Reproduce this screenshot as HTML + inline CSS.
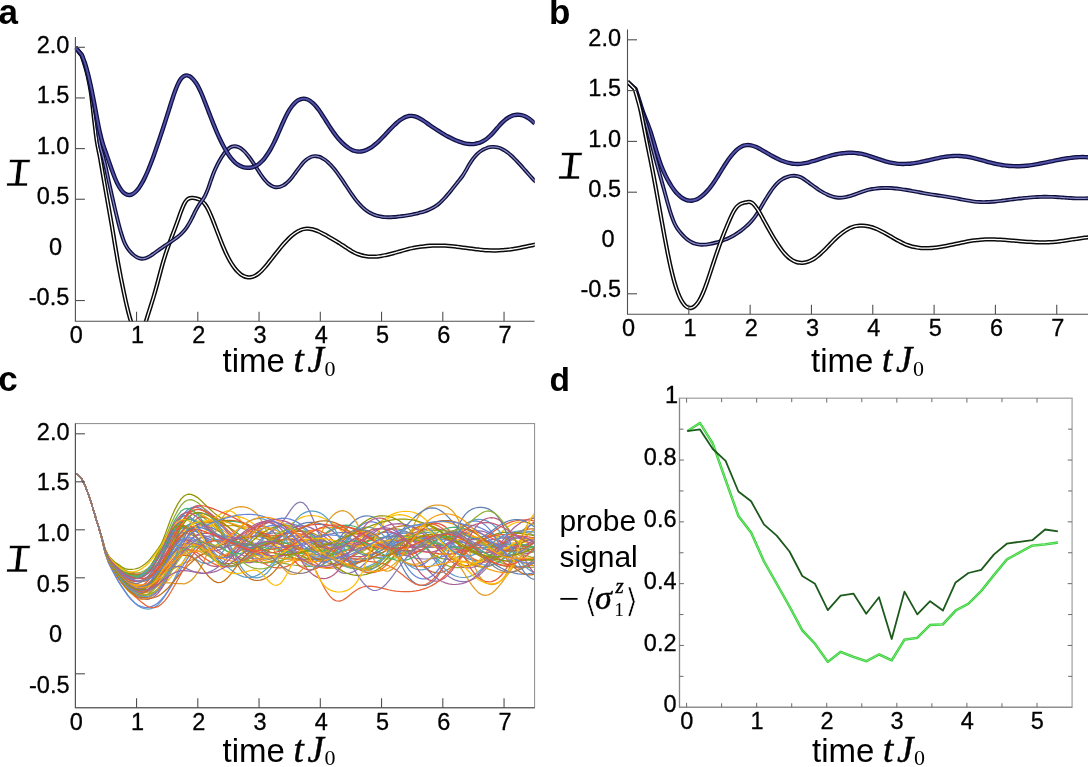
<!DOCTYPE html>
<html><head><meta charset="utf-8"><title>figure</title>
<style>html,body{margin:0;padding:0;background:#fff;overflow:hidden}svg{display:block}</style>
</head><body>
<svg width="1088" height="767" viewBox="0 0 1088 767">
<rect width="1088" height="767" fill="#fff"/>
<style>
text{font-family:"Liberation Sans",sans-serif;fill:#000}
.tk{font-size:23.5px;stroke:#000;stroke-width:0.3px}
.pl{font-size:35px;font-weight:bold}
.xl{font-size:33px}
.mi{font-family:"Liberation Serif","DejaVu Serif",serif;font-style:italic;stroke:#000;stroke-width:0.45px}
.mr{font-family:"Liberation Serif","DejaVu Serif",serif}
.ax{stroke:#4f4f4f;stroke-width:1.1;fill:none}
.c{fill:none;stroke-linejoin:round}
</style>
<clipPath id="ca"><rect x="74.9" y="30" width="459.9" height="291.50"/></clipPath>
<clipPath id="cb"><rect x="627" y="30" width="461" height="284.55"/></clipPath>
<g clip-path="url(#ca)"><path class="c" d="M75.50 47.50L81.90 56.00C82.40 57.55 83.90 61.89 84.90 65.32C85.90 68.75 86.90 72.11 87.90 76.58C88.90 81.05 89.90 85.35 90.90 92.15C91.90 98.94 92.90 109.14 93.90 117.37C94.90 125.60 95.90 134.93 96.90 141.51C97.90 148.09 98.90 151.36 99.90 156.85C100.90 162.34 101.90 168.65 102.90 174.46C103.90 180.27 104.90 186.05 105.90 191.73C106.90 197.41 107.90 202.85 108.90 208.55C109.90 214.25 110.90 219.99 111.90 225.92C112.90 231.85 113.90 238.13 114.90 244.11C115.90 250.08 116.90 256.15 117.90 261.78C118.90 267.41 119.90 272.75 120.90 277.89C121.90 283.03 122.90 287.92 123.90 292.63C124.90 297.35 125.90 301.97 126.90 306.18C127.90 310.39 128.90 314.44 129.90 317.91C130.90 321.38 131.90 324.55 132.90 327.02C133.90 329.49 134.90 331.49 135.90 332.73C136.90 333.97 137.90 334.62 138.90 334.46C139.90 334.31 140.90 333.46 141.90 331.80C142.90 330.15 143.90 327.33 144.90 324.52C145.90 321.72 146.90 318.14 147.90 314.97C148.90 311.81 149.90 308.72 150.90 305.52C151.90 302.32 152.90 299.16 153.90 295.76C154.90 292.36 155.90 288.77 156.90 285.12C157.90 281.47 158.90 277.57 159.90 273.87C160.90 270.17 161.90 266.38 162.90 262.91C163.90 259.45 164.90 256.18 165.90 253.09C166.90 250.01 167.90 247.20 168.90 244.41C169.90 241.62 170.90 239.03 171.90 236.37C172.90 233.71 173.90 231.16 174.90 228.46C175.90 225.76 176.90 222.98 177.90 220.19C178.90 217.40 179.90 214.34 180.90 211.72C181.90 209.09 182.90 206.43 183.90 204.46C184.90 202.49 185.90 200.97 186.90 199.90C187.90 198.84 188.90 198.43 189.90 198.09C190.90 197.76 191.90 197.86 192.90 197.90C193.90 197.94 194.90 198.10 195.90 198.33C196.90 198.56 197.90 198.83 198.90 199.29C199.90 199.75 200.90 200.27 201.90 201.07C202.90 201.87 203.90 202.79 204.90 204.10C205.90 205.40 206.90 207.03 207.90 208.91C208.90 210.80 209.90 213.08 210.90 215.41C211.90 217.74 212.90 220.33 213.90 222.89C214.90 225.44 215.90 228.12 216.90 230.74C217.90 233.35 218.90 236.02 219.90 238.58C220.90 241.14 221.90 243.70 222.90 246.10C223.90 248.50 224.90 250.83 225.90 252.97C226.90 255.12 227.90 257.12 228.90 258.98C229.90 260.84 230.90 262.55 231.90 264.12C232.90 265.68 233.90 267.11 234.90 268.39C235.90 269.68 236.90 270.82 237.90 271.82C238.90 272.82 239.90 273.69 240.90 274.41C241.90 275.14 242.90 275.72 243.90 276.18C244.90 276.63 245.90 276.95 246.90 277.13C247.90 277.32 248.90 277.37 249.90 277.29C250.90 277.22 251.90 277.01 252.90 276.68C253.90 276.35 254.90 275.89 255.90 275.31C256.90 274.73 257.90 274.02 258.90 273.21C259.90 272.40 260.90 271.46 261.90 270.46C262.90 269.46 263.90 268.35 264.90 267.20C265.90 266.06 266.90 264.83 267.90 263.59C268.90 262.35 269.90 261.06 270.90 259.78C271.90 258.49 272.90 257.18 273.90 255.90C274.90 254.61 275.90 253.33 276.90 252.07C277.90 250.81 278.90 249.56 279.90 248.35C280.90 247.13 281.90 245.93 282.90 244.78C283.90 243.63 284.90 242.51 285.90 241.44C286.90 240.37 287.90 239.33 288.90 238.36C289.90 237.39 290.90 236.47 291.90 235.62C292.90 234.77 293.90 233.97 294.90 233.26C295.90 232.54 296.90 231.89 297.90 231.33C298.90 230.78 299.90 230.29 300.90 229.91C301.90 229.52 302.90 229.23 303.90 229.02C304.90 228.82 305.90 228.72 306.90 228.69C307.90 228.66 308.90 228.73 309.90 228.85C310.90 228.97 311.90 229.17 312.90 229.43C313.90 229.68 314.90 230.00 315.90 230.36C316.90 230.72 317.90 231.14 318.90 231.59C319.90 232.04 320.90 232.54 321.90 233.05C322.90 233.57 323.90 234.12 324.90 234.68C325.90 235.24 326.90 235.83 327.90 236.41C328.90 236.99 329.90 237.59 330.90 238.18C331.90 238.76 332.90 239.34 333.90 239.93C334.90 240.51 335.90 241.09 336.90 241.68C337.90 242.28 338.90 242.87 339.90 243.50C340.90 244.12 341.90 244.76 342.90 245.41C343.90 246.07 344.90 246.76 345.90 247.43C346.90 248.10 347.90 248.78 348.90 249.42C349.90 250.07 350.90 250.70 351.90 251.27C352.90 251.84 353.90 252.37 354.90 252.85C355.90 253.32 356.90 253.75 357.90 254.13C358.90 254.51 359.90 254.85 360.90 255.14C361.90 255.43 362.90 255.67 363.90 255.88C364.90 256.08 365.90 256.25 366.90 256.37C367.90 256.50 368.90 256.58 369.90 256.63C370.90 256.69 371.90 256.70 372.90 256.69C373.90 256.68 374.90 256.63 375.90 256.56C376.90 256.49 377.90 256.38 378.90 256.26C379.90 256.14 380.90 255.99 381.90 255.82C382.90 255.66 383.90 255.47 384.90 255.26C385.90 255.06 386.90 254.83 387.90 254.60C388.90 254.37 389.90 254.11 390.90 253.86C391.90 253.60 392.90 253.33 393.90 253.06C394.90 252.79 395.90 252.50 396.90 252.22C397.90 251.94 398.90 251.65 399.90 251.37C400.90 251.09 401.90 250.80 402.90 250.53C403.90 250.25 404.90 249.98 405.90 249.71C406.90 249.45 407.90 249.19 408.90 248.94C409.90 248.70 410.90 248.47 411.90 248.25C412.90 248.03 413.90 247.82 414.90 247.63C415.90 247.44 416.90 247.27 417.90 247.10C418.90 246.94 419.90 246.79 420.90 246.66C421.90 246.52 422.90 246.40 423.90 246.29C424.90 246.18 425.90 246.08 426.90 245.99C427.90 245.91 428.90 245.83 429.90 245.77C430.90 245.71 431.90 245.66 432.90 245.63C433.90 245.59 434.90 245.56 435.90 245.55C436.90 245.54 437.90 245.53 438.90 245.54C439.90 245.55 440.90 245.57 441.90 245.60C442.90 245.63 443.90 245.67 444.90 245.72C445.90 245.77 446.90 245.83 447.90 245.90C448.90 245.97 449.90 246.05 450.90 246.14C451.90 246.23 452.90 246.33 453.90 246.43C454.90 246.53 455.90 246.65 456.90 246.76C457.90 246.88 458.90 247.00 459.90 247.13C460.90 247.25 461.90 247.38 462.90 247.52C463.90 247.65 464.90 247.78 465.90 247.91C466.90 248.05 467.90 248.18 468.90 248.32C469.90 248.45 470.90 248.58 471.90 248.71C472.90 248.84 473.90 248.97 474.90 249.09C475.90 249.22 476.90 249.34 477.90 249.45C478.90 249.56 479.90 249.67 480.90 249.77C481.90 249.86 482.90 249.96 483.90 250.04C484.90 250.12 485.90 250.20 486.90 250.26C487.90 250.32 488.90 250.37 489.90 250.41C490.90 250.45 491.90 250.48 492.90 250.49C493.90 250.51 494.90 250.51 495.90 250.49C496.90 250.48 497.90 250.44 498.90 250.40C499.90 250.35 500.90 250.30 501.90 250.22C502.90 250.15 503.90 250.07 504.90 249.97C505.90 249.88 506.90 249.77 507.90 249.65C508.90 249.53 509.90 249.40 510.90 249.26C511.90 249.12 512.90 248.98 513.90 248.82C514.90 248.66 515.90 248.50 516.90 248.32C517.90 248.15 518.90 247.97 519.90 247.78C520.90 247.60 521.90 247.40 522.90 247.21C523.90 247.01 524.90 246.80 525.90 246.60C526.90 246.39 527.90 246.18 528.90 245.96C529.90 245.75 530.90 245.53 531.90 245.31C532.90 245.09 534.38 244.76 534.90 244.64C535.42 244.53 535.02 244.61 535.05 244.61" stroke="#0a0a0a" stroke-width="4.30"/><path class="c" d="M75.50 47.50L81.90 56.00C82.40 57.55 83.90 61.89 84.90 65.32C85.90 68.75 86.90 72.11 87.90 76.58C88.90 81.05 89.90 85.35 90.90 92.15C91.90 98.94 92.90 109.14 93.90 117.37C94.90 125.60 95.90 134.93 96.90 141.51C97.90 148.09 98.90 151.36 99.90 156.85C100.90 162.34 101.90 168.65 102.90 174.46C103.90 180.27 104.90 186.05 105.90 191.73C106.90 197.41 107.90 202.85 108.90 208.55C109.90 214.25 110.90 219.99 111.90 225.92C112.90 231.85 113.90 238.13 114.90 244.11C115.90 250.08 116.90 256.15 117.90 261.78C118.90 267.41 119.90 272.75 120.90 277.89C121.90 283.03 122.90 287.92 123.90 292.63C124.90 297.35 125.90 301.97 126.90 306.18C127.90 310.39 128.90 314.44 129.90 317.91C130.90 321.38 131.90 324.55 132.90 327.02C133.90 329.49 134.90 331.49 135.90 332.73C136.90 333.97 137.90 334.62 138.90 334.46C139.90 334.31 140.90 333.46 141.90 331.80C142.90 330.15 143.90 327.33 144.90 324.52C145.90 321.72 146.90 318.14 147.90 314.97C148.90 311.81 149.90 308.72 150.90 305.52C151.90 302.32 152.90 299.16 153.90 295.76C154.90 292.36 155.90 288.77 156.90 285.12C157.90 281.47 158.90 277.57 159.90 273.87C160.90 270.17 161.90 266.38 162.90 262.91C163.90 259.45 164.90 256.18 165.90 253.09C166.90 250.01 167.90 247.20 168.90 244.41C169.90 241.62 170.90 239.03 171.90 236.37C172.90 233.71 173.90 231.16 174.90 228.46C175.90 225.76 176.90 222.98 177.90 220.19C178.90 217.40 179.90 214.34 180.90 211.72C181.90 209.09 182.90 206.43 183.90 204.46C184.90 202.49 185.90 200.97 186.90 199.90C187.90 198.84 188.90 198.43 189.90 198.09C190.90 197.76 191.90 197.86 192.90 197.90C193.90 197.94 194.90 198.10 195.90 198.33C196.90 198.56 197.90 198.83 198.90 199.29C199.90 199.75 200.90 200.27 201.90 201.07C202.90 201.87 203.90 202.79 204.90 204.10C205.90 205.40 206.90 207.03 207.90 208.91C208.90 210.80 209.90 213.08 210.90 215.41C211.90 217.74 212.90 220.33 213.90 222.89C214.90 225.44 215.90 228.12 216.90 230.74C217.90 233.35 218.90 236.02 219.90 238.58C220.90 241.14 221.90 243.70 222.90 246.10C223.90 248.50 224.90 250.83 225.90 252.97C226.90 255.12 227.90 257.12 228.90 258.98C229.90 260.84 230.90 262.55 231.90 264.12C232.90 265.68 233.90 267.11 234.90 268.39C235.90 269.68 236.90 270.82 237.90 271.82C238.90 272.82 239.90 273.69 240.90 274.41C241.90 275.14 242.90 275.72 243.90 276.18C244.90 276.63 245.90 276.95 246.90 277.13C247.90 277.32 248.90 277.37 249.90 277.29C250.90 277.22 251.90 277.01 252.90 276.68C253.90 276.35 254.90 275.89 255.90 275.31C256.90 274.73 257.90 274.02 258.90 273.21C259.90 272.40 260.90 271.46 261.90 270.46C262.90 269.46 263.90 268.35 264.90 267.20C265.90 266.06 266.90 264.83 267.90 263.59C268.90 262.35 269.90 261.06 270.90 259.78C271.90 258.49 272.90 257.18 273.90 255.90C274.90 254.61 275.90 253.33 276.90 252.07C277.90 250.81 278.90 249.56 279.90 248.35C280.90 247.13 281.90 245.93 282.90 244.78C283.90 243.63 284.90 242.51 285.90 241.44C286.90 240.37 287.90 239.33 288.90 238.36C289.90 237.39 290.90 236.47 291.90 235.62C292.90 234.77 293.90 233.97 294.90 233.26C295.90 232.54 296.90 231.89 297.90 231.33C298.90 230.78 299.90 230.29 300.90 229.91C301.90 229.52 302.90 229.23 303.90 229.02C304.90 228.82 305.90 228.72 306.90 228.69C307.90 228.66 308.90 228.73 309.90 228.85C310.90 228.97 311.90 229.17 312.90 229.43C313.90 229.68 314.90 230.00 315.90 230.36C316.90 230.72 317.90 231.14 318.90 231.59C319.90 232.04 320.90 232.54 321.90 233.05C322.90 233.57 323.90 234.12 324.90 234.68C325.90 235.24 326.90 235.83 327.90 236.41C328.90 236.99 329.90 237.59 330.90 238.18C331.90 238.76 332.90 239.34 333.90 239.93C334.90 240.51 335.90 241.09 336.90 241.68C337.90 242.28 338.90 242.87 339.90 243.50C340.90 244.12 341.90 244.76 342.90 245.41C343.90 246.07 344.90 246.76 345.90 247.43C346.90 248.10 347.90 248.78 348.90 249.42C349.90 250.07 350.90 250.70 351.90 251.27C352.90 251.84 353.90 252.37 354.90 252.85C355.90 253.32 356.90 253.75 357.90 254.13C358.90 254.51 359.90 254.85 360.90 255.14C361.90 255.43 362.90 255.67 363.90 255.88C364.90 256.08 365.90 256.25 366.90 256.37C367.90 256.50 368.90 256.58 369.90 256.63C370.90 256.69 371.90 256.70 372.90 256.69C373.90 256.68 374.90 256.63 375.90 256.56C376.90 256.49 377.90 256.38 378.90 256.26C379.90 256.14 380.90 255.99 381.90 255.82C382.90 255.66 383.90 255.47 384.90 255.26C385.90 255.06 386.90 254.83 387.90 254.60C388.90 254.37 389.90 254.11 390.90 253.86C391.90 253.60 392.90 253.33 393.90 253.06C394.90 252.79 395.90 252.50 396.90 252.22C397.90 251.94 398.90 251.65 399.90 251.37C400.90 251.09 401.90 250.80 402.90 250.53C403.90 250.25 404.90 249.98 405.90 249.71C406.90 249.45 407.90 249.19 408.90 248.94C409.90 248.70 410.90 248.47 411.90 248.25C412.90 248.03 413.90 247.82 414.90 247.63C415.90 247.44 416.90 247.27 417.90 247.10C418.90 246.94 419.90 246.79 420.90 246.66C421.90 246.52 422.90 246.40 423.90 246.29C424.90 246.18 425.90 246.08 426.90 245.99C427.90 245.91 428.90 245.83 429.90 245.77C430.90 245.71 431.90 245.66 432.90 245.63C433.90 245.59 434.90 245.56 435.90 245.55C436.90 245.54 437.90 245.53 438.90 245.54C439.90 245.55 440.90 245.57 441.90 245.60C442.90 245.63 443.90 245.67 444.90 245.72C445.90 245.77 446.90 245.83 447.90 245.90C448.90 245.97 449.90 246.05 450.90 246.14C451.90 246.23 452.90 246.33 453.90 246.43C454.90 246.53 455.90 246.65 456.90 246.76C457.90 246.88 458.90 247.00 459.90 247.13C460.90 247.25 461.90 247.38 462.90 247.52C463.90 247.65 464.90 247.78 465.90 247.91C466.90 248.05 467.90 248.18 468.90 248.32C469.90 248.45 470.90 248.58 471.90 248.71C472.90 248.84 473.90 248.97 474.90 249.09C475.90 249.22 476.90 249.34 477.90 249.45C478.90 249.56 479.90 249.67 480.90 249.77C481.90 249.86 482.90 249.96 483.90 250.04C484.90 250.12 485.90 250.20 486.90 250.26C487.90 250.32 488.90 250.37 489.90 250.41C490.90 250.45 491.90 250.48 492.90 250.49C493.90 250.51 494.90 250.51 495.90 250.49C496.90 250.48 497.90 250.44 498.90 250.40C499.90 250.35 500.90 250.30 501.90 250.22C502.90 250.15 503.90 250.07 504.90 249.97C505.90 249.88 506.90 249.77 507.90 249.65C508.90 249.53 509.90 249.40 510.90 249.26C511.90 249.12 512.90 248.98 513.90 248.82C514.90 248.66 515.90 248.50 516.90 248.32C517.90 248.15 518.90 247.97 519.90 247.78C520.90 247.60 521.90 247.40 522.90 247.21C523.90 247.01 524.90 246.80 525.90 246.60C526.90 246.39 527.90 246.18 528.90 245.96C529.90 245.75 530.90 245.53 531.90 245.31C532.90 245.09 534.38 244.76 534.90 244.64C535.42 244.53 535.02 244.61 535.05 244.61" stroke="#ffffff" stroke-width="1.30"/></g>
<g clip-path="url(#ca)"><path class="c" d="M75.50 47.50L81.90 55.50C82.40 56.97 83.90 61.01 84.90 64.33C85.90 67.65 86.90 71.22 87.90 75.44C88.90 79.66 89.90 84.78 90.90 89.65C91.90 94.51 92.90 98.94 93.90 104.62C94.90 110.30 95.90 116.98 96.90 123.71C97.90 130.43 98.90 139.62 99.90 144.97C100.90 150.32 101.90 151.98 102.90 155.82C103.90 159.65 104.90 163.64 105.90 167.98C106.90 172.32 107.90 177.28 108.90 181.87C109.90 186.46 110.90 191.07 111.90 195.52C112.90 199.98 113.90 204.37 114.90 208.61C115.90 212.84 116.90 217.01 117.90 220.94C118.90 224.86 119.90 228.79 120.90 232.17C121.90 235.56 122.90 238.71 123.90 241.23C124.90 243.75 125.90 245.61 126.90 247.28C127.90 248.96 128.90 250.11 129.90 251.28C130.90 252.46 131.90 253.45 132.90 254.35C133.90 255.25 134.90 256.03 135.90 256.67C136.90 257.30 137.90 257.81 138.90 258.16C139.90 258.51 140.90 258.72 141.90 258.76C142.90 258.81 143.90 258.67 144.90 258.42C145.90 258.18 146.90 257.76 147.90 257.28C148.90 256.80 149.90 256.19 150.90 255.56C151.90 254.93 152.90 254.20 153.90 253.48C154.90 252.76 155.90 251.99 156.90 251.26C157.90 250.53 158.90 249.80 159.90 249.10C160.90 248.39 161.90 247.71 162.90 247.03C163.90 246.35 164.90 245.69 165.90 245.02C166.90 244.36 167.90 243.70 168.90 243.03C169.90 242.37 170.90 241.70 171.90 241.02C172.90 240.34 173.90 239.67 174.90 238.95C175.90 238.23 176.90 237.52 177.90 236.71C178.90 235.91 179.90 235.08 180.90 234.12C181.90 233.16 182.90 232.14 183.90 230.96C184.90 229.78 185.90 228.50 186.90 227.03C187.90 225.56 188.90 223.94 189.90 222.14C190.90 220.34 191.90 218.24 192.90 216.25C193.90 214.25 194.90 212.05 195.90 210.17C196.90 208.29 197.90 206.53 198.90 204.97C199.90 203.41 200.90 202.30 201.90 200.82C202.90 199.34 203.90 198.05 204.90 196.11C205.90 194.16 206.90 191.75 207.90 189.14C208.90 186.53 209.90 183.25 210.90 180.44C211.90 177.63 212.90 174.75 213.90 172.29C214.90 169.82 215.90 167.69 216.90 165.65C217.90 163.61 218.90 161.78 219.90 160.04C220.90 158.31 221.90 156.68 222.90 155.22C223.90 153.76 224.90 152.43 225.90 151.30C226.90 150.16 227.90 149.17 228.90 148.40C229.90 147.64 230.90 147.05 231.90 146.69C232.90 146.32 233.90 146.17 234.90 146.20C235.90 146.22 236.90 146.45 237.90 146.83C238.90 147.21 239.90 147.77 240.90 148.45C241.90 149.14 242.90 149.99 243.90 150.94C244.90 151.89 245.90 152.99 246.90 154.16C247.90 155.34 248.90 156.63 249.90 157.99C250.90 159.34 251.90 160.80 252.90 162.29C253.90 163.78 254.90 165.36 255.90 166.92C256.90 168.48 257.90 170.10 258.90 171.64C259.90 173.18 260.90 174.73 261.90 176.14C262.90 177.56 263.90 178.93 264.90 180.12C265.90 181.31 266.90 182.39 267.90 183.29C268.90 184.18 269.90 184.92 270.90 185.51C271.90 186.10 272.90 186.53 273.90 186.82C274.90 187.11 275.90 187.25 276.90 187.26C277.90 187.26 278.90 187.12 279.90 186.85C280.90 186.58 281.90 186.17 282.90 185.64C283.90 185.10 284.90 184.43 285.90 183.64C286.90 182.85 287.90 181.92 288.90 180.89C289.90 179.86 290.90 178.67 291.90 177.44C292.90 176.21 293.90 174.84 294.90 173.50C295.90 172.15 296.90 170.73 297.90 169.38C298.90 168.03 299.90 166.66 300.90 165.42C301.90 164.17 302.90 162.96 303.90 161.93C304.90 160.89 305.90 159.98 306.90 159.22C307.90 158.47 308.90 157.86 309.90 157.39C310.90 156.92 311.90 156.60 312.90 156.40C313.90 156.20 314.90 156.14 315.90 156.19C316.90 156.24 317.90 156.42 318.90 156.71C319.90 157.00 320.90 157.41 321.90 157.92C322.90 158.43 323.90 159.06 324.90 159.77C325.90 160.48 326.90 161.30 327.90 162.20C328.90 163.10 329.90 164.11 330.90 165.17C331.90 166.24 332.90 167.40 333.90 168.61C334.90 169.82 335.90 171.11 336.90 172.44C337.90 173.77 338.90 175.16 339.90 176.58C340.90 178.00 341.90 179.48 342.90 180.96C343.90 182.44 344.90 183.96 345.90 185.47C346.90 186.98 347.90 188.51 348.90 190.00C349.90 191.49 350.90 192.98 351.90 194.41C352.90 195.84 353.90 197.25 354.90 198.57C355.90 199.90 356.90 201.18 357.90 202.36C358.90 203.54 359.90 204.64 360.90 205.65C361.90 206.67 362.90 207.60 363.90 208.45C364.90 209.31 365.90 210.08 366.90 210.78C367.90 211.49 368.90 212.12 369.90 212.69C370.90 213.26 371.90 213.76 372.90 214.21C373.90 214.65 374.90 215.04 375.90 215.37C376.90 215.71 377.90 215.99 378.90 216.22C379.90 216.46 380.90 216.64 381.90 216.79C382.90 216.94 383.90 217.04 384.90 217.12C385.90 217.19 386.90 217.23 387.90 217.24C388.90 217.25 389.90 217.23 390.90 217.20C391.90 217.16 392.90 217.09 393.90 217.02C394.90 216.94 395.90 216.85 396.90 216.75C397.90 216.64 398.90 216.53 399.90 216.41C400.90 216.30 401.90 216.17 402.90 216.04C403.90 215.91 404.90 215.77 405.90 215.61C406.90 215.46 407.90 215.30 408.90 215.13C409.90 214.96 410.90 214.78 411.90 214.59C412.90 214.39 413.90 214.19 414.90 213.97C415.90 213.75 416.90 213.52 417.90 213.27C418.90 213.02 419.90 212.77 420.90 212.49C421.90 212.21 422.90 211.92 423.90 211.60C424.90 211.28 425.90 210.95 426.90 210.56C427.90 210.18 428.90 209.77 429.90 209.31C430.90 208.85 431.90 208.35 432.90 207.78C433.90 207.22 434.90 206.61 435.90 205.92C436.90 205.23 437.90 204.49 438.90 203.66C439.90 202.83 440.90 201.92 441.90 200.94C442.90 199.97 443.90 198.90 444.90 197.80C445.90 196.70 446.90 195.54 447.90 194.35C448.90 193.16 449.90 191.92 450.90 190.68C451.90 189.44 452.90 188.16 453.90 186.90C454.90 185.64 455.90 184.37 456.90 183.12C457.90 181.87 458.90 180.69 459.90 179.38C460.90 178.08 461.90 176.80 462.90 175.30C463.90 173.80 464.90 172.09 465.90 170.39C466.90 168.69 467.90 166.78 468.90 165.10C469.90 163.42 470.90 161.77 471.90 160.33C472.90 158.89 473.90 157.61 474.90 156.45C475.90 155.29 476.90 154.28 477.90 153.37C478.90 152.46 479.90 151.69 480.90 151.00C481.90 150.31 482.90 149.74 483.90 149.24C484.90 148.73 485.90 148.32 486.90 147.98C487.90 147.64 488.90 147.38 489.90 147.19C490.90 147.01 491.90 146.91 492.90 146.89C493.90 146.87 494.90 146.93 495.90 147.07C496.90 147.21 497.90 147.44 498.90 147.75C499.90 148.06 500.90 148.46 501.90 148.94C502.90 149.42 503.90 150.00 504.90 150.63C505.90 151.27 506.90 151.99 507.90 152.77C508.90 153.54 509.90 154.39 510.90 155.27C511.90 156.16 512.90 157.11 513.90 158.09C514.90 159.07 515.90 160.10 516.90 161.15C517.90 162.20 518.90 163.29 519.90 164.39C520.90 165.49 521.90 166.62 522.90 167.74C523.90 168.87 524.90 170.01 525.90 171.14C526.90 172.27 527.90 173.40 528.90 174.51C529.90 175.62 530.90 176.73 531.90 177.80C532.90 178.87 534.39 180.41 534.90 180.94C535.41 181.47 534.94 180.98 534.95 180.99" stroke="#0f0f3e" stroke-width="3.90"/><path class="c" d="M75.50 47.50L81.90 55.50C82.40 56.97 83.90 61.01 84.90 64.33C85.90 67.65 86.90 71.22 87.90 75.44C88.90 79.66 89.90 84.78 90.90 89.65C91.90 94.51 92.90 98.94 93.90 104.62C94.90 110.30 95.90 116.98 96.90 123.71C97.90 130.43 98.90 139.62 99.90 144.97C100.90 150.32 101.90 151.98 102.90 155.82C103.90 159.65 104.90 163.64 105.90 167.98C106.90 172.32 107.90 177.28 108.90 181.87C109.90 186.46 110.90 191.07 111.90 195.52C112.90 199.98 113.90 204.37 114.90 208.61C115.90 212.84 116.90 217.01 117.90 220.94C118.90 224.86 119.90 228.79 120.90 232.17C121.90 235.56 122.90 238.71 123.90 241.23C124.90 243.75 125.90 245.61 126.90 247.28C127.90 248.96 128.90 250.11 129.90 251.28C130.90 252.46 131.90 253.45 132.90 254.35C133.90 255.25 134.90 256.03 135.90 256.67C136.90 257.30 137.90 257.81 138.90 258.16C139.90 258.51 140.90 258.72 141.90 258.76C142.90 258.81 143.90 258.67 144.90 258.42C145.90 258.18 146.90 257.76 147.90 257.28C148.90 256.80 149.90 256.19 150.90 255.56C151.90 254.93 152.90 254.20 153.90 253.48C154.90 252.76 155.90 251.99 156.90 251.26C157.90 250.53 158.90 249.80 159.90 249.10C160.90 248.39 161.90 247.71 162.90 247.03C163.90 246.35 164.90 245.69 165.90 245.02C166.90 244.36 167.90 243.70 168.90 243.03C169.90 242.37 170.90 241.70 171.90 241.02C172.90 240.34 173.90 239.67 174.90 238.95C175.90 238.23 176.90 237.52 177.90 236.71C178.90 235.91 179.90 235.08 180.90 234.12C181.90 233.16 182.90 232.14 183.90 230.96C184.90 229.78 185.90 228.50 186.90 227.03C187.90 225.56 188.90 223.94 189.90 222.14C190.90 220.34 191.90 218.24 192.90 216.25C193.90 214.25 194.90 212.05 195.90 210.17C196.90 208.29 197.90 206.53 198.90 204.97C199.90 203.41 200.90 202.30 201.90 200.82C202.90 199.34 203.90 198.05 204.90 196.11C205.90 194.16 206.90 191.75 207.90 189.14C208.90 186.53 209.90 183.25 210.90 180.44C211.90 177.63 212.90 174.75 213.90 172.29C214.90 169.82 215.90 167.69 216.90 165.65C217.90 163.61 218.90 161.78 219.90 160.04C220.90 158.31 221.90 156.68 222.90 155.22C223.90 153.76 224.90 152.43 225.90 151.30C226.90 150.16 227.90 149.17 228.90 148.40C229.90 147.64 230.90 147.05 231.90 146.69C232.90 146.32 233.90 146.17 234.90 146.20C235.90 146.22 236.90 146.45 237.90 146.83C238.90 147.21 239.90 147.77 240.90 148.45C241.90 149.14 242.90 149.99 243.90 150.94C244.90 151.89 245.90 152.99 246.90 154.16C247.90 155.34 248.90 156.63 249.90 157.99C250.90 159.34 251.90 160.80 252.90 162.29C253.90 163.78 254.90 165.36 255.90 166.92C256.90 168.48 257.90 170.10 258.90 171.64C259.90 173.18 260.90 174.73 261.90 176.14C262.90 177.56 263.90 178.93 264.90 180.12C265.90 181.31 266.90 182.39 267.90 183.29C268.90 184.18 269.90 184.92 270.90 185.51C271.90 186.10 272.90 186.53 273.90 186.82C274.90 187.11 275.90 187.25 276.90 187.26C277.90 187.26 278.90 187.12 279.90 186.85C280.90 186.58 281.90 186.17 282.90 185.64C283.90 185.10 284.90 184.43 285.90 183.64C286.90 182.85 287.90 181.92 288.90 180.89C289.90 179.86 290.90 178.67 291.90 177.44C292.90 176.21 293.90 174.84 294.90 173.50C295.90 172.15 296.90 170.73 297.90 169.38C298.90 168.03 299.90 166.66 300.90 165.42C301.90 164.17 302.90 162.96 303.90 161.93C304.90 160.89 305.90 159.98 306.90 159.22C307.90 158.47 308.90 157.86 309.90 157.39C310.90 156.92 311.90 156.60 312.90 156.40C313.90 156.20 314.90 156.14 315.90 156.19C316.90 156.24 317.90 156.42 318.90 156.71C319.90 157.00 320.90 157.41 321.90 157.92C322.90 158.43 323.90 159.06 324.90 159.77C325.90 160.48 326.90 161.30 327.90 162.20C328.90 163.10 329.90 164.11 330.90 165.17C331.90 166.24 332.90 167.40 333.90 168.61C334.90 169.82 335.90 171.11 336.90 172.44C337.90 173.77 338.90 175.16 339.90 176.58C340.90 178.00 341.90 179.48 342.90 180.96C343.90 182.44 344.90 183.96 345.90 185.47C346.90 186.98 347.90 188.51 348.90 190.00C349.90 191.49 350.90 192.98 351.90 194.41C352.90 195.84 353.90 197.25 354.90 198.57C355.90 199.90 356.90 201.18 357.90 202.36C358.90 203.54 359.90 204.64 360.90 205.65C361.90 206.67 362.90 207.60 363.90 208.45C364.90 209.31 365.90 210.08 366.90 210.78C367.90 211.49 368.90 212.12 369.90 212.69C370.90 213.26 371.90 213.76 372.90 214.21C373.90 214.65 374.90 215.04 375.90 215.37C376.90 215.71 377.90 215.99 378.90 216.22C379.90 216.46 380.90 216.64 381.90 216.79C382.90 216.94 383.90 217.04 384.90 217.12C385.90 217.19 386.90 217.23 387.90 217.24C388.90 217.25 389.90 217.23 390.90 217.20C391.90 217.16 392.90 217.09 393.90 217.02C394.90 216.94 395.90 216.85 396.90 216.75C397.90 216.64 398.90 216.53 399.90 216.41C400.90 216.30 401.90 216.17 402.90 216.04C403.90 215.91 404.90 215.77 405.90 215.61C406.90 215.46 407.90 215.30 408.90 215.13C409.90 214.96 410.90 214.78 411.90 214.59C412.90 214.39 413.90 214.19 414.90 213.97C415.90 213.75 416.90 213.52 417.90 213.27C418.90 213.02 419.90 212.77 420.90 212.49C421.90 212.21 422.90 211.92 423.90 211.60C424.90 211.28 425.90 210.95 426.90 210.56C427.90 210.18 428.90 209.77 429.90 209.31C430.90 208.85 431.90 208.35 432.90 207.78C433.90 207.22 434.90 206.61 435.90 205.92C436.90 205.23 437.90 204.49 438.90 203.66C439.90 202.83 440.90 201.92 441.90 200.94C442.90 199.97 443.90 198.90 444.90 197.80C445.90 196.70 446.90 195.54 447.90 194.35C448.90 193.16 449.90 191.92 450.90 190.68C451.90 189.44 452.90 188.16 453.90 186.90C454.90 185.64 455.90 184.37 456.90 183.12C457.90 181.87 458.90 180.69 459.90 179.38C460.90 178.08 461.90 176.80 462.90 175.30C463.90 173.80 464.90 172.09 465.90 170.39C466.90 168.69 467.90 166.78 468.90 165.10C469.90 163.42 470.90 161.77 471.90 160.33C472.90 158.89 473.90 157.61 474.90 156.45C475.90 155.29 476.90 154.28 477.90 153.37C478.90 152.46 479.90 151.69 480.90 151.00C481.90 150.31 482.90 149.74 483.90 149.24C484.90 148.73 485.90 148.32 486.90 147.98C487.90 147.64 488.90 147.38 489.90 147.19C490.90 147.01 491.90 146.91 492.90 146.89C493.90 146.87 494.90 146.93 495.90 147.07C496.90 147.21 497.90 147.44 498.90 147.75C499.90 148.06 500.90 148.46 501.90 148.94C502.90 149.42 503.90 150.00 504.90 150.63C505.90 151.27 506.90 151.99 507.90 152.77C508.90 153.54 509.90 154.39 510.90 155.27C511.90 156.16 512.90 157.11 513.90 158.09C514.90 159.07 515.90 160.10 516.90 161.15C517.90 162.20 518.90 163.29 519.90 164.39C520.90 165.49 521.90 166.62 522.90 167.74C523.90 168.87 524.90 170.01 525.90 171.14C526.90 172.27 527.90 173.40 528.90 174.51C529.90 175.62 530.90 176.73 531.90 177.80C532.90 178.87 534.39 180.41 534.90 180.94C535.41 181.47 534.94 180.98 534.95 180.99" stroke="#8c8cc8" stroke-width="1.20"/></g>
<g clip-path="url(#ca)"><path class="c" d="M75.50 47.50L81.90 55.00C82.40 56.34 83.90 59.95 84.90 63.05C85.90 66.16 86.90 69.73 87.90 73.64C88.90 77.55 89.90 81.89 90.90 86.52C91.90 91.16 92.90 96.30 93.90 101.48C94.90 106.65 95.90 112.38 96.90 117.57C97.90 122.75 98.90 128.16 99.90 132.59C100.90 137.01 101.90 140.76 102.90 144.12C103.90 147.48 104.90 149.87 105.90 152.74C106.90 155.62 107.90 158.49 108.90 161.38C109.90 164.27 110.90 167.31 111.90 170.08C112.90 172.85 113.90 175.57 114.90 177.99C115.90 180.42 116.90 182.68 117.90 184.60C118.90 186.53 119.90 188.18 120.90 189.56C121.90 190.94 122.90 192.03 123.90 192.88C124.90 193.73 125.90 194.31 126.90 194.66C127.90 195.00 128.90 195.09 129.90 194.96C130.90 194.83 131.90 194.46 132.90 193.89C133.90 193.31 134.90 192.51 135.90 191.52C136.90 190.52 137.90 189.32 138.90 187.93C139.90 186.55 140.90 184.96 141.90 183.22C142.90 181.47 143.90 179.54 144.90 177.46C145.90 175.38 146.90 173.12 147.90 170.75C148.90 168.38 149.90 165.85 150.90 163.25C151.90 160.65 152.90 157.92 153.90 155.14C154.90 152.36 155.90 149.48 156.90 146.59C157.90 143.69 158.90 140.74 159.90 137.75C160.90 134.77 161.90 131.75 162.90 128.70C163.90 125.64 164.90 122.55 165.90 119.43C166.90 116.30 167.90 113.12 168.90 109.95C169.90 106.79 170.90 103.50 171.90 100.44C172.90 97.37 173.90 94.28 174.90 91.56C175.90 88.84 176.90 86.23 177.90 84.12C178.90 82.01 179.90 80.23 180.90 78.89C181.90 77.55 182.90 76.67 183.90 76.08C184.90 75.50 185.90 75.33 186.90 75.40C187.90 75.46 188.90 75.88 189.90 76.49C190.90 77.09 191.90 77.97 192.90 79.01C193.90 80.06 194.90 81.28 195.90 82.77C196.90 84.25 197.90 85.96 198.90 87.91C199.90 89.87 200.90 92.15 201.90 94.50C202.90 96.85 203.90 99.45 204.90 102.00C205.90 104.55 206.90 107.21 207.90 109.80C208.90 112.39 209.90 114.99 210.90 117.54C211.90 120.09 212.90 122.62 213.90 125.08C214.90 127.53 215.90 129.96 216.90 132.27C217.90 134.59 218.90 136.84 219.90 138.97C220.90 141.10 221.90 143.13 222.90 145.05C223.90 146.96 224.90 148.77 225.90 150.45C226.90 152.14 227.90 153.71 228.90 155.15C229.90 156.59 230.90 157.92 231.90 159.10C232.90 160.29 233.90 161.34 234.90 162.27C235.90 163.20 236.90 163.98 237.90 164.66C238.90 165.34 239.90 165.89 240.90 166.34C241.90 166.79 242.90 167.12 243.90 167.36C244.90 167.61 245.90 167.74 246.90 167.80C247.90 167.85 248.90 167.82 249.90 167.70C250.90 167.58 251.90 167.38 252.90 167.07C253.90 166.76 254.90 166.36 255.90 165.84C256.90 165.31 257.90 164.69 258.90 163.93C259.90 163.17 260.90 162.30 261.90 161.28C262.90 160.26 263.90 159.11 264.90 157.82C265.90 156.54 266.90 155.11 267.90 153.57C268.90 152.03 269.90 150.36 270.90 148.57C271.90 146.79 272.90 144.88 273.90 142.87C274.90 140.85 275.90 138.70 276.90 136.50C277.90 134.29 278.90 131.94 279.90 129.65C280.90 127.36 281.90 124.99 282.90 122.77C283.90 120.54 284.90 118.32 285.90 116.31C286.90 114.31 287.90 112.41 288.90 110.73C289.90 109.05 290.90 107.56 291.90 106.23C292.90 104.91 293.90 103.77 294.90 102.80C295.90 101.83 296.90 101.03 297.90 100.41C298.90 99.78 299.90 99.33 300.90 99.04C301.90 98.75 302.90 98.63 303.90 98.66C304.90 98.70 305.90 98.90 306.90 99.25C307.90 99.60 308.90 100.10 309.90 100.74C310.90 101.38 311.90 102.17 312.90 103.08C313.90 103.99 314.90 105.05 315.90 106.21C316.90 107.38 317.90 108.69 318.90 110.06C319.90 111.43 320.90 112.92 321.90 114.43C322.90 115.94 323.90 117.54 324.90 119.11C325.90 120.69 326.90 122.31 327.90 123.88C328.90 125.45 329.90 127.03 330.90 128.53C331.90 130.02 332.90 131.47 333.90 132.85C334.90 134.23 335.90 135.55 336.90 136.80C337.90 138.04 338.90 139.23 339.90 140.33C340.90 141.44 341.90 142.48 342.90 143.44C343.90 144.40 344.90 145.29 345.90 146.09C346.90 146.89 347.90 147.61 348.90 148.25C349.90 148.88 350.90 149.44 351.90 149.89C352.90 150.35 353.90 150.73 354.90 151.00C355.90 151.28 356.90 151.46 357.90 151.54C358.90 151.62 359.90 151.60 360.90 151.50C361.90 151.39 362.90 151.18 363.90 150.89C364.90 150.61 365.90 150.23 366.90 149.78C367.90 149.33 368.90 148.79 369.90 148.19C370.90 147.59 371.90 146.91 372.90 146.18C373.90 145.44 374.90 144.63 375.90 143.78C376.90 142.92 377.90 142.00 378.90 141.05C379.90 140.09 380.90 139.08 381.90 138.06C382.90 137.03 383.90 135.97 384.90 134.91C385.90 133.85 386.90 132.76 387.90 131.70C388.90 130.64 389.90 129.57 390.90 128.54C391.90 127.52 392.90 126.50 393.90 125.53C394.90 124.57 395.90 123.63 396.90 122.77C397.90 121.91 398.90 121.09 399.90 120.35C400.90 119.62 401.90 118.94 402.90 118.37C403.90 117.79 404.90 117.29 405.90 116.90C406.90 116.51 407.90 116.21 408.90 116.04C409.90 115.87 410.90 115.81 411.90 115.88C412.90 115.94 413.90 116.14 414.90 116.42C415.90 116.69 416.90 117.09 417.90 117.54C418.90 117.99 419.90 118.53 420.90 119.11C421.90 119.69 422.90 120.34 423.90 121.00C424.90 121.66 425.90 122.38 426.90 123.08C427.90 123.78 428.90 124.50 429.90 125.20C430.90 125.90 431.90 126.60 432.90 127.27C433.90 127.95 434.90 128.62 435.90 129.28C436.90 129.93 437.90 130.57 438.90 131.20C439.90 131.83 440.90 132.45 441.90 133.05C442.90 133.65 443.90 134.23 444.90 134.80C445.90 135.37 446.90 135.93 447.90 136.47C448.90 137.01 449.90 137.53 450.90 138.03C451.90 138.54 452.90 139.03 453.90 139.49C454.90 139.95 455.90 140.39 456.90 140.80C457.90 141.21 458.90 141.60 459.90 141.95C460.90 142.29 461.90 142.61 462.90 142.88C463.90 143.15 464.90 143.39 465.90 143.58C466.90 143.76 467.90 143.91 468.90 143.99C469.90 144.08 470.90 144.12 471.90 144.10C472.90 144.08 473.90 144.01 474.90 143.86C475.90 143.72 476.90 143.52 477.90 143.24C478.90 142.97 479.90 142.62 480.90 142.20C481.90 141.77 482.90 141.27 483.90 140.67C484.90 140.08 485.90 139.40 486.90 138.63C487.90 137.85 488.90 136.97 489.90 136.02C490.90 135.07 491.90 133.99 492.90 132.91C493.90 131.83 494.90 130.67 495.90 129.54C496.90 128.41 497.90 127.23 498.90 126.13C499.90 125.02 500.90 123.91 501.90 122.92C502.90 121.92 503.90 120.97 504.90 120.14C505.90 119.31 506.90 118.57 507.90 117.93C508.90 117.29 509.90 116.74 510.90 116.30C511.90 115.85 512.90 115.50 513.90 115.24C514.90 114.98 515.90 114.82 516.90 114.75C517.90 114.69 518.90 114.71 519.90 114.84C520.90 114.96 521.90 115.18 522.90 115.49C523.90 115.80 524.90 116.21 525.90 116.71C526.90 117.21 527.90 117.80 528.90 118.49C529.90 119.17 530.92 119.98 531.90 120.83C532.88 121.67 534.27 123.11 534.75 123.57" stroke="#0f0f42" stroke-width="4.40"/><path class="c" d="M75.50 47.50L81.90 55.00C82.40 56.34 83.90 59.95 84.90 63.05C85.90 66.16 86.90 69.73 87.90 73.64C88.90 77.55 89.90 81.89 90.90 86.52C91.90 91.16 92.90 96.30 93.90 101.48C94.90 106.65 95.90 112.38 96.90 117.57C97.90 122.75 98.90 128.16 99.90 132.59C100.90 137.01 101.90 140.76 102.90 144.12C103.90 147.48 104.90 149.87 105.90 152.74C106.90 155.62 107.90 158.49 108.90 161.38C109.90 164.27 110.90 167.31 111.90 170.08C112.90 172.85 113.90 175.57 114.90 177.99C115.90 180.42 116.90 182.68 117.90 184.60C118.90 186.53 119.90 188.18 120.90 189.56C121.90 190.94 122.90 192.03 123.90 192.88C124.90 193.73 125.90 194.31 126.90 194.66C127.90 195.00 128.90 195.09 129.90 194.96C130.90 194.83 131.90 194.46 132.90 193.89C133.90 193.31 134.90 192.51 135.90 191.52C136.90 190.52 137.90 189.32 138.90 187.93C139.90 186.55 140.90 184.96 141.90 183.22C142.90 181.47 143.90 179.54 144.90 177.46C145.90 175.38 146.90 173.12 147.90 170.75C148.90 168.38 149.90 165.85 150.90 163.25C151.90 160.65 152.90 157.92 153.90 155.14C154.90 152.36 155.90 149.48 156.90 146.59C157.90 143.69 158.90 140.74 159.90 137.75C160.90 134.77 161.90 131.75 162.90 128.70C163.90 125.64 164.90 122.55 165.90 119.43C166.90 116.30 167.90 113.12 168.90 109.95C169.90 106.79 170.90 103.50 171.90 100.44C172.90 97.37 173.90 94.28 174.90 91.56C175.90 88.84 176.90 86.23 177.90 84.12C178.90 82.01 179.90 80.23 180.90 78.89C181.90 77.55 182.90 76.67 183.90 76.08C184.90 75.50 185.90 75.33 186.90 75.40C187.90 75.46 188.90 75.88 189.90 76.49C190.90 77.09 191.90 77.97 192.90 79.01C193.90 80.06 194.90 81.28 195.90 82.77C196.90 84.25 197.90 85.96 198.90 87.91C199.90 89.87 200.90 92.15 201.90 94.50C202.90 96.85 203.90 99.45 204.90 102.00C205.90 104.55 206.90 107.21 207.90 109.80C208.90 112.39 209.90 114.99 210.90 117.54C211.90 120.09 212.90 122.62 213.90 125.08C214.90 127.53 215.90 129.96 216.90 132.27C217.90 134.59 218.90 136.84 219.90 138.97C220.90 141.10 221.90 143.13 222.90 145.05C223.90 146.96 224.90 148.77 225.90 150.45C226.90 152.14 227.90 153.71 228.90 155.15C229.90 156.59 230.90 157.92 231.90 159.10C232.90 160.29 233.90 161.34 234.90 162.27C235.90 163.20 236.90 163.98 237.90 164.66C238.90 165.34 239.90 165.89 240.90 166.34C241.90 166.79 242.90 167.12 243.90 167.36C244.90 167.61 245.90 167.74 246.90 167.80C247.90 167.85 248.90 167.82 249.90 167.70C250.90 167.58 251.90 167.38 252.90 167.07C253.90 166.76 254.90 166.36 255.90 165.84C256.90 165.31 257.90 164.69 258.90 163.93C259.90 163.17 260.90 162.30 261.90 161.28C262.90 160.26 263.90 159.11 264.90 157.82C265.90 156.54 266.90 155.11 267.90 153.57C268.90 152.03 269.90 150.36 270.90 148.57C271.90 146.79 272.90 144.88 273.90 142.87C274.90 140.85 275.90 138.70 276.90 136.50C277.90 134.29 278.90 131.94 279.90 129.65C280.90 127.36 281.90 124.99 282.90 122.77C283.90 120.54 284.90 118.32 285.90 116.31C286.90 114.31 287.90 112.41 288.90 110.73C289.90 109.05 290.90 107.56 291.90 106.23C292.90 104.91 293.90 103.77 294.90 102.80C295.90 101.83 296.90 101.03 297.90 100.41C298.90 99.78 299.90 99.33 300.90 99.04C301.90 98.75 302.90 98.63 303.90 98.66C304.90 98.70 305.90 98.90 306.90 99.25C307.90 99.60 308.90 100.10 309.90 100.74C310.90 101.38 311.90 102.17 312.90 103.08C313.90 103.99 314.90 105.05 315.90 106.21C316.90 107.38 317.90 108.69 318.90 110.06C319.90 111.43 320.90 112.92 321.90 114.43C322.90 115.94 323.90 117.54 324.90 119.11C325.90 120.69 326.90 122.31 327.90 123.88C328.90 125.45 329.90 127.03 330.90 128.53C331.90 130.02 332.90 131.47 333.90 132.85C334.90 134.23 335.90 135.55 336.90 136.80C337.90 138.04 338.90 139.23 339.90 140.33C340.90 141.44 341.90 142.48 342.90 143.44C343.90 144.40 344.90 145.29 345.90 146.09C346.90 146.89 347.90 147.61 348.90 148.25C349.90 148.88 350.90 149.44 351.90 149.89C352.90 150.35 353.90 150.73 354.90 151.00C355.90 151.28 356.90 151.46 357.90 151.54C358.90 151.62 359.90 151.60 360.90 151.50C361.90 151.39 362.90 151.18 363.90 150.89C364.90 150.61 365.90 150.23 366.90 149.78C367.90 149.33 368.90 148.79 369.90 148.19C370.90 147.59 371.90 146.91 372.90 146.18C373.90 145.44 374.90 144.63 375.90 143.78C376.90 142.92 377.90 142.00 378.90 141.05C379.90 140.09 380.90 139.08 381.90 138.06C382.90 137.03 383.90 135.97 384.90 134.91C385.90 133.85 386.90 132.76 387.90 131.70C388.90 130.64 389.90 129.57 390.90 128.54C391.90 127.52 392.90 126.50 393.90 125.53C394.90 124.57 395.90 123.63 396.90 122.77C397.90 121.91 398.90 121.09 399.90 120.35C400.90 119.62 401.90 118.94 402.90 118.37C403.90 117.79 404.90 117.29 405.90 116.90C406.90 116.51 407.90 116.21 408.90 116.04C409.90 115.87 410.90 115.81 411.90 115.88C412.90 115.94 413.90 116.14 414.90 116.42C415.90 116.69 416.90 117.09 417.90 117.54C418.90 117.99 419.90 118.53 420.90 119.11C421.90 119.69 422.90 120.34 423.90 121.00C424.90 121.66 425.90 122.38 426.90 123.08C427.90 123.78 428.90 124.50 429.90 125.20C430.90 125.90 431.90 126.60 432.90 127.27C433.90 127.95 434.90 128.62 435.90 129.28C436.90 129.93 437.90 130.57 438.90 131.20C439.90 131.83 440.90 132.45 441.90 133.05C442.90 133.65 443.90 134.23 444.90 134.80C445.90 135.37 446.90 135.93 447.90 136.47C448.90 137.01 449.90 137.53 450.90 138.03C451.90 138.54 452.90 139.03 453.90 139.49C454.90 139.95 455.90 140.39 456.90 140.80C457.90 141.21 458.90 141.60 459.90 141.95C460.90 142.29 461.90 142.61 462.90 142.88C463.90 143.15 464.90 143.39 465.90 143.58C466.90 143.76 467.90 143.91 468.90 143.99C469.90 144.08 470.90 144.12 471.90 144.10C472.90 144.08 473.90 144.01 474.90 143.86C475.90 143.72 476.90 143.52 477.90 143.24C478.90 142.97 479.90 142.62 480.90 142.20C481.90 141.77 482.90 141.27 483.90 140.67C484.90 140.08 485.90 139.40 486.90 138.63C487.90 137.85 488.90 136.97 489.90 136.02C490.90 135.07 491.90 133.99 492.90 132.91C493.90 131.83 494.90 130.67 495.90 129.54C496.90 128.41 497.90 127.23 498.90 126.13C499.90 125.02 500.90 123.91 501.90 122.92C502.90 121.92 503.90 120.97 504.90 120.14C505.90 119.31 506.90 118.57 507.90 117.93C508.90 117.29 509.90 116.74 510.90 116.30C511.90 115.85 512.90 115.50 513.90 115.24C514.90 114.98 515.90 114.82 516.90 114.75C517.90 114.69 518.90 114.71 519.90 114.84C520.90 114.96 521.90 115.18 522.90 115.49C523.90 115.80 524.90 116.21 525.90 116.71C526.90 117.21 527.90 117.80 528.90 118.49C529.90 119.17 530.92 119.98 531.90 120.83C532.88 121.67 534.27 123.11 534.75 123.57" stroke="#5252a8" stroke-width="1.90"/></g>
<line class="ax" x1="75.40" y1="37.00" x2="75.40" y2="321.20"/>
<line class="ax" x1="74.90" y1="321.20" x2="534.60" y2="321.20"/>
<line class="ax" x1="75.40" y1="47.30" x2="84.90" y2="47.30"/>
<line class="ax" x1="75.40" y1="97.95" x2="84.90" y2="97.95"/>
<line class="ax" x1="75.40" y1="148.60" x2="84.90" y2="148.60"/>
<line class="ax" x1="75.40" y1="199.25" x2="84.90" y2="199.25"/>
<line class="ax" x1="75.40" y1="300.55" x2="84.90" y2="300.55"/>
<line class="ax" x1="136.55" y1="321.20" x2="136.55" y2="311.70"/>
<line class="ax" x1="197.80" y1="321.20" x2="197.80" y2="311.70"/>
<line class="ax" x1="259.05" y1="321.20" x2="259.05" y2="311.70"/>
<line class="ax" x1="320.30" y1="321.20" x2="320.30" y2="311.70"/>
<line class="ax" x1="381.55" y1="321.20" x2="381.55" y2="311.70"/>
<line class="ax" x1="442.80" y1="321.20" x2="442.80" y2="311.70"/>
<line class="ax" x1="504.05" y1="321.20" x2="504.05" y2="311.70"/>
<text class="tk" x="69.30" y="52.60" text-anchor="end">2.0</text>
<text class="tk" x="69.30" y="103.10" text-anchor="end">1.5</text>
<text class="tk" x="69.30" y="153.60" text-anchor="end">1.0</text>
<text class="tk" x="69.30" y="204.10" text-anchor="end">0.5</text>
<text class="tk" x="62.00" y="254.60" text-anchor="end">0</text>
<text class="tk" x="69.30" y="305.10" text-anchor="end">-0.5</text>
<text class="tk" x="76.40" y="343.00" text-anchor="middle">0</text>
<text class="tk" x="137.65" y="343.00" text-anchor="middle">1</text>
<text class="tk" x="198.90" y="343.00" text-anchor="middle">2</text>
<text class="tk" x="260.15" y="343.00" text-anchor="middle">3</text>
<text class="tk" x="321.40" y="343.00" text-anchor="middle">4</text>
<text class="tk" x="382.65" y="343.00" text-anchor="middle">5</text>
<text class="tk" x="443.90" y="343.00" text-anchor="middle">6</text>
<text class="tk" x="505.15" y="343.00" text-anchor="middle">7</text>
<text class="xl" x="222.50" y="372.00">time</text>
<text class="mi" font-size="37" x="293.50" y="372.00">t</text>
<text class="mi" font-size="37" x="307.50" y="372.00">J</text>
<text class="mr" font-size="22" x="324.50" y="375.60">0</text>
<text class="pl" x="-1.50" y="24.00" text-anchor="start">a</text>
<text x="0" y="0" font-size="41" style="font-family:'Liberation Mono',monospace;font-style:italic;stroke:#fff;stroke-width:0.6px;paint-order:fill stroke" transform="translate(4.00 186.20) scale(1.27 0.985) skewX(6)">I</text>
<g clip-path="url(#cb)"><path class="c" d="M627.50 81.90L635.60 89.20C636.10 90.68 637.60 94.97 638.60 98.11C639.60 101.24 640.60 104.97 641.60 108.01C642.60 111.06 643.60 113.77 644.60 116.39C645.60 119.00 646.60 121.08 647.60 123.68C648.60 126.29 649.60 129.01 650.60 132.01C651.60 135.02 652.60 138.41 653.60 141.71C654.60 145.00 655.60 148.53 656.60 151.78C657.60 155.03 658.60 158.32 659.60 161.22C660.60 164.12 661.60 166.75 662.60 169.17C663.60 171.59 664.60 173.71 665.60 175.76C666.60 177.81 667.60 179.68 668.60 181.45C669.60 183.22 670.60 184.86 671.60 186.38C672.60 187.90 673.60 189.30 674.60 190.57C675.60 191.85 676.60 193.00 677.60 194.03C678.60 195.06 679.60 195.96 680.60 196.75C681.60 197.54 682.60 198.21 683.60 198.76C684.60 199.31 685.60 199.74 686.60 200.05C687.60 200.37 688.60 200.56 689.60 200.64C690.60 200.72 691.60 200.69 692.60 200.54C693.60 200.39 694.60 200.12 695.60 199.76C696.60 199.39 697.60 198.91 698.60 198.33C699.60 197.75 700.60 197.06 701.60 196.29C702.60 195.51 703.60 194.63 704.60 193.67C705.60 192.71 706.60 191.65 707.60 190.51C708.60 189.37 709.60 188.14 710.60 186.84C711.60 185.54 712.60 184.15 713.60 182.70C714.60 181.25 715.60 179.70 716.60 178.14C717.60 176.57 718.60 174.94 719.60 173.32C720.60 171.71 721.60 170.05 722.60 168.44C723.60 166.84 724.60 165.22 725.60 163.69C726.60 162.15 727.60 160.65 728.60 159.25C729.60 157.85 730.60 156.52 731.60 155.30C732.60 154.08 733.60 152.94 734.60 151.92C735.60 150.89 736.60 149.96 737.60 149.15C738.60 148.34 739.60 147.64 740.60 147.06C741.60 146.48 742.60 146.02 743.60 145.69C744.60 145.36 745.60 145.17 746.60 145.07C747.60 144.98 748.60 145.02 749.60 145.13C750.60 145.24 751.60 145.46 752.60 145.75C753.60 146.03 754.60 146.40 755.60 146.81C756.60 147.23 757.60 147.72 758.60 148.22C759.60 148.73 760.60 149.30 761.60 149.86C762.60 150.43 763.60 151.04 764.60 151.62C765.60 152.21 766.60 152.81 767.60 153.39C768.60 153.98 769.60 154.55 770.60 155.11C771.60 155.67 772.60 156.22 773.60 156.75C774.60 157.28 775.60 157.79 776.60 158.28C777.60 158.77 778.60 159.24 779.60 159.68C780.60 160.12 781.60 160.54 782.60 160.93C783.60 161.31 784.60 161.67 785.60 161.99C786.60 162.32 787.60 162.61 788.60 162.86C789.60 163.11 790.60 163.32 791.60 163.49C792.60 163.66 793.60 163.79 794.60 163.87C795.60 163.95 796.60 163.99 797.60 163.98C798.60 163.97 799.60 163.91 800.60 163.82C801.60 163.72 802.60 163.58 803.60 163.42C804.60 163.26 805.60 163.06 806.60 162.83C807.60 162.61 808.60 162.36 809.60 162.09C810.60 161.83 811.60 161.53 812.60 161.23C813.60 160.93 814.60 160.62 815.60 160.30C816.60 159.98 817.60 159.64 818.60 159.32C819.60 158.99 820.60 158.66 821.60 158.34C822.60 158.02 823.60 157.70 824.60 157.39C825.60 157.08 826.60 156.78 827.60 156.50C828.60 156.21 829.60 155.93 830.60 155.67C831.60 155.41 832.60 155.15 833.60 154.92C834.60 154.69 835.60 154.46 836.60 154.26C837.60 154.06 838.60 153.87 839.60 153.70C840.60 153.54 841.60 153.39 842.60 153.26C843.60 153.14 844.60 153.03 845.60 152.95C846.60 152.87 847.60 152.80 848.60 152.77C849.60 152.74 850.60 152.73 851.60 152.75C852.60 152.77 853.60 152.81 854.60 152.89C855.60 152.96 856.60 153.07 857.60 153.20C858.60 153.34 859.60 153.51 860.60 153.70C861.60 153.90 862.60 154.13 863.60 154.38C864.60 154.62 865.60 154.90 866.60 155.18C867.60 155.47 868.60 155.78 869.60 156.09C870.60 156.41 871.60 156.74 872.60 157.08C873.60 157.41 874.60 157.75 875.60 158.10C876.60 158.44 877.60 158.78 878.60 159.12C879.60 159.46 880.60 159.80 881.60 160.12C882.60 160.44 883.60 160.76 884.60 161.06C885.60 161.36 886.60 161.65 887.60 161.91C888.60 162.17 889.60 162.42 890.60 162.63C891.60 162.84 892.60 163.03 893.60 163.20C894.60 163.36 895.60 163.49 896.60 163.59C897.60 163.70 898.60 163.78 899.60 163.84C900.60 163.89 901.60 163.92 902.60 163.93C903.60 163.94 904.60 163.93 905.60 163.89C906.60 163.86 907.60 163.80 908.60 163.73C909.60 163.65 910.60 163.56 911.60 163.45C912.60 163.34 913.60 163.21 914.60 163.06C915.60 162.92 916.60 162.76 917.60 162.59C918.60 162.41 919.60 162.22 920.60 162.03C921.60 161.83 922.60 161.62 923.60 161.41C924.60 161.19 925.60 160.97 926.60 160.74C927.60 160.52 928.60 160.29 929.60 160.06C930.60 159.83 931.60 159.59 932.60 159.36C933.60 159.13 934.60 158.90 935.60 158.68C936.60 158.46 937.60 158.24 938.60 158.04C939.60 157.83 940.60 157.63 941.60 157.44C942.60 157.26 943.60 157.08 944.60 156.92C945.60 156.76 946.60 156.62 947.60 156.49C948.60 156.36 949.60 156.25 950.60 156.17C951.60 156.08 952.60 156.02 953.60 155.97C954.60 155.93 955.60 155.91 956.60 155.91C957.60 155.92 958.60 155.94 959.60 155.99C960.60 156.04 961.60 156.11 962.60 156.20C963.60 156.29 964.60 156.40 965.60 156.54C966.60 156.67 967.60 156.82 968.60 157.00C969.60 157.17 970.60 157.37 971.60 157.59C972.60 157.80 973.60 158.04 974.60 158.28C975.60 158.52 976.60 158.79 977.60 159.05C978.60 159.32 979.60 159.60 980.60 159.88C981.60 160.15 982.60 160.44 983.60 160.72C984.60 161.01 985.60 161.29 986.60 161.57C987.60 161.85 988.60 162.13 989.60 162.39C990.60 162.66 991.60 162.91 992.60 163.16C993.60 163.40 994.60 163.63 995.60 163.84C996.60 164.06 997.60 164.26 998.60 164.45C999.60 164.64 1000.60 164.82 1001.60 164.98C1002.60 165.14 1003.60 165.28 1004.60 165.42C1005.60 165.55 1006.60 165.66 1007.60 165.76C1008.60 165.86 1009.60 165.95 1010.60 166.02C1011.60 166.09 1012.60 166.14 1013.60 166.17C1014.60 166.21 1015.60 166.23 1016.60 166.23C1017.60 166.23 1018.60 166.22 1019.60 166.19C1020.60 166.15 1021.60 166.10 1022.60 166.04C1023.60 165.97 1024.60 165.89 1025.60 165.79C1026.60 165.70 1027.60 165.59 1028.60 165.46C1029.60 165.34 1030.60 165.20 1031.60 165.06C1032.60 164.91 1033.60 164.76 1034.60 164.59C1035.60 164.43 1036.60 164.25 1037.60 164.07C1038.60 163.89 1039.60 163.70 1040.60 163.51C1041.60 163.31 1042.60 163.11 1043.60 162.91C1044.60 162.71 1045.60 162.50 1046.60 162.29C1047.60 162.09 1048.60 161.88 1049.60 161.67C1050.60 161.46 1051.60 161.25 1052.60 161.04C1053.60 160.83 1054.60 160.62 1055.60 160.42C1056.60 160.22 1057.60 160.02 1058.60 159.82C1059.60 159.63 1060.60 159.44 1061.60 159.26C1062.60 159.08 1063.60 158.90 1064.60 158.74C1065.60 158.57 1066.60 158.41 1067.60 158.27C1068.60 158.12 1069.60 157.98 1070.60 157.86C1071.60 157.73 1072.60 157.62 1073.60 157.52C1074.60 157.43 1075.60 157.34 1076.60 157.27C1077.60 157.21 1078.60 157.15 1079.60 157.12C1080.60 157.09 1081.60 157.07 1082.60 157.07C1083.60 157.07 1084.70 157.10 1085.60 157.14C1086.50 157.17 1087.60 157.26 1088.00 157.28" stroke="#0f0f42" stroke-width="4.40"/><path class="c" d="M627.50 81.90L635.60 89.20C636.10 90.68 637.60 94.97 638.60 98.11C639.60 101.24 640.60 104.97 641.60 108.01C642.60 111.06 643.60 113.77 644.60 116.39C645.60 119.00 646.60 121.08 647.60 123.68C648.60 126.29 649.60 129.01 650.60 132.01C651.60 135.02 652.60 138.41 653.60 141.71C654.60 145.00 655.60 148.53 656.60 151.78C657.60 155.03 658.60 158.32 659.60 161.22C660.60 164.12 661.60 166.75 662.60 169.17C663.60 171.59 664.60 173.71 665.60 175.76C666.60 177.81 667.60 179.68 668.60 181.45C669.60 183.22 670.60 184.86 671.60 186.38C672.60 187.90 673.60 189.30 674.60 190.57C675.60 191.85 676.60 193.00 677.60 194.03C678.60 195.06 679.60 195.96 680.60 196.75C681.60 197.54 682.60 198.21 683.60 198.76C684.60 199.31 685.60 199.74 686.60 200.05C687.60 200.37 688.60 200.56 689.60 200.64C690.60 200.72 691.60 200.69 692.60 200.54C693.60 200.39 694.60 200.12 695.60 199.76C696.60 199.39 697.60 198.91 698.60 198.33C699.60 197.75 700.60 197.06 701.60 196.29C702.60 195.51 703.60 194.63 704.60 193.67C705.60 192.71 706.60 191.65 707.60 190.51C708.60 189.37 709.60 188.14 710.60 186.84C711.60 185.54 712.60 184.15 713.60 182.70C714.60 181.25 715.60 179.70 716.60 178.14C717.60 176.57 718.60 174.94 719.60 173.32C720.60 171.71 721.60 170.05 722.60 168.44C723.60 166.84 724.60 165.22 725.60 163.69C726.60 162.15 727.60 160.65 728.60 159.25C729.60 157.85 730.60 156.52 731.60 155.30C732.60 154.08 733.60 152.94 734.60 151.92C735.60 150.89 736.60 149.96 737.60 149.15C738.60 148.34 739.60 147.64 740.60 147.06C741.60 146.48 742.60 146.02 743.60 145.69C744.60 145.36 745.60 145.17 746.60 145.07C747.60 144.98 748.60 145.02 749.60 145.13C750.60 145.24 751.60 145.46 752.60 145.75C753.60 146.03 754.60 146.40 755.60 146.81C756.60 147.23 757.60 147.72 758.60 148.22C759.60 148.73 760.60 149.30 761.60 149.86C762.60 150.43 763.60 151.04 764.60 151.62C765.60 152.21 766.60 152.81 767.60 153.39C768.60 153.98 769.60 154.55 770.60 155.11C771.60 155.67 772.60 156.22 773.60 156.75C774.60 157.28 775.60 157.79 776.60 158.28C777.60 158.77 778.60 159.24 779.60 159.68C780.60 160.12 781.60 160.54 782.60 160.93C783.60 161.31 784.60 161.67 785.60 161.99C786.60 162.32 787.60 162.61 788.60 162.86C789.60 163.11 790.60 163.32 791.60 163.49C792.60 163.66 793.60 163.79 794.60 163.87C795.60 163.95 796.60 163.99 797.60 163.98C798.60 163.97 799.60 163.91 800.60 163.82C801.60 163.72 802.60 163.58 803.60 163.42C804.60 163.26 805.60 163.06 806.60 162.83C807.60 162.61 808.60 162.36 809.60 162.09C810.60 161.83 811.60 161.53 812.60 161.23C813.60 160.93 814.60 160.62 815.60 160.30C816.60 159.98 817.60 159.64 818.60 159.32C819.60 158.99 820.60 158.66 821.60 158.34C822.60 158.02 823.60 157.70 824.60 157.39C825.60 157.08 826.60 156.78 827.60 156.50C828.60 156.21 829.60 155.93 830.60 155.67C831.60 155.41 832.60 155.15 833.60 154.92C834.60 154.69 835.60 154.46 836.60 154.26C837.60 154.06 838.60 153.87 839.60 153.70C840.60 153.54 841.60 153.39 842.60 153.26C843.60 153.14 844.60 153.03 845.60 152.95C846.60 152.87 847.60 152.80 848.60 152.77C849.60 152.74 850.60 152.73 851.60 152.75C852.60 152.77 853.60 152.81 854.60 152.89C855.60 152.96 856.60 153.07 857.60 153.20C858.60 153.34 859.60 153.51 860.60 153.70C861.60 153.90 862.60 154.13 863.60 154.38C864.60 154.62 865.60 154.90 866.60 155.18C867.60 155.47 868.60 155.78 869.60 156.09C870.60 156.41 871.60 156.74 872.60 157.08C873.60 157.41 874.60 157.75 875.60 158.10C876.60 158.44 877.60 158.78 878.60 159.12C879.60 159.46 880.60 159.80 881.60 160.12C882.60 160.44 883.60 160.76 884.60 161.06C885.60 161.36 886.60 161.65 887.60 161.91C888.60 162.17 889.60 162.42 890.60 162.63C891.60 162.84 892.60 163.03 893.60 163.20C894.60 163.36 895.60 163.49 896.60 163.59C897.60 163.70 898.60 163.78 899.60 163.84C900.60 163.89 901.60 163.92 902.60 163.93C903.60 163.94 904.60 163.93 905.60 163.89C906.60 163.86 907.60 163.80 908.60 163.73C909.60 163.65 910.60 163.56 911.60 163.45C912.60 163.34 913.60 163.21 914.60 163.06C915.60 162.92 916.60 162.76 917.60 162.59C918.60 162.41 919.60 162.22 920.60 162.03C921.60 161.83 922.60 161.62 923.60 161.41C924.60 161.19 925.60 160.97 926.60 160.74C927.60 160.52 928.60 160.29 929.60 160.06C930.60 159.83 931.60 159.59 932.60 159.36C933.60 159.13 934.60 158.90 935.60 158.68C936.60 158.46 937.60 158.24 938.60 158.04C939.60 157.83 940.60 157.63 941.60 157.44C942.60 157.26 943.60 157.08 944.60 156.92C945.60 156.76 946.60 156.62 947.60 156.49C948.60 156.36 949.60 156.25 950.60 156.17C951.60 156.08 952.60 156.02 953.60 155.97C954.60 155.93 955.60 155.91 956.60 155.91C957.60 155.92 958.60 155.94 959.60 155.99C960.60 156.04 961.60 156.11 962.60 156.20C963.60 156.29 964.60 156.40 965.60 156.54C966.60 156.67 967.60 156.82 968.60 157.00C969.60 157.17 970.60 157.37 971.60 157.59C972.60 157.80 973.60 158.04 974.60 158.28C975.60 158.52 976.60 158.79 977.60 159.05C978.60 159.32 979.60 159.60 980.60 159.88C981.60 160.15 982.60 160.44 983.60 160.72C984.60 161.01 985.60 161.29 986.60 161.57C987.60 161.85 988.60 162.13 989.60 162.39C990.60 162.66 991.60 162.91 992.60 163.16C993.60 163.40 994.60 163.63 995.60 163.84C996.60 164.06 997.60 164.26 998.60 164.45C999.60 164.64 1000.60 164.82 1001.60 164.98C1002.60 165.14 1003.60 165.28 1004.60 165.42C1005.60 165.55 1006.60 165.66 1007.60 165.76C1008.60 165.86 1009.60 165.95 1010.60 166.02C1011.60 166.09 1012.60 166.14 1013.60 166.17C1014.60 166.21 1015.60 166.23 1016.60 166.23C1017.60 166.23 1018.60 166.22 1019.60 166.19C1020.60 166.15 1021.60 166.10 1022.60 166.04C1023.60 165.97 1024.60 165.89 1025.60 165.79C1026.60 165.70 1027.60 165.59 1028.60 165.46C1029.60 165.34 1030.60 165.20 1031.60 165.06C1032.60 164.91 1033.60 164.76 1034.60 164.59C1035.60 164.43 1036.60 164.25 1037.60 164.07C1038.60 163.89 1039.60 163.70 1040.60 163.51C1041.60 163.31 1042.60 163.11 1043.60 162.91C1044.60 162.71 1045.60 162.50 1046.60 162.29C1047.60 162.09 1048.60 161.88 1049.60 161.67C1050.60 161.46 1051.60 161.25 1052.60 161.04C1053.60 160.83 1054.60 160.62 1055.60 160.42C1056.60 160.22 1057.60 160.02 1058.60 159.82C1059.60 159.63 1060.60 159.44 1061.60 159.26C1062.60 159.08 1063.60 158.90 1064.60 158.74C1065.60 158.57 1066.60 158.41 1067.60 158.27C1068.60 158.12 1069.60 157.98 1070.60 157.86C1071.60 157.73 1072.60 157.62 1073.60 157.52C1074.60 157.43 1075.60 157.34 1076.60 157.27C1077.60 157.21 1078.60 157.15 1079.60 157.12C1080.60 157.09 1081.60 157.07 1082.60 157.07C1083.60 157.07 1084.70 157.10 1085.60 157.14C1086.50 157.17 1087.60 157.26 1088.00 157.28" stroke="#5252a8" stroke-width="1.90"/></g>
<g clip-path="url(#cb)"><path class="c" d="M627.50 81.90L635.40 89.30C635.90 90.99 637.40 96.17 638.40 99.45C639.40 102.73 640.40 105.85 641.40 109.00C642.40 112.15 643.40 115.11 644.40 118.33C645.40 121.55 646.40 124.79 647.40 128.33C648.40 131.87 649.40 135.79 650.40 139.58C651.40 143.36 652.40 147.29 653.40 151.05C654.40 154.81 655.40 158.49 656.40 162.15C657.40 165.81 658.40 169.41 659.40 173.03C660.40 176.65 661.40 180.24 662.40 183.87C663.40 187.50 664.40 191.19 665.40 194.80C666.40 198.42 667.40 202.10 668.40 205.54C669.40 208.97 670.40 212.45 671.40 215.40C672.40 218.36 673.40 221.06 674.40 223.26C675.40 225.47 676.40 227.08 677.40 228.62C678.40 230.16 679.40 231.31 680.40 232.52C681.40 233.73 682.40 234.83 683.40 235.87C684.40 236.90 685.40 237.86 686.40 238.71C687.40 239.56 688.40 240.31 689.40 240.96C690.40 241.62 691.40 242.16 692.40 242.62C693.40 243.08 694.40 243.45 695.40 243.75C696.40 244.05 697.40 244.26 698.40 244.41C699.40 244.57 700.40 244.65 701.40 244.69C702.40 244.73 703.40 244.70 704.40 244.64C705.40 244.58 706.40 244.47 707.40 244.33C708.40 244.20 709.40 244.03 710.40 243.84C711.40 243.66 712.40 243.45 713.40 243.23C714.40 243.00 715.40 242.76 716.40 242.50C717.40 242.24 718.40 241.96 719.40 241.65C720.40 241.34 721.40 241.02 722.40 240.66C723.40 240.31 724.40 239.93 725.40 239.53C726.40 239.12 727.40 238.69 728.40 238.22C729.40 237.76 730.40 237.27 731.40 236.74C732.40 236.22 733.40 235.66 734.40 235.07C735.40 234.48 736.40 233.85 737.40 233.19C738.40 232.53 739.40 231.83 740.40 231.09C741.40 230.36 742.40 229.58 743.40 228.76C744.40 227.94 745.40 227.09 746.40 226.18C747.40 225.27 748.40 224.32 749.40 223.28C750.40 222.24 751.40 221.15 752.40 219.94C753.40 218.74 754.40 217.45 755.40 216.04C756.40 214.63 757.40 213.07 758.40 211.48C759.40 209.88 760.40 208.16 761.40 206.48C762.40 204.79 763.40 203.04 764.40 201.37C765.40 199.70 766.40 198.03 767.40 196.44C768.40 194.85 769.40 193.29 770.40 191.83C771.40 190.37 772.40 188.96 773.40 187.67C774.40 186.38 775.40 185.17 776.40 184.10C777.40 183.03 778.40 182.07 779.40 181.25C780.40 180.42 781.40 179.75 782.40 179.14C783.40 178.54 784.40 178.06 785.40 177.63C786.40 177.20 787.40 176.85 788.40 176.56C789.40 176.27 790.40 176.05 791.40 175.92C792.40 175.79 793.40 175.73 794.40 175.77C795.40 175.80 796.40 175.93 797.40 176.16C798.40 176.39 799.40 176.71 800.40 177.15C801.40 177.58 802.40 178.15 803.40 178.77C804.40 179.38 805.40 180.12 806.40 180.84C807.40 181.56 808.40 182.34 809.40 183.08C810.40 183.82 811.40 184.57 812.40 185.30C813.40 186.03 814.40 186.76 815.40 187.46C816.40 188.16 817.40 188.85 818.40 189.51C819.40 190.17 820.40 190.81 821.40 191.41C822.40 192.02 823.40 192.60 824.40 193.13C825.40 193.67 826.40 194.18 827.40 194.64C828.40 195.10 829.40 195.52 830.40 195.88C831.40 196.25 832.40 196.57 833.40 196.84C834.40 197.10 835.40 197.31 836.40 197.46C837.40 197.60 838.40 197.69 839.40 197.71C840.40 197.73 841.40 197.68 842.40 197.59C843.40 197.50 844.40 197.34 845.40 197.15C846.40 196.96 847.40 196.72 848.40 196.46C849.40 196.20 850.40 195.90 851.40 195.58C852.40 195.26 853.40 194.91 854.40 194.56C855.40 194.21 856.40 193.84 857.40 193.48C858.40 193.11 859.40 192.74 860.40 192.38C861.40 192.03 862.40 191.67 863.40 191.34C864.40 191.01 865.40 190.70 866.40 190.41C867.40 190.13 868.40 189.87 869.40 189.64C870.40 189.41 871.40 189.21 872.40 189.03C873.40 188.85 874.40 188.69 875.40 188.56C876.40 188.42 877.40 188.31 878.40 188.22C879.40 188.14 880.40 188.07 881.40 188.02C882.40 187.97 883.40 187.94 884.40 187.93C885.40 187.92 886.40 187.93 887.40 187.95C888.40 187.97 889.40 188.01 890.40 188.07C891.40 188.12 892.40 188.19 893.40 188.27C894.40 188.36 895.40 188.45 896.40 188.56C897.40 188.67 898.40 188.78 899.40 188.91C900.40 189.04 901.40 189.18 902.40 189.33C903.40 189.47 904.40 189.63 905.40 189.79C906.40 189.95 907.40 190.12 908.40 190.29C909.40 190.46 910.40 190.64 911.40 190.82C912.40 191.00 913.40 191.19 914.40 191.38C915.40 191.56 916.40 191.75 917.40 191.94C918.40 192.13 919.40 192.32 920.40 192.51C921.40 192.70 922.40 192.88 923.40 193.07C924.40 193.25 925.40 193.43 926.40 193.61C927.40 193.78 928.40 193.95 929.40 194.12C930.40 194.28 931.40 194.44 932.40 194.60C933.40 194.75 934.40 194.90 935.40 195.05C936.40 195.20 937.40 195.34 938.40 195.49C939.40 195.63 940.40 195.77 941.40 195.92C942.40 196.06 943.40 196.21 944.40 196.36C945.40 196.51 946.40 196.66 947.40 196.81C948.40 196.97 949.40 197.13 950.40 197.30C951.40 197.47 952.40 197.64 953.40 197.82C954.40 198.01 955.40 198.20 956.40 198.39C957.40 198.59 958.40 198.79 959.40 198.99C960.40 199.19 961.40 199.39 962.40 199.58C963.40 199.78 964.40 199.98 965.40 200.16C966.40 200.35 967.40 200.53 968.40 200.70C969.40 200.87 970.40 201.04 971.40 201.18C972.40 201.33 973.40 201.46 974.40 201.58C975.40 201.69 976.40 201.79 977.40 201.86C978.40 201.94 979.40 202.00 980.40 202.03C981.40 202.07 982.40 202.09 983.40 202.09C984.40 202.10 985.40 202.08 986.40 202.05C987.40 202.03 988.40 201.98 989.40 201.93C990.40 201.87 991.40 201.80 992.40 201.73C993.40 201.65 994.40 201.56 995.40 201.46C996.40 201.37 997.40 201.26 998.40 201.15C999.40 201.04 1000.40 200.92 1001.40 200.80C1002.40 200.68 1003.40 200.55 1004.40 200.42C1005.40 200.29 1006.40 200.16 1007.40 200.03C1008.40 199.89 1009.40 199.76 1010.40 199.63C1011.40 199.50 1012.40 199.37 1013.40 199.24C1014.40 199.12 1015.40 198.99 1016.40 198.87C1017.40 198.75 1018.40 198.63 1019.40 198.52C1020.40 198.40 1021.40 198.29 1022.40 198.19C1023.40 198.08 1024.40 197.98 1025.40 197.88C1026.40 197.78 1027.40 197.69 1028.40 197.61C1029.40 197.52 1030.40 197.44 1031.40 197.36C1032.40 197.29 1033.40 197.22 1034.40 197.16C1035.40 197.10 1036.40 197.04 1037.40 197.00C1038.40 196.95 1039.40 196.91 1040.40 196.88C1041.40 196.85 1042.40 196.82 1043.40 196.81C1044.40 196.79 1045.40 196.79 1046.40 196.79C1047.40 196.79 1048.40 196.80 1049.40 196.83C1050.40 196.85 1051.40 196.88 1052.40 196.92C1053.40 196.96 1054.40 197.01 1055.40 197.06C1056.40 197.12 1057.40 197.18 1058.40 197.24C1059.40 197.30 1060.40 197.37 1061.40 197.44C1062.40 197.51 1063.40 197.58 1064.40 197.65C1065.40 197.72 1066.40 197.79 1067.40 197.86C1068.40 197.92 1069.40 197.99 1070.40 198.05C1071.40 198.11 1072.40 198.16 1073.40 198.21C1074.40 198.26 1075.40 198.30 1076.40 198.34C1077.40 198.37 1078.40 198.39 1079.40 198.41C1080.40 198.42 1081.40 198.43 1082.40 198.41C1083.40 198.40 1084.47 198.38 1085.40 198.34C1086.33 198.31 1087.57 198.23 1088.00 198.21" stroke="#0f0f3e" stroke-width="3.90"/><path class="c" d="M627.50 81.90L635.40 89.30C635.90 90.99 637.40 96.17 638.40 99.45C639.40 102.73 640.40 105.85 641.40 109.00C642.40 112.15 643.40 115.11 644.40 118.33C645.40 121.55 646.40 124.79 647.40 128.33C648.40 131.87 649.40 135.79 650.40 139.58C651.40 143.36 652.40 147.29 653.40 151.05C654.40 154.81 655.40 158.49 656.40 162.15C657.40 165.81 658.40 169.41 659.40 173.03C660.40 176.65 661.40 180.24 662.40 183.87C663.40 187.50 664.40 191.19 665.40 194.80C666.40 198.42 667.40 202.10 668.40 205.54C669.40 208.97 670.40 212.45 671.40 215.40C672.40 218.36 673.40 221.06 674.40 223.26C675.40 225.47 676.40 227.08 677.40 228.62C678.40 230.16 679.40 231.31 680.40 232.52C681.40 233.73 682.40 234.83 683.40 235.87C684.40 236.90 685.40 237.86 686.40 238.71C687.40 239.56 688.40 240.31 689.40 240.96C690.40 241.62 691.40 242.16 692.40 242.62C693.40 243.08 694.40 243.45 695.40 243.75C696.40 244.05 697.40 244.26 698.40 244.41C699.40 244.57 700.40 244.65 701.40 244.69C702.40 244.73 703.40 244.70 704.40 244.64C705.40 244.58 706.40 244.47 707.40 244.33C708.40 244.20 709.40 244.03 710.40 243.84C711.40 243.66 712.40 243.45 713.40 243.23C714.40 243.00 715.40 242.76 716.40 242.50C717.40 242.24 718.40 241.96 719.40 241.65C720.40 241.34 721.40 241.02 722.40 240.66C723.40 240.31 724.40 239.93 725.40 239.53C726.40 239.12 727.40 238.69 728.40 238.22C729.40 237.76 730.40 237.27 731.40 236.74C732.40 236.22 733.40 235.66 734.40 235.07C735.40 234.48 736.40 233.85 737.40 233.19C738.40 232.53 739.40 231.83 740.40 231.09C741.40 230.36 742.40 229.58 743.40 228.76C744.40 227.94 745.40 227.09 746.40 226.18C747.40 225.27 748.40 224.32 749.40 223.28C750.40 222.24 751.40 221.15 752.40 219.94C753.40 218.74 754.40 217.45 755.40 216.04C756.40 214.63 757.40 213.07 758.40 211.48C759.40 209.88 760.40 208.16 761.40 206.48C762.40 204.79 763.40 203.04 764.40 201.37C765.40 199.70 766.40 198.03 767.40 196.44C768.40 194.85 769.40 193.29 770.40 191.83C771.40 190.37 772.40 188.96 773.40 187.67C774.40 186.38 775.40 185.17 776.40 184.10C777.40 183.03 778.40 182.07 779.40 181.25C780.40 180.42 781.40 179.75 782.40 179.14C783.40 178.54 784.40 178.06 785.40 177.63C786.40 177.20 787.40 176.85 788.40 176.56C789.40 176.27 790.40 176.05 791.40 175.92C792.40 175.79 793.40 175.73 794.40 175.77C795.40 175.80 796.40 175.93 797.40 176.16C798.40 176.39 799.40 176.71 800.40 177.15C801.40 177.58 802.40 178.15 803.40 178.77C804.40 179.38 805.40 180.12 806.40 180.84C807.40 181.56 808.40 182.34 809.40 183.08C810.40 183.82 811.40 184.57 812.40 185.30C813.40 186.03 814.40 186.76 815.40 187.46C816.40 188.16 817.40 188.85 818.40 189.51C819.40 190.17 820.40 190.81 821.40 191.41C822.40 192.02 823.40 192.60 824.40 193.13C825.40 193.67 826.40 194.18 827.40 194.64C828.40 195.10 829.40 195.52 830.40 195.88C831.40 196.25 832.40 196.57 833.40 196.84C834.40 197.10 835.40 197.31 836.40 197.46C837.40 197.60 838.40 197.69 839.40 197.71C840.40 197.73 841.40 197.68 842.40 197.59C843.40 197.50 844.40 197.34 845.40 197.15C846.40 196.96 847.40 196.72 848.40 196.46C849.40 196.20 850.40 195.90 851.40 195.58C852.40 195.26 853.40 194.91 854.40 194.56C855.40 194.21 856.40 193.84 857.40 193.48C858.40 193.11 859.40 192.74 860.40 192.38C861.40 192.03 862.40 191.67 863.40 191.34C864.40 191.01 865.40 190.70 866.40 190.41C867.40 190.13 868.40 189.87 869.40 189.64C870.40 189.41 871.40 189.21 872.40 189.03C873.40 188.85 874.40 188.69 875.40 188.56C876.40 188.42 877.40 188.31 878.40 188.22C879.40 188.14 880.40 188.07 881.40 188.02C882.40 187.97 883.40 187.94 884.40 187.93C885.40 187.92 886.40 187.93 887.40 187.95C888.40 187.97 889.40 188.01 890.40 188.07C891.40 188.12 892.40 188.19 893.40 188.27C894.40 188.36 895.40 188.45 896.40 188.56C897.40 188.67 898.40 188.78 899.40 188.91C900.40 189.04 901.40 189.18 902.40 189.33C903.40 189.47 904.40 189.63 905.40 189.79C906.40 189.95 907.40 190.12 908.40 190.29C909.40 190.46 910.40 190.64 911.40 190.82C912.40 191.00 913.40 191.19 914.40 191.38C915.40 191.56 916.40 191.75 917.40 191.94C918.40 192.13 919.40 192.32 920.40 192.51C921.40 192.70 922.40 192.88 923.40 193.07C924.40 193.25 925.40 193.43 926.40 193.61C927.40 193.78 928.40 193.95 929.40 194.12C930.40 194.28 931.40 194.44 932.40 194.60C933.40 194.75 934.40 194.90 935.40 195.05C936.40 195.20 937.40 195.34 938.40 195.49C939.40 195.63 940.40 195.77 941.40 195.92C942.40 196.06 943.40 196.21 944.40 196.36C945.40 196.51 946.40 196.66 947.40 196.81C948.40 196.97 949.40 197.13 950.40 197.30C951.40 197.47 952.40 197.64 953.40 197.82C954.40 198.01 955.40 198.20 956.40 198.39C957.40 198.59 958.40 198.79 959.40 198.99C960.40 199.19 961.40 199.39 962.40 199.58C963.40 199.78 964.40 199.98 965.40 200.16C966.40 200.35 967.40 200.53 968.40 200.70C969.40 200.87 970.40 201.04 971.40 201.18C972.40 201.33 973.40 201.46 974.40 201.58C975.40 201.69 976.40 201.79 977.40 201.86C978.40 201.94 979.40 202.00 980.40 202.03C981.40 202.07 982.40 202.09 983.40 202.09C984.40 202.10 985.40 202.08 986.40 202.05C987.40 202.03 988.40 201.98 989.40 201.93C990.40 201.87 991.40 201.80 992.40 201.73C993.40 201.65 994.40 201.56 995.40 201.46C996.40 201.37 997.40 201.26 998.40 201.15C999.40 201.04 1000.40 200.92 1001.40 200.80C1002.40 200.68 1003.40 200.55 1004.40 200.42C1005.40 200.29 1006.40 200.16 1007.40 200.03C1008.40 199.89 1009.40 199.76 1010.40 199.63C1011.40 199.50 1012.40 199.37 1013.40 199.24C1014.40 199.12 1015.40 198.99 1016.40 198.87C1017.40 198.75 1018.40 198.63 1019.40 198.52C1020.40 198.40 1021.40 198.29 1022.40 198.19C1023.40 198.08 1024.40 197.98 1025.40 197.88C1026.40 197.78 1027.40 197.69 1028.40 197.61C1029.40 197.52 1030.40 197.44 1031.40 197.36C1032.40 197.29 1033.40 197.22 1034.40 197.16C1035.40 197.10 1036.40 197.04 1037.40 197.00C1038.40 196.95 1039.40 196.91 1040.40 196.88C1041.40 196.85 1042.40 196.82 1043.40 196.81C1044.40 196.79 1045.40 196.79 1046.40 196.79C1047.40 196.79 1048.40 196.80 1049.40 196.83C1050.40 196.85 1051.40 196.88 1052.40 196.92C1053.40 196.96 1054.40 197.01 1055.40 197.06C1056.40 197.12 1057.40 197.18 1058.40 197.24C1059.40 197.30 1060.40 197.37 1061.40 197.44C1062.40 197.51 1063.40 197.58 1064.40 197.65C1065.40 197.72 1066.40 197.79 1067.40 197.86C1068.40 197.92 1069.40 197.99 1070.40 198.05C1071.40 198.11 1072.40 198.16 1073.40 198.21C1074.40 198.26 1075.40 198.30 1076.40 198.34C1077.40 198.37 1078.40 198.39 1079.40 198.41C1080.40 198.42 1081.40 198.43 1082.40 198.41C1083.40 198.40 1084.47 198.38 1085.40 198.34C1086.33 198.31 1087.57 198.23 1088.00 198.21" stroke="#8c8cc8" stroke-width="1.20"/></g>
<g clip-path="url(#cb)"><path class="c" d="M627.50 81.80L634.60 88.80C635.10 90.50 636.60 95.39 637.60 99.00C638.60 102.61 639.60 106.07 640.60 110.45C641.60 114.84 642.60 120.29 643.60 125.32C644.60 130.36 645.60 135.62 646.60 140.65C647.60 145.68 648.60 150.52 649.60 155.52C650.60 160.53 651.60 165.48 652.60 170.68C653.60 175.89 654.60 181.27 655.60 186.74C656.60 192.20 657.60 197.86 658.60 203.47C659.60 209.07 660.60 214.78 661.60 220.35C662.60 225.92 663.60 231.52 664.60 236.88C665.60 242.25 666.60 247.55 667.60 252.54C668.60 257.52 669.60 262.36 670.60 266.80C671.60 271.23 672.60 275.42 673.60 279.14C674.60 282.87 675.60 286.21 676.60 289.16C677.60 292.12 678.60 294.66 679.60 296.87C680.60 299.08 681.60 300.91 682.60 302.44C683.60 303.96 684.60 305.13 685.60 306.01C686.60 306.90 687.60 307.46 688.60 307.76C689.60 308.06 690.60 308.07 691.60 307.82C692.60 307.57 693.60 307.04 694.60 306.23C695.60 305.43 696.60 304.35 697.60 302.98C698.60 301.61 699.60 299.96 700.60 298.03C701.60 296.10 702.60 293.84 703.60 291.41C704.60 288.98 705.60 286.25 706.60 283.45C707.60 280.65 708.60 277.63 709.60 274.63C710.60 271.63 711.60 268.49 712.60 265.44C713.60 262.39 714.60 259.31 715.60 256.36C716.60 253.40 717.60 250.52 718.60 247.72C719.60 244.92 720.60 242.20 721.60 239.55C722.60 236.90 723.60 234.32 724.60 231.82C725.60 229.31 726.60 226.87 727.60 224.50C728.60 222.13 729.60 219.76 730.60 217.60C731.60 215.45 732.60 213.31 733.60 211.54C734.60 209.78 735.60 208.22 736.60 207.04C737.60 205.85 738.60 205.09 739.60 204.45C740.60 203.81 741.60 203.52 742.60 203.18C743.60 202.85 744.60 202.64 745.60 202.44C746.60 202.24 747.60 201.93 748.60 201.97C749.60 202.01 750.60 202.13 751.60 202.69C752.60 203.25 753.60 204.18 754.60 205.31C755.60 206.43 756.60 207.91 757.60 209.44C758.60 210.97 759.60 212.75 760.60 214.50C761.60 216.25 762.60 218.12 763.60 219.94C764.60 221.75 765.60 223.59 766.60 225.39C767.60 227.20 768.60 229.00 769.60 230.77C770.60 232.53 771.60 234.28 772.60 235.98C773.60 237.68 774.60 239.34 775.60 240.94C776.60 242.54 777.60 244.10 778.60 245.57C779.60 247.04 780.60 248.46 781.60 249.78C782.60 251.09 783.60 252.34 784.60 253.48C785.60 254.61 786.60 255.66 787.60 256.58C788.60 257.51 789.60 258.33 790.60 259.04C791.60 259.76 792.60 260.36 793.60 260.86C794.60 261.37 795.60 261.77 796.60 262.08C797.60 262.39 798.60 262.60 799.60 262.73C800.60 262.85 801.60 262.88 802.60 262.82C803.60 262.77 804.60 262.63 805.60 262.41C806.60 262.19 807.60 261.88 808.60 261.50C809.60 261.12 810.60 260.66 811.60 260.14C812.60 259.61 813.60 259.01 814.60 258.35C815.60 257.69 816.60 256.95 817.60 256.16C818.60 255.37 819.60 254.51 820.60 253.61C821.60 252.71 822.60 251.75 823.60 250.77C824.60 249.80 825.60 248.77 826.60 247.75C827.60 246.73 828.60 245.68 829.60 244.64C830.60 243.61 831.60 242.57 832.60 241.56C833.60 240.55 834.60 239.55 835.60 238.59C836.60 237.64 837.60 236.72 838.60 235.85C839.60 234.98 840.60 234.15 841.60 233.37C842.60 232.59 843.60 231.86 844.60 231.19C845.60 230.52 846.60 229.89 847.60 229.33C848.60 228.78 849.60 228.27 850.60 227.84C851.60 227.41 852.60 227.04 853.60 226.73C854.60 226.42 855.60 226.18 856.60 226.00C857.60 225.81 858.60 225.69 859.60 225.61C860.60 225.54 861.60 225.53 862.60 225.56C863.60 225.59 864.60 225.68 865.60 225.81C866.60 225.94 867.60 226.12 868.60 226.34C869.60 226.56 870.60 226.82 871.60 227.13C872.60 227.43 873.60 227.77 874.60 228.15C875.60 228.52 876.60 228.94 877.60 229.38C878.60 229.82 879.60 230.30 880.60 230.80C881.60 231.29 882.60 231.82 883.60 232.36C884.60 232.90 885.60 233.47 886.60 234.04C887.60 234.61 888.60 235.19 889.60 235.78C890.60 236.36 891.60 236.95 892.60 237.53C893.60 238.12 894.60 238.70 895.60 239.27C896.60 239.84 897.60 240.40 898.60 240.94C899.60 241.48 900.60 242.01 901.60 242.50C902.60 243.00 903.60 243.48 904.60 243.91C905.60 244.35 906.60 244.76 907.60 245.13C908.60 245.50 909.60 245.83 910.60 246.12C911.60 246.42 912.60 246.68 913.60 246.91C914.60 247.13 915.60 247.33 916.60 247.49C917.60 247.66 918.60 247.79 919.60 247.90C920.60 248.00 921.60 248.08 922.60 248.13C923.60 248.19 924.60 248.21 925.60 248.22C926.60 248.23 927.60 248.21 928.60 248.17C929.60 248.13 930.60 248.07 931.60 248.00C932.60 247.92 933.60 247.83 934.60 247.72C935.60 247.61 936.60 247.48 937.60 247.35C938.60 247.21 939.60 247.06 940.60 246.90C941.60 246.73 942.60 246.56 943.60 246.38C944.60 246.20 945.60 246.01 946.60 245.81C947.60 245.62 948.60 245.41 949.60 245.21C950.60 245.00 951.60 244.79 952.60 244.58C953.60 244.36 954.60 244.14 955.60 243.93C956.60 243.71 957.60 243.50 958.60 243.28C959.60 243.07 960.60 242.85 961.60 242.65C962.60 242.44 963.60 242.23 964.60 242.04C965.60 241.84 966.60 241.65 967.60 241.46C968.60 241.28 969.60 241.10 970.60 240.94C971.60 240.78 972.60 240.62 973.60 240.48C974.60 240.34 975.60 240.21 976.60 240.10C977.60 239.98 978.60 239.88 979.60 239.80C980.60 239.71 981.60 239.64 982.60 239.59C983.60 239.53 984.60 239.48 985.60 239.45C986.60 239.42 987.60 239.40 988.60 239.39C989.60 239.38 990.60 239.38 991.60 239.38C992.60 239.39 993.60 239.41 994.60 239.44C995.60 239.47 996.60 239.50 997.60 239.54C998.60 239.59 999.60 239.64 1000.60 239.69C1001.60 239.75 1002.60 239.81 1003.60 239.87C1004.60 239.94 1005.60 240.01 1006.60 240.08C1007.60 240.16 1008.60 240.24 1009.60 240.32C1010.60 240.40 1011.60 240.48 1012.60 240.56C1013.60 240.65 1014.60 240.73 1015.60 240.82C1016.60 240.90 1017.60 240.99 1018.60 241.07C1019.60 241.16 1020.60 241.24 1021.60 241.32C1022.60 241.40 1023.60 241.48 1024.60 241.56C1025.60 241.64 1026.60 241.71 1027.60 241.78C1028.60 241.85 1029.60 241.91 1030.60 241.97C1031.60 242.03 1032.60 242.09 1033.60 242.14C1034.60 242.19 1035.60 242.23 1036.60 242.26C1037.60 242.30 1038.60 242.33 1039.60 242.35C1040.60 242.37 1041.60 242.38 1042.60 242.38C1043.60 242.38 1044.60 242.37 1045.60 242.35C1046.60 242.34 1047.60 242.31 1048.60 242.27C1049.60 242.23 1050.60 242.18 1051.60 242.11C1052.60 242.05 1053.60 241.97 1054.60 241.88C1055.60 241.79 1056.60 241.69 1057.60 241.58C1058.60 241.47 1059.60 241.35 1060.60 241.23C1061.60 241.10 1062.60 240.97 1063.60 240.83C1064.60 240.69 1065.60 240.54 1066.60 240.40C1067.60 240.25 1068.60 240.09 1069.60 239.94C1070.60 239.79 1071.60 239.63 1072.60 239.47C1073.60 239.32 1074.60 239.16 1075.60 239.00C1076.60 238.85 1077.60 238.69 1078.60 238.54C1079.60 238.39 1080.60 238.24 1081.60 238.10C1082.60 237.96 1083.60 237.82 1084.60 237.70C1085.60 237.57 1087.03 237.40 1087.60 237.33C1088.17 237.26 1087.93 237.29 1088.00 237.29" stroke="#0a0a0a" stroke-width="4.30"/><path class="c" d="M627.50 81.80L634.60 88.80C635.10 90.50 636.60 95.39 637.60 99.00C638.60 102.61 639.60 106.07 640.60 110.45C641.60 114.84 642.60 120.29 643.60 125.32C644.60 130.36 645.60 135.62 646.60 140.65C647.60 145.68 648.60 150.52 649.60 155.52C650.60 160.53 651.60 165.48 652.60 170.68C653.60 175.89 654.60 181.27 655.60 186.74C656.60 192.20 657.60 197.86 658.60 203.47C659.60 209.07 660.60 214.78 661.60 220.35C662.60 225.92 663.60 231.52 664.60 236.88C665.60 242.25 666.60 247.55 667.60 252.54C668.60 257.52 669.60 262.36 670.60 266.80C671.60 271.23 672.60 275.42 673.60 279.14C674.60 282.87 675.60 286.21 676.60 289.16C677.60 292.12 678.60 294.66 679.60 296.87C680.60 299.08 681.60 300.91 682.60 302.44C683.60 303.96 684.60 305.13 685.60 306.01C686.60 306.90 687.60 307.46 688.60 307.76C689.60 308.06 690.60 308.07 691.60 307.82C692.60 307.57 693.60 307.04 694.60 306.23C695.60 305.43 696.60 304.35 697.60 302.98C698.60 301.61 699.60 299.96 700.60 298.03C701.60 296.10 702.60 293.84 703.60 291.41C704.60 288.98 705.60 286.25 706.60 283.45C707.60 280.65 708.60 277.63 709.60 274.63C710.60 271.63 711.60 268.49 712.60 265.44C713.60 262.39 714.60 259.31 715.60 256.36C716.60 253.40 717.60 250.52 718.60 247.72C719.60 244.92 720.60 242.20 721.60 239.55C722.60 236.90 723.60 234.32 724.60 231.82C725.60 229.31 726.60 226.87 727.60 224.50C728.60 222.13 729.60 219.76 730.60 217.60C731.60 215.45 732.60 213.31 733.60 211.54C734.60 209.78 735.60 208.22 736.60 207.04C737.60 205.85 738.60 205.09 739.60 204.45C740.60 203.81 741.60 203.52 742.60 203.18C743.60 202.85 744.60 202.64 745.60 202.44C746.60 202.24 747.60 201.93 748.60 201.97C749.60 202.01 750.60 202.13 751.60 202.69C752.60 203.25 753.60 204.18 754.60 205.31C755.60 206.43 756.60 207.91 757.60 209.44C758.60 210.97 759.60 212.75 760.60 214.50C761.60 216.25 762.60 218.12 763.60 219.94C764.60 221.75 765.60 223.59 766.60 225.39C767.60 227.20 768.60 229.00 769.60 230.77C770.60 232.53 771.60 234.28 772.60 235.98C773.60 237.68 774.60 239.34 775.60 240.94C776.60 242.54 777.60 244.10 778.60 245.57C779.60 247.04 780.60 248.46 781.60 249.78C782.60 251.09 783.60 252.34 784.60 253.48C785.60 254.61 786.60 255.66 787.60 256.58C788.60 257.51 789.60 258.33 790.60 259.04C791.60 259.76 792.60 260.36 793.60 260.86C794.60 261.37 795.60 261.77 796.60 262.08C797.60 262.39 798.60 262.60 799.60 262.73C800.60 262.85 801.60 262.88 802.60 262.82C803.60 262.77 804.60 262.63 805.60 262.41C806.60 262.19 807.60 261.88 808.60 261.50C809.60 261.12 810.60 260.66 811.60 260.14C812.60 259.61 813.60 259.01 814.60 258.35C815.60 257.69 816.60 256.95 817.60 256.16C818.60 255.37 819.60 254.51 820.60 253.61C821.60 252.71 822.60 251.75 823.60 250.77C824.60 249.80 825.60 248.77 826.60 247.75C827.60 246.73 828.60 245.68 829.60 244.64C830.60 243.61 831.60 242.57 832.60 241.56C833.60 240.55 834.60 239.55 835.60 238.59C836.60 237.64 837.60 236.72 838.60 235.85C839.60 234.98 840.60 234.15 841.60 233.37C842.60 232.59 843.60 231.86 844.60 231.19C845.60 230.52 846.60 229.89 847.60 229.33C848.60 228.78 849.60 228.27 850.60 227.84C851.60 227.41 852.60 227.04 853.60 226.73C854.60 226.42 855.60 226.18 856.60 226.00C857.60 225.81 858.60 225.69 859.60 225.61C860.60 225.54 861.60 225.53 862.60 225.56C863.60 225.59 864.60 225.68 865.60 225.81C866.60 225.94 867.60 226.12 868.60 226.34C869.60 226.56 870.60 226.82 871.60 227.13C872.60 227.43 873.60 227.77 874.60 228.15C875.60 228.52 876.60 228.94 877.60 229.38C878.60 229.82 879.60 230.30 880.60 230.80C881.60 231.29 882.60 231.82 883.60 232.36C884.60 232.90 885.60 233.47 886.60 234.04C887.60 234.61 888.60 235.19 889.60 235.78C890.60 236.36 891.60 236.95 892.60 237.53C893.60 238.12 894.60 238.70 895.60 239.27C896.60 239.84 897.60 240.40 898.60 240.94C899.60 241.48 900.60 242.01 901.60 242.50C902.60 243.00 903.60 243.48 904.60 243.91C905.60 244.35 906.60 244.76 907.60 245.13C908.60 245.50 909.60 245.83 910.60 246.12C911.60 246.42 912.60 246.68 913.60 246.91C914.60 247.13 915.60 247.33 916.60 247.49C917.60 247.66 918.60 247.79 919.60 247.90C920.60 248.00 921.60 248.08 922.60 248.13C923.60 248.19 924.60 248.21 925.60 248.22C926.60 248.23 927.60 248.21 928.60 248.17C929.60 248.13 930.60 248.07 931.60 248.00C932.60 247.92 933.60 247.83 934.60 247.72C935.60 247.61 936.60 247.48 937.60 247.35C938.60 247.21 939.60 247.06 940.60 246.90C941.60 246.73 942.60 246.56 943.60 246.38C944.60 246.20 945.60 246.01 946.60 245.81C947.60 245.62 948.60 245.41 949.60 245.21C950.60 245.00 951.60 244.79 952.60 244.58C953.60 244.36 954.60 244.14 955.60 243.93C956.60 243.71 957.60 243.50 958.60 243.28C959.60 243.07 960.60 242.85 961.60 242.65C962.60 242.44 963.60 242.23 964.60 242.04C965.60 241.84 966.60 241.65 967.60 241.46C968.60 241.28 969.60 241.10 970.60 240.94C971.60 240.78 972.60 240.62 973.60 240.48C974.60 240.34 975.60 240.21 976.60 240.10C977.60 239.98 978.60 239.88 979.60 239.80C980.60 239.71 981.60 239.64 982.60 239.59C983.60 239.53 984.60 239.48 985.60 239.45C986.60 239.42 987.60 239.40 988.60 239.39C989.60 239.38 990.60 239.38 991.60 239.38C992.60 239.39 993.60 239.41 994.60 239.44C995.60 239.47 996.60 239.50 997.60 239.54C998.60 239.59 999.60 239.64 1000.60 239.69C1001.60 239.75 1002.60 239.81 1003.60 239.87C1004.60 239.94 1005.60 240.01 1006.60 240.08C1007.60 240.16 1008.60 240.24 1009.60 240.32C1010.60 240.40 1011.60 240.48 1012.60 240.56C1013.60 240.65 1014.60 240.73 1015.60 240.82C1016.60 240.90 1017.60 240.99 1018.60 241.07C1019.60 241.16 1020.60 241.24 1021.60 241.32C1022.60 241.40 1023.60 241.48 1024.60 241.56C1025.60 241.64 1026.60 241.71 1027.60 241.78C1028.60 241.85 1029.60 241.91 1030.60 241.97C1031.60 242.03 1032.60 242.09 1033.60 242.14C1034.60 242.19 1035.60 242.23 1036.60 242.26C1037.60 242.30 1038.60 242.33 1039.60 242.35C1040.60 242.37 1041.60 242.38 1042.60 242.38C1043.60 242.38 1044.60 242.37 1045.60 242.35C1046.60 242.34 1047.60 242.31 1048.60 242.27C1049.60 242.23 1050.60 242.18 1051.60 242.11C1052.60 242.05 1053.60 241.97 1054.60 241.88C1055.60 241.79 1056.60 241.69 1057.60 241.58C1058.60 241.47 1059.60 241.35 1060.60 241.23C1061.60 241.10 1062.60 240.97 1063.60 240.83C1064.60 240.69 1065.60 240.54 1066.60 240.40C1067.60 240.25 1068.60 240.09 1069.60 239.94C1070.60 239.79 1071.60 239.63 1072.60 239.47C1073.60 239.32 1074.60 239.16 1075.60 239.00C1076.60 238.85 1077.60 238.69 1078.60 238.54C1079.60 238.39 1080.60 238.24 1081.60 238.10C1082.60 237.96 1083.60 237.82 1084.60 237.70C1085.60 237.57 1087.03 237.40 1087.60 237.33C1088.17 237.26 1087.93 237.29 1088.00 237.29" stroke="#ffffff" stroke-width="1.30"/></g>
<line class="ax" x1="627.50" y1="29.50" x2="627.50" y2="314.25"/>
<line class="ax" x1="627.00" y1="314.25" x2="1088.00" y2="314.25"/>
<line class="ax" x1="627.50" y1="39.80" x2="637.00" y2="39.80"/>
<line class="ax" x1="627.50" y1="90.60" x2="637.00" y2="90.60"/>
<line class="ax" x1="627.50" y1="141.40" x2="637.00" y2="141.40"/>
<line class="ax" x1="627.50" y1="192.20" x2="637.00" y2="192.20"/>
<line class="ax" x1="627.50" y1="293.80" x2="637.00" y2="293.80"/>
<line class="ax" x1="688.82" y1="314.25" x2="688.82" y2="304.75"/>
<line class="ax" x1="750.14" y1="314.25" x2="750.14" y2="304.75"/>
<line class="ax" x1="811.46" y1="314.25" x2="811.46" y2="304.75"/>
<line class="ax" x1="872.78" y1="314.25" x2="872.78" y2="304.75"/>
<line class="ax" x1="934.10" y1="314.25" x2="934.10" y2="304.75"/>
<line class="ax" x1="995.42" y1="314.25" x2="995.42" y2="304.75"/>
<line class="ax" x1="1056.74" y1="314.25" x2="1056.74" y2="304.75"/>
<text class="tk" x="621.00" y="46.00" text-anchor="end">2.0</text>
<text class="tk" x="621.00" y="96.25" text-anchor="end">1.5</text>
<text class="tk" x="621.00" y="146.50" text-anchor="end">1.0</text>
<text class="tk" x="621.00" y="196.75" text-anchor="end">0.5</text>
<text class="tk" x="614.50" y="247.00" text-anchor="end">0</text>
<text class="tk" x="621.00" y="297.25" text-anchor="end">-0.5</text>
<text class="tk" x="628.60" y="336.05" text-anchor="middle">0</text>
<text class="tk" x="689.92" y="336.05" text-anchor="middle">1</text>
<text class="tk" x="751.24" y="336.05" text-anchor="middle">2</text>
<text class="tk" x="812.56" y="336.05" text-anchor="middle">3</text>
<text class="tk" x="873.88" y="336.05" text-anchor="middle">4</text>
<text class="tk" x="935.20" y="336.05" text-anchor="middle">5</text>
<text class="tk" x="996.52" y="336.05" text-anchor="middle">6</text>
<text class="tk" x="1057.84" y="336.05" text-anchor="middle">7</text>
<text class="xl" x="811.00" y="372.00">time</text>
<text class="mi" font-size="37" x="882.00" y="372.00">t</text>
<text class="mi" font-size="37" x="896.00" y="372.00">J</text>
<text class="mr" font-size="22" x="913.00" y="375.60">0</text>
<text class="pl" x="549.00" y="24.00" text-anchor="start">b</text>
<text x="0" y="0" font-size="41" style="font-family:'Liberation Mono',monospace;font-style:italic;stroke:#fff;stroke-width:0.6px;paint-order:fill stroke" transform="translate(556.00 178.60) scale(1.27 0.985) skewX(6)">I</text>
<clipPath id="cc"><rect x="75.40" y="423.60" width="459.20" height="284.20"/></clipPath>
<g clip-path="url(#cc)" fill="none" stroke-width="1.25" stroke-linejoin="round">
<path d="M75.3 473.6L78.6 475.3L81.9 478.9L85.2 485.9L88.5 494.6L91.8 504.6L95.1 515.8L98.4 526.3L101.7 537.2L105.0 549.8L108.3 557.2L111.7 561.9L115.0 565.7L118.3 568.8L121.6 572.0L124.9 574.7L128.2 577.0L131.5 578.6L134.8 580.1L138.1 581.2L141.4 581.3L144.7 580.9L148.0 579.9L151.3 577.5L154.6 574.3L157.9 570.3L161.2 565.4L164.5 559.9L167.8 553.7L171.1 547.3L174.4 541.6L177.8 536.3L181.1 531.7L184.4 528.1L187.7 525.3L191.0 523.6L194.3 522.7L197.6 522.3L200.9 522.9L204.2 524.1L207.5 525.6L210.8 527.1L214.1 528.9L217.4 530.6L220.7 532.2L224.0 534.0L227.3 535.8L230.6 537.6L233.9 539.4L237.2 541.2L240.5 543.0L243.8 544.9L247.2 546.6L250.5 548.2L253.8 549.6L257.1 551.0L260.4 552.3L263.7 553.5L267.0 554.7L270.3 555.7L273.6 556.6L276.9 557.4L280.2 558.1L283.5 558.6L286.8 558.9L290.1 559.1L293.4 559.3L296.7 559.3L300.0 559.3L303.3 559.2L306.6 559.1L309.9 559.1L313.2 559.0L316.6 558.9L319.9 558.8L323.2 558.8L326.5 558.7L329.8 558.7L333.1 558.7L336.4 558.7L339.7 558.7L343.0 558.7L346.3 558.8L349.6 558.8L352.9 558.8L356.2 558.8L359.5 558.8L362.8 558.8L366.1 558.6L369.4 558.5L372.7 558.2L376.0 557.8L379.3 557.4L382.7 556.8L386.0 556.0L389.3 555.2L392.6 554.2L395.9 553.1L399.2 551.8L402.5 550.5L405.8 549.1L409.1 547.6L412.4 546.1L415.7 544.7L419.0 543.2L422.3 541.9L425.6 540.6L428.9 539.5L432.2 538.6L435.5 537.9L438.8 537.4L442.1 537.2L445.4 537.2L448.7 537.5L452.1 538.1L455.4 538.9L458.7 540.1L462.0 541.5L465.3 543.2L468.6 545.1L471.9 547.3L475.2 549.6L478.5 552.1L481.8 554.6L485.1 557.2L488.4 559.7L491.7 562.1L495.0 564.4L498.3 566.4L501.6 568.3L504.9 569.9L508.2 571.3L511.5 572.4L514.8 573.2L518.2 573.8L521.5 574.1L524.8 574.2L528.1 573.9L531.4 573.4L534.7 572.7" stroke="#5e81b5"/>
<path d="M75.3 473.6L78.6 475.3L81.9 478.9L85.2 485.9L88.5 494.6L91.8 504.6L95.1 515.8L98.4 526.3L101.7 537.3L105.0 550.0L108.3 557.5L111.7 562.4L115.0 566.3L118.3 569.6L121.6 572.9L124.9 575.8L128.2 578.0L131.5 579.5L134.8 580.9L138.1 581.7L141.4 581.7L144.7 581.2L148.0 580.1L151.3 577.8L154.6 574.9L157.9 571.4L161.2 567.0L164.5 562.3L167.8 557.0L171.1 551.4L174.4 546.5L177.8 541.9L181.1 537.7L184.4 534.4L187.7 531.6L191.0 529.4L194.3 527.8L197.6 526.5L200.9 526.0L204.2 525.9L207.5 525.8L210.8 525.8L214.1 525.9L217.4 525.9L220.7 525.8L224.0 525.7L227.3 525.7L230.6 525.7L233.9 525.7L237.2 525.8L240.5 526.1L243.8 526.6L247.2 527.2L250.5 528.0L253.8 528.8L257.1 529.8L260.4 531.1L263.7 532.6L267.0 534.4L270.3 536.5L273.6 538.7L276.9 541.1L280.2 543.6L283.5 546.2L286.8 548.8L290.1 551.3L293.4 553.8L296.7 556.2L300.0 558.4L303.3 560.4L306.6 562.3L309.9 563.9L313.2 565.3L316.6 566.5L319.9 567.4L323.2 568.0L326.5 568.3L329.8 568.3L333.1 568.1L336.4 567.7L339.7 567.0L343.0 566.0L346.3 564.8L349.6 563.4L352.9 561.7L356.2 560.0L359.5 558.1L362.8 556.1L366.1 554.1L369.4 552.1L372.7 550.2L376.0 548.4L379.3 546.7L382.7 545.1L386.0 543.8L389.3 542.6L392.6 541.6L395.9 540.8L399.2 540.3L402.5 539.9L405.8 539.7L409.1 539.7L412.4 539.9L415.7 540.2L419.0 540.6L422.3 541.1L425.6 541.7L428.9 542.4L432.2 543.0L435.5 543.7L438.8 544.3L442.1 544.9L445.4 545.5L448.7 545.9L452.1 546.3L455.4 546.5L458.7 546.7L462.0 546.7L465.3 546.6L468.6 546.5L471.9 546.2L475.2 545.9L478.5 545.5L481.8 545.1L485.1 544.6L488.4 544.2L491.7 543.8L495.0 543.4L498.3 543.1L501.6 542.9L504.9 542.8L508.2 542.8L511.5 543.0L514.8 543.2L518.2 543.7L521.5 544.2L524.8 545.0L528.1 545.8L531.4 546.8L534.7 547.9" stroke="#e19c24"/>
<path d="M75.3 473.6L78.6 475.3L81.9 478.9L85.2 485.9L88.5 494.6L91.8 504.6L95.1 515.8L98.4 526.3L101.7 537.0L105.0 549.4L108.3 556.6L111.7 561.1L115.0 564.6L118.3 567.4L121.6 570.3L124.9 572.9L128.2 574.7L131.5 575.8L134.8 576.7L138.1 577.0L141.4 576.2L144.7 574.8L148.0 572.6L151.3 568.9L154.6 564.3L157.9 559.0L161.2 552.7L164.5 546.1L167.8 538.8L171.1 531.6L174.4 525.6L177.8 520.3L181.1 516.1L184.4 513.4L187.7 511.9L191.0 511.5L194.3 512.2L197.6 513.5L200.9 515.6L204.2 518.3L207.5 521.1L210.8 524.0L214.1 526.9L217.4 529.7L220.7 532.4L224.0 535.1L227.3 537.7L230.6 540.2L233.9 542.6L237.2 544.8L240.5 547.0L243.8 549.1L247.2 550.9L250.5 552.6L253.8 554.0L257.1 555.2L260.4 556.5L263.7 557.7L267.0 558.8L270.3 559.9L273.6 560.9L276.9 561.8L280.2 562.6L283.5 563.3L286.8 563.9L290.1 564.5L293.4 565.0L296.7 565.4L300.0 565.8L303.3 566.0L306.6 566.3L309.9 566.4L313.2 566.5L316.6 566.4L319.9 566.2L323.2 565.9L326.5 565.4L329.8 564.7L333.1 563.9L336.4 562.9L339.7 561.8L343.0 560.6L346.3 559.2L349.6 557.7L352.9 556.1L356.2 554.4L359.5 552.7L362.8 551.1L366.1 549.5L369.4 548.0L372.7 546.5L376.0 545.2L379.3 544.0L382.7 543.0L386.0 542.1L389.3 541.4L392.6 540.8L395.9 540.4L399.2 540.1L402.5 540.0L405.8 540.0L409.1 540.1L412.4 540.3L415.7 540.6L419.0 540.9L422.3 541.4L425.6 541.8L428.9 542.4L432.2 543.0L435.5 543.6L438.8 544.2L442.1 544.9L445.4 545.6L448.7 546.3L452.1 547.1L455.4 547.9L458.7 548.7L462.0 549.6L465.3 550.5L468.6 551.5L471.9 552.6L475.2 553.6L478.5 554.8L481.8 555.9L485.1 557.1L488.4 558.3L491.7 559.5L495.0 560.6L498.3 561.7L501.6 562.8L504.9 563.8L508.2 564.7L511.5 565.5L514.8 566.1L518.2 566.7L521.5 567.0L524.8 567.3L528.1 567.4L531.4 567.3L534.7 567.1" stroke="#8fb032"/>
<path d="M75.3 473.6L78.6 475.3L81.9 478.9L85.2 485.9L88.5 494.6L91.8 504.6L95.1 515.8L98.4 526.3L101.7 537.4L105.0 550.3L108.3 558.1L111.7 563.3L115.0 567.4L118.3 571.0L121.6 574.6L124.9 577.7L128.2 580.4L131.5 582.3L134.8 584.0L138.1 585.1L141.4 585.2L144.7 584.6L148.0 583.3L151.3 580.5L154.6 576.8L157.9 572.2L161.2 566.4L164.5 560.0L167.8 552.7L171.1 545.0L174.4 537.8L177.8 530.7L181.1 524.3L184.4 519.2L187.7 514.9L191.0 511.9L194.3 510.1L197.6 509.2L200.9 509.6L204.2 510.8L207.5 512.4L210.8 514.2L214.1 516.3L217.4 518.5L220.7 520.8L224.0 523.4L227.3 526.3L230.6 529.4L233.9 532.8L237.2 536.4L240.5 540.2L243.8 544.2L247.2 548.2L250.5 551.9L253.8 555.2L257.1 558.2L260.4 560.8L263.7 563.1L267.0 565.0L270.3 566.4L273.6 567.4L276.9 567.9L280.2 567.9L283.5 567.4L286.8 566.4L290.1 565.0L293.4 563.1L296.7 560.8L300.0 558.1L303.3 555.0L306.6 551.8L309.9 548.5L313.2 545.1L316.6 541.9L319.9 538.8L323.2 536.0L326.5 533.5L329.8 531.4L333.1 529.8L336.4 528.5L339.7 527.6L343.0 527.2L346.3 527.1L349.6 527.4L352.9 528.1L356.2 529.1L359.5 530.6L362.8 532.3L366.1 534.4L369.4 536.7L372.7 539.2L376.0 541.7L379.3 544.3L382.7 546.8L386.0 549.0L389.3 551.0L392.6 552.7L395.9 554.0L399.2 554.9L402.5 555.4L405.8 555.4L409.1 555.0L412.4 554.1L415.7 552.9L419.0 551.3L422.3 549.5L425.6 547.4L428.9 545.1L432.2 542.9L435.5 540.6L438.8 538.5L442.1 536.5L445.4 534.9L448.7 533.5L452.1 532.5L455.4 531.9L458.7 531.7L462.0 531.9L465.3 532.6L468.6 533.7L471.9 535.3L475.2 537.2L478.5 539.6L481.8 542.3L485.1 545.3L488.4 548.5L491.7 551.7L495.0 554.9L498.3 557.9L501.6 560.6L504.9 563.0L508.2 565.0L511.5 566.5L514.8 567.5L518.2 568.0L521.5 568.0L524.8 567.5L528.1 566.4L531.4 564.8L534.7 562.5" stroke="#eb6235"/>
<path d="M75.3 473.6L78.6 475.3L81.9 478.9L85.2 485.9L88.5 494.6L91.8 504.6L95.1 515.8L98.4 526.4L101.7 537.7L105.0 550.8L108.3 559.0L111.7 564.5L115.0 569.0L118.3 573.1L121.6 577.0L124.9 580.5L128.2 583.6L131.5 585.9L134.8 587.7L138.1 589.0L141.4 589.0L144.7 588.3L148.0 586.7L151.3 583.8L154.6 580.0L157.9 575.5L161.2 569.9L164.5 563.9L167.8 557.5L171.1 551.0L174.4 545.2L177.8 539.9L181.1 535.6L184.4 532.8L187.7 530.9L191.0 530.1L194.3 530.4L197.6 531.6L200.9 533.9L204.2 536.8L207.5 539.9L210.8 543.1L214.1 546.3L217.4 549.4L220.7 552.1L224.0 554.5L227.3 556.5L230.6 558.1L233.9 559.2L237.2 559.8L240.5 560.0L243.8 559.9L247.2 559.3L250.5 558.2L253.8 556.6L257.1 554.8L260.4 552.7L263.7 550.6L267.0 548.4L270.3 546.2L273.6 544.1L276.9 542.2L280.2 540.5L283.5 539.0L286.8 537.8L290.1 536.8L293.4 536.2L296.7 535.9L300.0 536.0L303.3 536.4L306.6 537.3L309.9 538.4L313.2 539.9L316.6 541.7L319.9 543.7L323.2 545.8L326.5 548.1L329.8 550.4L333.1 552.6L336.4 554.6L339.7 556.5L343.0 558.2L346.3 559.5L349.6 560.5L352.9 561.2L356.2 561.5L359.5 561.5L362.8 561.1L366.1 560.4L369.4 559.4L372.7 558.1L376.0 556.5L379.3 554.7L382.7 552.8L386.0 550.7L389.3 548.6L392.6 546.5L395.9 544.5L399.2 542.6L402.5 541.0L405.8 539.6L409.1 538.4L412.4 537.6L415.7 537.1L419.0 537.0L422.3 537.2L425.6 537.7L428.9 538.5L432.2 539.7L435.5 541.1L438.8 542.7L442.1 544.6L445.4 546.5L448.7 548.6L452.1 550.6L455.4 552.6L458.7 554.5L462.0 556.2L465.3 557.7L468.6 558.9L471.9 559.9L475.2 560.5L478.5 560.8L481.8 560.8L485.1 560.4L488.4 559.8L491.7 558.8L495.0 557.6L498.3 556.1L501.6 554.4L504.9 552.5L508.2 550.6L511.5 548.6L514.8 546.6L518.2 544.8L521.5 543.0L524.8 541.5L528.1 540.2L531.4 539.1L534.7 538.4" stroke="#8778b3"/>
<path d="M75.3 473.6L78.6 475.3L81.9 478.9L85.2 485.9L88.5 494.6L91.8 504.6L95.1 515.8L98.4 526.3L101.7 537.6L105.0 550.6L108.3 558.7L111.7 564.0L115.0 568.4L118.3 572.4L121.6 576.1L124.9 579.4L128.2 582.2L131.5 584.3L134.8 586.2L138.1 587.8L141.4 588.7L144.7 589.3L148.0 589.5L151.3 588.7L154.6 587.4L157.9 585.2L161.2 581.8L164.5 577.6L167.8 572.2L171.1 565.8L174.4 559.1L177.8 551.8L181.1 544.5L184.4 537.6L187.7 531.0L191.0 525.4L194.3 521.1L197.6 518.1L200.9 516.9L204.2 517.2L207.5 518.4L210.8 520.6L214.1 523.7L217.4 527.6L220.7 532.4L224.0 538.1L227.3 544.6L230.6 551.4L233.9 558.1L237.2 564.1L240.5 569.3L243.8 573.6L247.2 576.8L250.5 578.9L253.8 580.1L257.1 580.5L260.4 580.2L263.7 579.2L267.0 577.6L270.3 575.2L273.6 572.1L276.9 568.3L280.2 564.0L283.5 559.4L286.8 554.7L290.1 550.3L293.4 546.5L296.7 543.4L300.0 541.2L303.3 540.0L306.6 539.7L309.9 540.3L313.2 541.7L316.6 543.9L319.9 546.7L323.2 549.8L326.5 553.2L329.8 556.5L333.1 559.5L336.4 562.1L339.7 564.1L343.0 565.5L346.3 566.2L349.6 566.2L352.9 565.4L356.2 564.0L359.5 562.0L362.8 559.4L366.1 556.4L369.4 553.2L372.7 550.0L376.0 546.9L379.3 544.2L382.7 542.0L386.0 540.5L389.3 539.8L392.6 539.8L395.9 540.6L399.2 542.2L402.5 544.6L405.8 547.6L409.1 551.1L412.4 554.8L415.7 558.7L419.0 562.3L422.3 565.6L425.6 568.3L428.9 570.4L432.2 571.9L435.5 572.7L438.8 572.8L442.1 572.2L445.4 570.9L448.7 569.0L452.1 566.4L455.4 563.2L458.7 559.7L462.0 555.9L465.3 552.1L468.6 548.5L471.9 545.4L475.2 543.0L478.5 541.3L481.8 540.5L485.1 540.6L488.4 541.5L491.7 543.3L495.0 545.9L498.3 549.2L501.6 552.9L504.9 556.9L508.2 560.9L511.5 564.7L514.8 568.0L518.2 570.7L521.5 572.8L524.8 574.2L528.1 574.9L531.4 574.9L534.7 574.2" stroke="#c56e1a"/>
<path d="M75.3 473.6L78.6 475.3L81.9 478.9L85.2 485.9L88.5 494.6L91.8 504.6L95.1 515.8L98.4 526.5L101.7 538.5L105.0 552.7L108.3 562.3L111.7 569.0L115.0 575.0L118.3 581.0L121.6 586.1L124.9 590.9L128.2 595.7L131.5 599.6L134.8 603.0L138.1 605.8L141.4 607.6L144.7 608.7L148.0 609.2L151.3 608.6L154.6 607.2L157.9 604.9L161.2 601.1L164.5 596.7L167.8 591.5L171.1 585.3L174.4 578.7L177.8 571.7L181.1 565.1L184.4 559.6L187.7 554.3L191.0 549.8L194.3 546.6L197.6 544.7L200.9 544.5L204.2 545.5L207.5 547.1L210.8 549.4L214.1 552.4L217.4 556.0L220.7 559.6L224.0 563.2L227.3 566.6L230.6 569.6L233.9 572.1L237.2 574.1L240.5 575.7L243.8 576.8L247.2 577.4L250.5 577.4L253.8 576.7L257.1 575.4L260.4 573.6L263.7 571.3L267.0 568.6L270.3 565.4L273.6 561.8L276.9 558.1L280.2 554.4L283.5 550.6L286.8 547.0L290.1 543.8L293.4 541.0L296.7 538.8L300.0 537.2L303.3 536.3L306.6 536.0L309.9 536.4L313.2 537.4L316.6 538.9L319.9 541.0L323.2 543.4L326.5 546.2L329.8 549.1L333.1 552.0L336.4 554.8L339.7 557.3L343.0 559.3L346.3 561.0L349.6 562.1L352.9 562.6L356.2 562.5L359.5 561.9L362.8 560.8L366.1 559.1L369.4 556.9L372.7 554.3L376.0 551.4L379.3 548.3L382.7 545.2L386.0 542.2L389.3 539.5L392.6 537.2L395.9 535.3L399.2 534.0L402.5 533.3L405.8 533.2L409.1 533.7L412.4 534.9L415.7 536.7L419.0 539.2L422.3 542.3L425.6 545.9L428.9 549.9L432.2 554.2L435.5 558.4L438.8 562.5L442.1 566.2L445.4 569.5L448.7 572.2L452.1 574.4L455.4 576.0L458.7 577.0L462.0 577.5L465.3 577.4L468.6 576.8L471.9 575.7L475.2 574.1L478.5 571.8L481.8 569.0L485.1 565.7L488.4 561.9L491.7 557.8L495.0 553.6L498.3 549.4L501.6 545.4L504.9 541.8L508.2 538.7L511.5 536.2L514.8 534.3L518.2 533.1L521.5 532.4L524.8 532.4L528.1 532.9L531.4 534.0L534.7 535.6" stroke="#5d9ec7"/>
<path d="M75.3 473.6L78.6 475.3L81.9 478.9L85.2 485.9L88.5 494.6L91.8 504.6L95.1 515.8L98.4 526.3L101.7 537.6L105.0 550.7L108.3 558.8L111.7 564.1L115.0 568.6L118.3 572.5L121.6 576.4L124.9 579.5L128.2 582.0L131.5 583.7L134.8 585.0L138.1 585.8L141.4 585.8L144.7 585.3L148.0 584.5L151.3 582.6L154.6 580.2L157.9 577.1L161.2 572.9L164.5 568.2L167.8 562.7L171.1 556.7L174.4 550.7L177.8 544.7L181.1 538.9L184.4 533.9L187.7 529.3L191.0 525.6L194.3 522.9L197.6 521.1L200.9 520.6L204.2 521.2L207.5 522.2L210.8 523.7L214.1 525.8L217.4 528.2L220.7 530.8L224.0 533.8L227.3 537.1L230.6 540.4L233.9 543.7L237.2 546.8L240.5 549.7L243.8 552.2L247.2 554.1L250.5 555.2L253.8 555.5L257.1 555.1L260.4 554.0L263.7 552.2L267.0 549.8L270.3 546.9L273.6 543.5L276.9 539.8L280.2 535.9L283.5 532.1L286.8 528.5L290.1 525.2L293.4 522.4L296.7 520.0L300.0 518.2L303.3 516.9L306.6 516.0L309.9 515.6L313.2 515.6L316.6 516.0L319.9 516.8L323.2 518.0L326.5 519.6L329.8 521.6L333.1 523.9L336.4 526.5L339.7 529.3L343.0 532.2L346.3 535.0L349.6 537.7L352.9 540.1L356.2 542.1L359.5 543.7L362.8 544.9L366.1 545.6L369.4 545.8L372.7 545.6L376.0 545.0L379.3 544.2L382.7 543.1L386.0 541.9L389.3 540.6L392.6 539.3L395.9 538.1L399.2 537.1L402.5 536.2L405.8 535.5L409.1 535.1L412.4 534.9L415.7 534.9L419.0 535.1L422.3 535.5L425.6 536.1L428.9 536.7L432.2 537.3L435.5 538.0L438.8 538.6L442.1 539.2L445.4 539.6L448.7 539.8L452.1 540.0L455.4 539.9L458.7 539.7L462.0 539.4L465.3 539.0L468.6 538.5L471.9 538.0L475.2 537.5L478.5 537.0L481.8 536.7L485.1 536.4L488.4 536.3L491.7 536.4L495.0 536.6L498.3 537.0L501.6 537.5L504.9 538.1L508.2 538.9L511.5 539.6L514.8 540.4L518.2 541.1L521.5 541.7L524.8 542.2L528.1 542.4L531.4 542.4L534.7 542.1" stroke="#ffbf00"/>
<path d="M75.3 473.6L78.6 475.3L81.9 478.9L85.2 485.9L88.5 494.6L91.8 504.6L95.1 515.8L98.4 526.3L101.7 537.6L105.0 550.7L108.3 558.8L111.7 564.2L115.0 568.7L118.3 572.7L121.6 576.5L124.9 579.9L128.2 582.9L131.5 585.3L134.8 587.6L138.1 589.4L141.4 590.4L144.7 590.7L148.0 590.3L151.3 588.4L154.6 585.4L157.9 581.2L161.2 575.4L164.5 568.6L167.8 560.6L171.1 551.7L174.4 542.9L177.8 534.0L181.1 525.7L184.4 518.7L187.7 513.0L191.0 508.9L194.3 506.6L197.6 505.7L200.9 506.5L204.2 508.5L207.5 510.9L210.8 513.8L214.1 517.0L217.4 520.5L220.7 524.2L224.0 528.2L227.3 532.3L230.6 536.3L233.9 540.2L237.2 543.6L240.5 546.5L243.8 548.9L247.2 550.5L250.5 551.3L253.8 551.3L257.1 550.6L260.4 549.4L263.7 547.8L267.0 545.8L270.3 543.7L273.6 541.4L276.9 539.2L280.2 537.2L283.5 535.3L286.8 533.7L290.1 532.5L293.4 531.7L296.7 531.3L300.0 531.3L303.3 531.7L306.6 532.5L309.9 533.7L313.2 535.1L316.6 536.8L319.9 538.6L323.2 540.4L326.5 542.1L329.8 543.6L333.1 544.9L336.4 545.8L339.7 546.3L343.0 546.4L346.3 546.1L349.6 545.3L352.9 544.3L356.2 542.9L359.5 541.3L362.8 539.7L366.1 538.0L369.4 536.4L372.7 535.0L376.0 533.8L379.3 532.9L382.7 532.3L386.0 532.1L389.3 532.2L392.6 532.7L395.9 533.5L399.2 534.6L402.5 536.0L405.8 537.6L409.1 539.4L412.4 541.1L415.7 542.8L419.0 544.4L422.3 545.6L425.6 546.6L428.9 547.2L432.2 547.4L435.5 547.1L438.8 546.5L442.1 545.4L445.4 544.0L448.7 542.3L452.1 540.5L455.4 538.5L458.7 536.6L462.0 534.9L465.3 533.4L468.6 532.1L471.9 531.3L475.2 530.8L478.5 530.8L481.8 531.2L485.1 532.0L488.4 533.3L491.7 535.0L495.0 537.1L498.3 539.4L501.6 541.9L504.9 544.5L508.2 547.0L511.5 549.3L514.8 551.2L518.2 552.6L521.5 553.5L524.8 553.8L528.1 553.4L531.4 552.4L534.7 550.6" stroke="#a5609d"/>
<path d="M75.3 473.6L78.6 475.3L81.9 478.9L85.2 485.9L88.5 494.6L91.8 504.6L95.1 515.8L98.4 526.4L101.7 537.9L105.0 551.4L108.3 560.0L111.7 565.9L115.0 570.9L118.3 575.6L121.6 579.9L124.9 583.8L128.2 587.3L131.5 589.8L134.8 591.7L138.1 592.8L141.4 592.7L144.7 591.7L148.0 589.9L151.3 586.9L154.6 583.2L157.9 578.8L161.2 573.5L164.5 568.2L167.8 562.6L171.1 557.2L174.4 552.5L177.8 548.4L181.1 545.3L184.4 543.8L187.7 543.0L191.0 543.1L194.3 544.3L197.6 546.1L200.9 548.8L204.2 551.8L207.5 554.5L210.8 557.0L214.1 559.3L217.4 561.1L220.7 562.5L224.0 563.3L227.3 563.7L230.6 563.7L233.9 563.2L237.2 562.2L240.5 561.0L243.8 559.5L247.2 557.7L250.5 555.6L253.8 553.1L257.1 550.5L260.4 547.9L263.7 545.4L267.0 543.0L270.3 540.8L273.6 538.8L276.9 537.1L280.2 535.6L283.5 534.3L286.8 533.1L290.1 532.2L293.4 531.5L296.7 531.0L300.0 530.9L303.3 531.0L306.6 531.5L309.9 532.3L313.2 533.4L316.6 535.0L319.9 536.8L323.2 539.0L326.5 541.6L329.8 544.4L333.1 547.4L336.4 550.6L339.7 553.8L343.0 556.9L346.3 559.8L349.6 562.4L352.9 564.7L356.2 566.5L359.5 567.9L362.8 568.8L366.1 569.2L369.4 569.1L372.7 568.4L376.0 567.1L379.3 565.3L382.7 562.8L386.0 559.8L389.3 556.3L392.6 552.4L395.9 548.2L399.2 544.0L402.5 539.9L405.8 536.1L409.1 532.8L412.4 530.0L415.7 527.8L419.0 526.3L422.3 525.3L425.6 524.9L428.9 525.2L432.2 526.1L435.5 527.5L438.8 529.6L442.1 532.3L445.4 535.5L448.7 539.1L452.1 543.1L455.4 547.2L458.7 551.3L462.0 555.1L465.3 558.5L468.6 561.4L471.9 563.8L475.2 565.5L478.5 566.6L481.8 567.2L485.1 567.1L488.4 566.5L491.7 565.4L495.0 563.8L498.3 561.8L501.6 559.4L504.9 556.8L508.2 553.9L511.5 551.1L514.8 548.3L518.2 545.6L521.5 543.2L524.8 541.2L528.1 539.4L531.4 538.1L534.7 537.1" stroke="#929600"/>
<path d="M75.3 473.6L78.6 475.3L81.9 478.9L85.2 485.9L88.5 494.6L91.8 504.6L95.1 515.8L98.4 526.3L101.7 537.6L105.0 550.6L108.3 558.7L111.7 564.0L115.0 568.4L118.3 572.3L121.6 576.1L124.9 579.5L128.2 582.4L131.5 584.5L134.8 586.0L138.1 586.6L141.4 585.8L144.7 583.8L148.0 580.8L151.3 576.1L154.6 570.4L157.9 564.0L161.2 556.8L164.5 549.5L167.8 542.4L171.1 535.8L174.4 530.8L177.8 527.2L181.1 525.3L184.4 525.5L187.7 527.0L191.0 529.9L194.3 533.8L197.6 538.2L200.9 543.2L204.2 548.1L207.5 552.2L210.8 555.3L214.1 557.5L217.4 558.5L220.7 558.3L224.0 557.1L227.3 554.9L230.6 552.0L233.9 548.3L237.2 544.2L240.5 540.2L243.8 536.4L247.2 533.0L250.5 530.2L253.8 527.9L257.1 526.5L260.4 525.9L263.7 526.2L267.0 527.3L270.3 529.3L273.6 532.2L276.9 536.0L280.2 540.4L283.5 545.2L286.8 550.2L290.1 555.1L293.4 559.5L296.7 563.2L300.0 566.2L303.3 568.2L306.6 569.5L309.9 569.9L313.2 569.6L316.6 568.4L319.9 566.4L323.2 563.7L326.5 560.3L329.8 556.4L333.1 552.3L336.4 548.2L339.7 544.2L343.0 540.7L346.3 537.8L349.6 535.6L352.9 534.1L356.2 533.4L359.5 533.4L362.8 534.0L366.1 535.3L369.4 537.1L372.7 539.2L376.0 541.5L379.3 543.9L382.7 546.1L386.0 547.9L389.3 549.2L392.6 549.8L395.9 549.8L399.2 549.0L402.5 547.4L405.8 545.2L409.1 542.4L412.4 539.2L415.7 535.9L419.0 532.6L422.3 529.7L425.6 527.2L428.9 525.3L432.2 524.0L435.5 523.5L438.8 523.7L442.1 524.9L445.4 526.9L448.7 530.0L452.1 534.1L455.4 539.3L458.7 545.3L462.0 551.9L465.3 558.6L468.6 564.8L471.9 570.2L475.2 574.5L478.5 577.8L481.8 580.1L485.1 581.4L488.4 581.9L491.7 581.6L495.0 580.4L498.3 578.2L501.6 575.0L504.9 570.7L508.2 565.2L511.5 558.6L514.8 551.5L518.2 544.3L521.5 537.6L524.8 531.8L528.1 527.3L531.4 523.9L534.7 521.6" stroke="#e95536"/>
<path d="M75.3 473.6L78.6 475.3L81.9 478.9L85.2 485.9L88.5 494.6L91.8 504.6L95.1 515.8L98.4 526.2L101.7 536.9L105.0 549.1L108.3 556.1L111.7 560.5L115.0 563.7L118.3 566.2L121.6 569.0L124.9 571.2L128.2 572.6L131.5 573.4L134.8 574.2L138.1 574.8L141.4 574.6L144.7 574.1L148.0 573.1L151.3 570.8L154.6 567.6L157.9 563.5L161.2 558.3L164.5 552.2L167.8 545.1L171.1 537.5L174.4 530.5L177.8 523.9L181.1 517.9L184.4 513.3L187.7 509.8L191.0 507.8L194.3 507.1L197.6 507.3L200.9 508.8L204.2 511.1L207.5 513.7L210.8 516.6L214.1 519.6L217.4 522.5L220.7 525.3L224.0 528.1L227.3 530.6L230.6 532.7L233.9 534.3L237.2 535.3L240.5 535.8L243.8 535.6L247.2 534.8L250.5 533.4L253.8 531.4L257.1 529.3L260.4 527.1L263.7 524.9L267.0 523.0L270.3 521.4L273.6 520.0L276.9 519.0L280.2 518.4L283.5 518.2L286.8 518.5L290.1 519.2L293.4 520.3L296.7 521.9L300.0 523.9L303.3 526.4L306.6 529.2L309.9 532.2L313.2 535.3L316.6 538.2L319.9 540.8L323.2 543.1L326.5 544.7L329.8 545.8L333.1 546.2L336.4 546.0L339.7 545.3L343.0 544.1L346.3 542.6L349.6 541.0L352.9 539.3L356.2 537.7L359.5 536.4L362.8 535.5L366.1 535.1L369.4 535.2L372.7 535.9L376.0 537.2L379.3 539.2L382.7 541.7L386.0 544.6L389.3 547.9L392.6 551.4L395.9 554.9L399.2 558.1L402.5 561.0L405.8 563.3L409.1 565.0L412.4 566.0L415.7 566.3L419.0 565.9L422.3 564.7L425.6 562.7L428.9 560.1L432.2 556.7L435.5 552.9L438.8 548.7L442.1 544.3L445.4 540.1L448.7 536.3L452.1 532.9L455.4 530.1L458.7 527.9L462.0 526.4L465.3 525.5L468.6 525.2L471.9 525.4L475.2 526.0L478.5 527.1L481.8 528.5L485.1 530.1L488.4 531.8L491.7 533.5L495.0 535.0L498.3 536.2L501.6 537.0L504.9 537.2L508.2 536.9L511.5 536.1L514.8 534.8L518.2 533.0L521.5 531.0L524.8 528.9L528.1 526.7L531.4 524.7L534.7 522.9" stroke="#6685d9"/>
<path d="M75.3 473.6L78.6 475.3L81.9 478.9L85.2 485.9L88.5 494.6L91.8 504.6L95.1 515.8L98.4 526.3L101.7 537.5L105.0 550.5L108.3 558.5L111.7 563.8L115.0 568.1L118.3 571.9L121.6 575.7L124.9 578.9L128.2 581.8L131.5 583.9L134.8 585.7L138.1 586.9L141.4 587.0L144.7 586.3L148.0 584.8L151.3 581.9L154.6 578.0L157.9 573.2L161.2 567.2L164.5 560.7L167.8 553.4L171.1 545.7L174.4 538.6L177.8 531.8L181.1 525.7L184.4 521.1L187.7 517.3L191.0 514.9L194.3 513.7L197.6 513.4L200.9 514.3L204.2 516.0L207.5 518.0L210.8 520.3L214.1 522.7L217.4 525.4L220.7 528.1L224.0 530.9L227.3 533.9L230.6 537.0L233.9 540.1L237.2 543.1L240.5 546.1L243.8 549.0L247.2 551.7L250.5 554.1L253.8 556.0L257.1 557.7L260.4 559.1L263.7 560.3L267.0 561.2L270.3 561.9L273.6 562.3L276.9 562.5L280.2 562.5L283.5 562.2L286.8 561.7L290.1 560.9L293.4 560.0L296.7 559.0L300.0 557.8L303.3 556.6L306.6 555.4L309.9 554.2L313.2 553.0L316.6 551.9L319.9 550.9L323.2 550.0L326.5 549.1L329.8 548.4L333.1 547.8L336.4 547.4L339.7 547.1L343.0 546.8L346.3 546.7L349.6 546.7L352.9 546.8L356.2 547.0L359.5 547.2L362.8 547.5L366.1 547.8L369.4 548.2L372.7 548.5L376.0 548.8L379.3 549.0L382.7 549.2L386.0 549.2L389.3 549.2L392.6 549.0L395.9 548.7L399.2 548.2L402.5 547.7L405.8 546.9L409.1 546.1L412.4 545.2L415.7 544.1L419.0 543.0L422.3 541.9L425.6 540.7L428.9 539.6L432.2 538.5L435.5 537.4L438.8 536.4L442.1 535.6L445.4 534.8L448.7 534.3L452.1 533.9L455.4 533.7L458.7 533.7L462.0 533.9L465.3 534.3L468.6 534.9L471.9 535.7L475.2 536.8L478.5 538.1L481.8 539.6L485.1 541.3L488.4 543.1L491.7 545.1L495.0 547.2L498.3 549.3L501.6 551.5L504.9 553.6L508.2 555.6L511.5 557.6L514.8 559.4L518.2 561.0L521.5 562.4L524.8 563.6L528.1 564.5L531.4 565.3L534.7 565.7" stroke="#f89f13"/>
<path d="M75.3 473.6L78.6 475.3L81.9 478.9L85.2 485.9L88.5 494.6L91.8 504.6L95.1 515.8L98.4 526.3L101.7 537.0L105.0 549.4L108.3 556.6L111.7 561.1L115.0 564.6L118.3 567.3L121.6 570.3L124.9 572.7L128.2 574.2L131.5 574.8L134.8 575.2L138.1 574.9L141.4 573.7L144.7 571.8L148.0 569.3L151.3 565.5L154.6 561.0L157.9 556.0L161.2 550.3L164.5 544.5L167.8 538.3L171.1 532.3L174.4 527.5L177.8 523.6L181.1 520.7L184.4 519.2L187.7 518.6L191.0 519.1L194.3 520.3L197.6 521.9L200.9 524.2L204.2 527.0L207.5 529.7L210.8 532.3L214.1 534.8L217.4 537.0L220.7 538.9L224.0 540.6L227.3 542.0L230.6 543.2L233.9 544.0L237.2 544.6L240.5 545.0L243.8 545.2L247.2 545.2L250.5 545.0L253.8 544.5L257.1 543.9L260.4 543.3L263.7 542.7L267.0 542.1L270.3 541.6L273.6 541.1L276.9 540.6L280.2 540.2L283.5 539.9L286.8 539.6L290.1 539.6L293.4 539.6L296.7 539.9L300.0 540.3L303.3 540.9L306.6 541.7L309.9 542.6L313.2 543.8L316.6 545.0L319.9 546.3L323.2 547.7L326.5 549.0L329.8 550.4L333.1 551.7L336.4 552.9L339.7 554.0L343.0 555.0L346.3 555.7L349.6 556.3L352.9 556.6L356.2 556.7L359.5 556.6L362.8 556.3L366.1 555.7L369.4 554.9L372.7 553.9L376.0 552.7L379.3 551.3L382.7 549.7L386.0 548.0L389.3 546.1L392.6 544.2L395.9 542.3L399.2 540.4L402.5 538.5L405.8 536.7L409.1 535.1L412.4 533.6L415.7 532.3L419.0 531.2L422.3 530.3L425.6 529.6L428.9 529.2L432.2 528.9L435.5 529.0L438.8 529.2L442.1 529.8L445.4 530.5L448.7 531.5L452.1 532.8L455.4 534.2L458.7 535.9L462.0 537.7L465.3 539.7L468.6 541.9L471.9 544.1L475.2 546.3L478.5 548.5L481.8 550.7L485.1 552.7L488.4 554.6L491.7 556.4L495.0 557.9L498.3 559.1L501.6 560.2L504.9 561.0L508.2 561.5L511.5 561.8L514.8 561.8L518.2 561.5L521.5 561.0L524.8 560.3L528.1 559.4L531.4 558.2L534.7 556.9" stroke="#bc5b80"/>
<path d="M75.3 473.6L78.6 475.3L81.9 478.9L85.2 485.9L88.5 494.6L91.8 504.6L95.1 515.8L98.4 526.3L101.7 537.1L105.0 549.6L108.3 557.0L111.7 561.7L115.0 565.3L118.3 568.3L121.6 571.4L124.9 573.9L128.2 575.5L131.5 576.1L134.8 576.4L138.1 576.0L141.4 574.7L144.7 572.8L148.0 570.4L151.3 566.9L154.6 563.0L157.9 558.8L161.2 553.9L164.5 549.1L167.8 543.9L171.1 538.9L174.4 535.0L177.8 531.5L181.1 528.7L184.4 526.7L187.7 525.2L191.0 524.2L194.3 523.6L197.6 523.0L200.9 522.8L204.2 522.9L207.5 522.8L210.8 522.7L214.1 522.5L217.4 522.2L220.7 521.8L224.0 521.5L227.3 521.4L230.6 521.4L233.9 521.5L237.2 521.9L240.5 522.6L243.8 523.7L247.2 525.0L250.5 526.7L253.8 528.6L257.1 530.8L260.4 533.4L263.7 536.2L267.0 539.1L270.3 542.0L273.6 544.8L276.9 547.4L280.2 549.5L283.5 551.2L286.8 552.3L290.1 552.9L293.4 553.0L296.7 552.4L300.0 551.4L303.3 549.8L306.6 547.9L309.9 545.6L313.2 543.0L316.6 540.3L319.9 537.6L323.2 534.9L326.5 532.5L329.8 530.3L333.1 528.5L336.4 527.0L339.7 526.0L343.0 525.4L346.3 525.2L349.6 525.4L352.9 526.0L356.2 527.0L359.5 528.5L362.8 530.3L366.1 532.5L369.4 535.0L372.7 537.7L376.0 540.4L379.3 543.1L382.7 545.6L386.0 547.9L389.3 549.9L392.6 551.4L395.9 552.4L399.2 552.9L402.5 552.8L405.8 552.3L409.1 551.2L412.4 549.8L415.7 547.9L419.0 545.7L422.3 543.3L425.6 540.8L428.9 538.3L432.2 535.8L435.5 533.6L438.8 531.7L442.1 530.0L445.4 528.8L448.7 527.8L452.1 527.3L455.4 527.1L458.7 527.4L462.0 527.9L465.3 528.8L468.6 530.1L471.9 531.6L475.2 533.3L478.5 535.3L481.8 537.3L485.1 539.4L488.4 541.4L491.7 543.3L495.0 545.0L498.3 546.4L501.6 547.5L504.9 548.3L508.2 548.6L511.5 548.6L514.8 548.3L518.2 547.6L521.5 546.5L524.8 545.3L528.1 543.8L531.4 542.2L534.7 540.5" stroke="#47b66d"/>
<path d="M75.3 473.6L78.6 475.3L81.9 478.9L85.2 485.9L88.5 494.6L91.8 504.6L95.1 515.8L98.4 526.3L101.7 537.2L105.0 549.8L108.3 557.2L111.7 561.9L115.0 565.7L118.3 568.8L121.6 572.0L124.9 574.7L128.2 576.6L131.5 577.7L134.8 578.3L138.1 578.2L141.4 576.8L144.7 574.8L148.0 572.0L151.3 567.9L154.6 563.2L157.9 558.1L161.2 552.5L164.5 547.0L167.8 541.4L171.1 536.2L174.4 532.5L177.8 529.7L181.1 528.0L184.4 527.6L187.7 527.9L191.0 529.0L194.3 530.7L197.6 532.4L200.9 534.5L204.2 536.7L207.5 538.4L210.8 539.8L214.1 540.7L217.4 541.2L220.7 541.1L224.0 540.8L227.3 540.3L230.6 539.6L233.9 538.8L237.2 538.0L240.5 537.3L243.8 536.9L247.2 536.5L250.5 536.4L253.8 536.3L257.1 536.5L260.4 537.0L263.7 537.8L267.0 538.8L270.3 540.0L273.6 541.3L276.9 542.7L280.2 544.1L283.5 545.4L286.8 546.6L290.1 547.7L293.4 548.6L296.7 549.3L300.0 549.9L303.3 550.2L306.6 550.4L309.9 550.5L313.2 550.4L316.6 550.2L319.9 549.9L323.2 549.5L326.5 549.0L329.8 548.5L333.1 548.0L336.4 547.5L339.7 547.0L343.0 546.6L346.3 546.2L349.6 545.8L352.9 545.5L356.2 545.3L359.5 545.1L362.8 545.0L366.1 545.0L369.4 545.0L372.7 545.0L376.0 545.0L379.3 545.1L382.7 545.1L386.0 545.2L389.3 545.3L392.6 545.3L395.9 545.4L399.2 545.5L402.5 545.6L405.8 545.7L409.1 545.8L412.4 545.9L415.7 546.1L419.0 546.3L422.3 546.4L425.6 546.6L428.9 546.8L432.2 547.0L435.5 547.1L438.8 547.2L442.1 547.2L445.4 547.2L448.7 547.2L452.1 547.1L455.4 546.9L458.7 546.7L462.0 546.4L465.3 546.2L468.6 545.9L471.9 545.6L475.2 545.3L478.5 545.1L481.8 545.0L485.1 544.9L488.4 544.9L491.7 545.0L495.0 545.2L498.3 545.5L501.6 545.8L504.9 546.3L508.2 546.7L511.5 547.3L514.8 547.8L518.2 548.3L521.5 548.7L524.8 549.1L528.1 549.3L531.4 549.5L534.7 549.5" stroke="#5e81b5"/>
<path d="M75.3 473.6L78.6 475.3L81.9 478.9L85.2 485.9L88.5 494.6L91.8 504.6L95.1 515.8L98.4 526.3L101.7 537.6L105.0 550.8L108.3 558.9L111.7 564.4L115.0 568.9L118.3 573.0L121.6 576.9L124.9 580.2L128.2 583.1L131.5 585.0L134.8 586.6L138.1 587.6L141.4 587.7L144.7 587.3L148.0 586.6L151.3 585.0L154.6 583.1L157.9 581.1L161.2 578.5L164.5 575.9L167.8 573.2L171.1 570.5L174.4 568.3L177.8 566.2L181.1 564.4L184.4 563.1L187.7 561.6L191.0 560.2L194.3 558.7L197.6 556.8L200.9 555.1L204.2 553.3L207.5 551.1L210.8 548.8L214.1 546.5L217.4 544.3L220.7 542.0L224.0 540.0L227.3 538.4L230.6 537.1L233.9 536.1L237.2 535.5L240.5 535.4L243.8 535.8L247.2 536.4L250.5 537.1L253.8 538.0L257.1 538.9L260.4 540.0L263.7 541.0L267.0 542.0L270.3 542.8L273.6 543.4L276.9 543.7L280.2 543.8L283.5 543.6L286.8 543.0L290.1 542.3L293.4 541.5L296.7 540.7L300.0 540.0L303.3 539.5L306.6 539.2L309.9 539.4L313.2 539.9L316.6 540.9L319.9 542.3L323.2 544.2L326.5 546.6L329.8 549.2L333.1 552.2L336.4 555.2L339.7 558.2L343.0 561.1L346.3 563.7L349.6 565.8L352.9 567.5L356.2 568.7L359.5 569.4L362.8 569.6L366.1 569.2L369.4 568.3L372.7 566.8L376.0 564.8L379.3 562.4L382.7 559.6L386.0 556.6L389.3 553.4L392.6 550.3L395.9 547.4L399.2 544.8L402.5 542.7L405.8 541.0L409.1 539.8L412.4 539.2L415.7 539.1L419.0 539.5L422.3 540.3L425.6 541.4L428.9 542.8L432.2 544.3L435.5 545.9L438.8 547.4L442.1 548.7L445.4 549.8L448.7 550.6L452.1 551.0L455.4 551.1L458.7 550.8L462.0 550.1L465.3 549.2L468.6 548.1L471.9 546.9L475.2 545.7L478.5 544.6L481.8 543.6L485.1 543.0L488.4 542.6L491.7 542.6L495.0 543.1L498.3 543.9L501.6 545.2L504.9 546.7L508.2 548.6L511.5 550.6L514.8 552.8L518.2 554.8L521.5 556.8L524.8 558.4L528.1 559.7L531.4 560.7L534.7 561.1" stroke="#e19c24"/>
<path d="M75.3 473.6L78.6 475.3L81.9 478.9L85.2 485.9L88.5 494.6L91.8 504.6L95.1 515.8L98.4 526.2L101.7 536.8L105.0 548.9L108.3 555.8L111.7 560.0L115.0 563.0L118.3 565.3L121.6 568.0L124.9 570.1L128.2 571.5L131.5 572.1L134.8 572.7L138.1 572.8L141.4 572.0L144.7 570.5L148.0 568.3L151.3 564.6L154.6 559.9L157.9 554.3L161.2 547.6L164.5 540.3L167.8 532.1L171.1 523.8L174.4 516.7L177.8 510.4L181.1 505.3L184.4 501.9L187.7 500.0L191.0 499.6L194.3 500.7L197.6 502.5L200.9 505.4L204.2 509.0L207.5 512.9L210.8 517.1L214.1 521.5L217.4 526.1L220.7 530.9L224.0 536.0L227.3 541.3L230.6 546.4L233.9 551.3L237.2 555.6L240.5 559.5L243.8 562.7L247.2 565.2L250.5 567.0L253.8 568.2L257.1 568.7L260.4 568.9L263.7 568.6L267.0 567.9L270.3 566.8L273.6 565.4L276.9 563.8L280.2 561.8L283.5 559.8L286.8 557.8L290.1 555.9L293.4 554.2L296.7 552.7L300.0 551.6L303.3 550.7L306.6 550.3L309.9 550.1L313.2 550.3L316.6 550.7L319.9 551.3L323.2 552.0L326.5 552.7L329.8 553.3L333.1 553.9L336.4 554.2L339.7 554.2L343.0 553.9L346.3 553.3L349.6 552.3L352.9 551.0L356.2 549.3L359.5 547.3L362.8 545.1L366.1 542.8L369.4 540.4L372.7 538.0L376.0 535.8L379.3 533.7L382.7 532.0L386.0 530.6L389.3 529.6L392.6 529.1L395.9 528.9L399.2 529.2L402.5 530.0L405.8 531.3L409.1 533.1L412.4 535.3L415.7 537.9L419.0 540.9L422.3 544.2L425.6 547.6L428.9 551.1L432.2 554.4L435.5 557.6L438.8 560.3L442.1 562.7L445.4 564.6L448.7 566.1L452.1 567.1L455.4 567.6L458.7 567.7L462.0 567.4L465.3 566.7L468.6 565.7L471.9 564.4L475.2 562.9L478.5 561.2L481.8 559.5L485.1 557.8L488.4 556.1L491.7 554.7L495.0 553.5L498.3 552.5L501.6 551.9L504.9 551.6L508.2 551.6L511.5 552.0L514.8 552.5L518.2 553.3L521.5 554.3L524.8 555.3L528.1 556.2L531.4 557.1L534.7 557.9" stroke="#8fb032"/>
<path d="M75.3 473.6L78.6 475.3L81.9 478.9L85.2 485.9L88.5 494.6L91.8 504.6L95.1 515.8L98.4 526.2L101.7 536.9L105.0 549.1L108.3 556.1L111.7 560.5L115.0 563.7L118.3 566.2L121.6 569.0L124.9 571.2L128.2 572.6L131.5 573.2L134.8 573.8L138.1 574.2L141.4 573.8L144.7 573.1L148.0 571.9L151.3 569.6L154.6 566.5L157.9 562.8L161.2 558.0L164.5 552.6L167.8 546.3L171.1 539.5L174.4 533.4L177.8 527.5L181.1 522.1L184.4 517.6L187.7 513.9L191.0 511.4L194.3 510.0L197.6 509.3L200.9 509.8L204.2 511.1L207.5 512.9L210.8 515.0L214.1 517.5L217.4 520.1L220.7 523.0L224.0 526.3L227.3 529.9L230.6 534.0L233.9 538.2L237.2 542.5L240.5 546.9L243.8 551.0L247.2 554.7L250.5 557.7L253.8 560.0L257.1 561.7L260.4 562.7L263.7 563.2L267.0 562.9L270.3 562.0L273.6 560.5L276.9 558.3L280.2 555.5L283.5 552.4L286.8 548.9L290.1 545.3L293.4 541.8L296.7 538.6L300.0 535.7L303.3 533.4L306.6 531.6L309.9 530.5L313.2 530.0L316.6 530.1L319.9 530.9L323.2 532.3L326.5 534.4L329.8 537.1L333.1 540.4L336.4 544.2L339.7 548.4L343.0 552.6L346.3 556.8L349.6 560.8L352.9 564.2L356.2 567.2L359.5 569.6L362.8 571.3L366.1 572.4L369.4 572.9L372.7 572.7L376.0 571.9L379.3 570.4L382.7 568.2L386.0 565.4L389.3 561.9L392.6 557.8L395.9 553.3L399.2 548.5L402.5 543.8L405.8 539.3L409.1 535.2L412.4 531.6L415.7 528.7L419.0 526.5L422.3 524.9L425.6 524.0L428.9 523.7L432.2 524.0L435.5 524.8L438.8 526.2L442.1 528.3L445.4 530.8L448.7 533.9L452.1 537.3L455.4 541.0L458.7 544.8L462.0 548.6L465.3 552.0L468.6 555.1L471.9 557.7L475.2 559.7L478.5 561.1L481.8 561.9L485.1 562.1L488.4 561.7L491.7 560.7L495.0 559.2L498.3 557.3L501.6 555.0L504.9 552.5L508.2 549.9L511.5 547.3L514.8 544.9L518.2 542.8L521.5 541.0L524.8 539.8L528.1 539.0L531.4 538.9L534.7 539.3" stroke="#eb6235"/>
<path d="M75.3 473.6L78.6 475.3L81.9 478.9L85.2 485.9L88.5 494.6L91.8 504.6L95.1 515.8L98.4 526.4L101.7 538.1L105.0 551.7L108.3 560.5L111.7 566.6L115.0 571.9L118.3 576.8L121.6 581.3L124.9 585.4L128.2 589.2L131.5 592.2L134.8 594.6L138.1 596.5L141.4 597.3L144.7 597.3L148.0 596.7L151.3 594.9L154.6 592.3L157.9 589.0L161.2 584.5L164.5 579.5L167.8 574.0L171.1 567.9L174.4 561.9L177.8 555.9L181.1 550.5L184.4 546.1L187.7 542.0L191.0 538.8L194.3 536.5L197.6 535.1L200.9 535.0L204.2 535.6L207.5 536.5L210.8 537.7L214.1 539.3L217.4 541.2L220.7 543.0L224.0 545.0L227.3 547.0L230.6 549.0L233.9 550.8L237.2 552.6L240.5 554.2L243.8 555.8L247.2 557.1L250.5 558.1L253.8 558.7L257.1 559.0L260.4 559.2L263.7 559.2L267.0 559.0L270.3 558.7L273.6 558.2L276.9 557.5L280.2 556.7L283.5 555.6L286.8 554.3L290.1 552.8L293.4 551.1L296.7 549.4L300.0 547.5L303.3 545.6L306.6 543.8L309.9 542.1L313.2 540.4L316.6 538.9L319.9 537.4L323.2 536.2L326.5 535.1L329.8 534.2L333.1 533.5L336.4 533.0L339.7 532.7L343.0 532.5L346.3 532.6L349.6 532.9L352.9 533.3L356.2 534.0L359.5 534.8L362.8 535.8L366.1 537.0L369.4 538.4L372.7 539.9L376.0 541.5L379.3 543.2L382.7 544.9L386.0 546.6L389.3 548.3L392.6 550.0L395.9 551.6L399.2 553.1L402.5 554.4L405.8 555.6L409.1 556.7L412.4 557.5L415.7 558.2L419.0 558.6L422.3 558.9L425.6 559.0L428.9 558.9L432.2 558.6L435.5 558.1L438.8 557.5L442.1 556.7L445.4 555.8L448.7 554.8L452.1 553.6L455.4 552.4L458.7 551.1L462.0 549.8L465.3 548.5L468.6 547.1L471.9 545.8L475.2 544.6L478.5 543.4L481.8 542.3L485.1 541.4L488.4 540.5L491.7 539.7L495.0 539.1L498.3 538.6L501.6 538.2L504.9 538.0L508.2 537.9L511.5 537.9L514.8 538.0L518.2 538.2L521.5 538.5L524.8 539.0L528.1 539.5L531.4 540.1L534.7 540.8" stroke="#8778b3"/>
<path d="M75.3 473.6L78.6 475.3L81.9 478.9L85.2 485.9L88.5 494.6L91.8 504.6L95.1 515.8L98.4 526.3L101.7 537.2L105.0 549.9L108.3 557.4L111.7 562.3L115.0 566.1L118.3 569.3L121.6 572.6L124.9 575.4L128.2 577.6L131.5 579.0L134.8 580.3L138.1 581.1L141.4 581.0L144.7 580.3L148.0 579.1L151.3 576.7L154.6 573.7L157.9 570.0L161.2 565.5L164.5 560.7L167.8 555.4L171.1 549.9L174.4 545.1L177.8 540.5L181.1 536.4L184.4 533.2L187.7 530.3L191.0 528.0L194.3 526.2L197.6 524.6L200.9 523.6L204.2 523.0L207.5 522.5L210.8 522.0L214.1 521.6L217.4 521.2L220.7 520.7L224.0 520.5L227.3 520.4L230.6 520.4L233.9 520.6L237.2 521.0L240.5 521.7L243.8 522.8L247.2 524.1L250.5 525.8L253.8 527.7L257.1 529.9L260.4 532.4L263.7 535.3L267.0 538.3L270.3 541.5L273.6 544.6L276.9 547.6L280.2 550.3L283.5 552.8L286.8 554.8L290.1 556.5L293.4 557.9L296.7 558.8L300.0 559.4L303.3 559.7L306.6 559.8L309.9 559.6L313.2 559.2L316.6 558.7L319.9 558.0L323.2 557.2L326.5 556.3L329.8 555.4L333.1 554.4L336.4 553.4L339.7 552.3L343.0 551.2L346.3 550.1L349.6 548.8L352.9 547.5L356.2 546.1L359.5 544.6L362.8 543.1L366.1 541.4L369.4 539.7L372.7 537.9L376.0 536.0L379.3 534.2L382.7 532.5L386.0 530.8L389.3 529.4L392.6 528.1L395.9 527.0L399.2 526.3L402.5 525.8L405.8 525.7L409.1 525.9L412.4 526.6L415.7 527.6L419.0 529.1L422.3 531.0L425.6 533.4L428.9 536.1L432.2 539.3L435.5 542.7L438.8 546.2L442.1 549.8L445.4 553.2L448.7 556.4L452.1 559.2L455.4 561.5L458.7 563.4L462.0 564.7L465.3 565.5L468.6 565.7L471.9 565.4L475.2 564.5L478.5 563.2L481.8 561.3L485.1 559.1L488.4 556.4L491.7 553.5L495.0 550.3L498.3 547.1L501.6 544.0L504.9 541.0L508.2 538.3L511.5 535.9L514.8 533.8L518.2 532.1L521.5 530.8L524.8 529.8L528.1 529.2L531.4 528.9L534.7 528.9" stroke="#c56e1a"/>
<path d="M75.3 473.6L78.6 475.3L81.9 478.9L85.2 485.9L88.5 494.6L91.8 504.6L95.1 515.8L98.4 526.4L101.7 537.8L105.0 551.1L108.3 559.4L111.7 565.1L115.0 569.9L118.3 574.2L121.6 578.3L124.9 581.9L128.2 585.2L131.5 587.6L134.8 589.6L138.1 590.9L141.4 591.1L144.7 590.4L148.0 589.1L151.3 586.3L154.6 582.9L157.9 578.7L161.2 573.4L164.5 567.9L167.8 562.0L171.1 556.1L174.4 551.0L177.8 546.3L181.1 542.8L184.4 540.8L187.7 539.6L191.0 539.7L194.3 540.9L197.6 543.0L200.9 546.1L204.2 549.7L207.5 553.3L210.8 556.6L214.1 559.8L217.4 562.5L220.7 564.5L224.0 566.0L227.3 566.8L230.6 567.0L233.9 566.4L237.2 565.3L240.5 563.6L243.8 561.3L247.2 558.4L250.5 555.0L253.8 551.0L257.1 546.7L260.4 542.5L263.7 538.5L267.0 534.9L270.3 531.7L273.6 529.1L276.9 527.0L280.2 525.5L283.5 524.5L286.8 523.9L290.1 523.9L293.4 524.3L296.7 525.2L300.0 526.6L303.3 528.5L306.6 530.9L309.9 533.8L313.2 537.1L316.6 540.6L319.9 544.4L323.2 548.2L326.5 551.9L329.8 555.4L333.1 558.5L336.4 561.3L339.7 563.7L343.0 565.5L346.3 567.0L349.6 568.0L352.9 568.5L356.2 568.7L359.5 568.5L362.8 568.0L366.1 567.1L369.4 565.8L372.7 564.3L376.0 562.5L379.3 560.4L382.7 558.1L386.0 555.6L389.3 553.0L392.6 550.3L395.9 547.6L399.2 545.0L402.5 542.6L405.8 540.3L409.1 538.3L412.4 536.5L415.7 535.0L419.0 533.9L422.3 533.1L425.6 532.7L428.9 532.7L432.2 533.0L435.5 533.7L438.8 534.9L442.1 536.4L445.4 538.3L448.7 540.5L452.1 543.1L455.4 545.8L458.7 548.7L462.0 551.6L465.3 554.5L468.6 557.2L471.9 559.6L475.2 561.6L478.5 563.3L481.8 564.5L485.1 565.1L488.4 565.3L491.7 565.0L495.0 564.1L498.3 562.6L501.6 560.6L504.9 558.1L508.2 555.2L511.5 551.8L514.8 548.2L518.2 544.5L521.5 540.9L524.8 537.5L528.1 534.4L531.4 531.8L534.7 529.6" stroke="#5d9ec7"/>
<path d="M75.3 473.6L78.6 475.3L81.9 478.9L85.2 485.9L88.5 494.6L91.8 504.6L95.1 515.8L98.4 526.4L101.7 538.2L105.0 552.1L108.3 561.2L111.7 567.5L115.0 573.0L118.3 578.3L121.6 583.1L124.9 587.2L128.2 590.9L131.5 593.5L134.8 595.4L138.1 596.6L141.4 596.7L144.7 596.2L148.0 595.3L151.3 593.7L154.6 591.8L157.9 589.6L161.2 586.7L164.5 583.8L167.8 580.5L171.1 576.8L174.4 572.9L177.8 568.6L181.1 564.3L184.4 560.3L187.7 555.7L191.0 550.9L194.3 546.1L197.6 541.2L200.9 536.9L204.2 533.0L207.5 529.2L210.8 525.7L214.1 522.9L217.4 520.6L220.7 518.8L224.0 517.5L227.3 516.7L230.6 516.3L233.9 516.2L237.2 516.4L240.5 517.1L243.8 518.2L247.2 519.8L250.5 521.7L253.8 523.9L257.1 526.5L260.4 529.4L263.7 532.5L267.0 535.8L270.3 539.2L273.6 542.4L276.9 545.4L280.2 548.1L283.5 550.2L286.8 551.8L290.1 552.9L293.4 553.5L296.7 553.7L300.0 553.5L303.3 553.1L306.6 552.5L309.9 551.8L313.2 551.0L316.6 550.2L319.9 549.5L323.2 548.8L326.5 548.1L329.8 547.6L333.1 547.1L336.4 546.5L339.7 546.0L343.0 545.3L346.3 544.5L349.6 543.4L352.9 542.1L356.2 540.4L359.5 538.5L362.8 536.3L366.1 533.7L369.4 531.0L372.7 528.2L376.0 525.3L379.3 522.6L382.7 520.0L386.0 517.7L389.3 515.8L392.6 514.1L395.9 512.9L399.2 512.0L402.5 511.5L405.8 511.3L409.1 511.5L412.4 512.0L415.7 513.1L419.0 514.6L422.3 516.7L425.6 519.5L428.9 523.1L432.2 527.4L435.5 532.3L438.8 537.7L442.1 543.3L445.4 548.8L448.7 553.8L452.1 558.1L455.4 561.5L458.7 564.1L462.0 565.7L465.3 566.5L468.6 566.3L471.9 565.3L475.2 563.5L478.5 560.9L481.8 557.6L485.1 553.6L488.4 549.3L491.7 544.7L495.0 540.2L498.3 535.9L501.6 532.2L504.9 529.0L508.2 526.4L511.5 524.4L514.8 523.0L518.2 522.2L521.5 522.0L524.8 522.1L528.1 522.8L531.4 523.8L534.7 525.2" stroke="#ffbf00"/>
<path d="M75.3 473.6L78.6 475.3L81.9 478.9L85.2 485.9L88.5 494.6L91.8 504.6L95.1 515.8L98.4 526.4L101.7 538.1L105.0 551.8L108.3 560.7L111.7 566.9L115.0 572.2L118.3 577.3L121.6 581.9L124.9 585.9L128.2 589.8L131.5 592.8L134.8 595.4L138.1 597.5L141.4 598.7L144.7 599.3L148.0 599.3L151.3 598.2L154.6 596.3L157.9 593.4L161.2 589.1L164.5 584.0L167.8 578.0L171.1 570.9L174.4 563.6L177.8 555.8L181.1 548.3L184.4 541.8L187.7 535.7L191.0 530.6L194.3 526.9L197.6 524.6L200.9 524.1L204.2 524.9L207.5 526.4L210.8 528.5L214.1 531.4L217.4 534.9L220.7 538.7L224.0 542.7L227.3 546.9L230.6 550.9L233.9 554.4L237.2 557.4L240.5 559.8L243.8 561.6L247.2 562.6L250.5 562.7L253.8 561.9L257.1 560.4L260.4 558.2L263.7 555.4L267.0 552.1L270.3 548.5L273.6 544.8L276.9 541.1L280.2 537.7L283.5 534.5L286.8 531.7L290.1 529.5L293.4 527.7L296.7 526.6L300.0 526.0L303.3 525.9L306.6 526.4L309.9 527.4L313.2 528.9L316.6 530.8L319.9 533.1L323.2 535.6L326.5 538.3L329.8 540.9L333.1 543.4L336.4 545.7L339.7 547.5L343.0 548.9L346.3 549.9L349.6 550.3L352.9 550.2L356.2 549.6L359.5 548.7L362.8 547.5L366.1 546.0L369.4 544.4L372.7 542.7L376.0 541.1L379.3 539.7L382.7 538.5L386.0 537.5L389.3 536.9L392.6 536.5L395.9 536.5L399.2 536.8L402.5 537.3L405.8 538.1L409.1 539.1L412.4 540.2L415.7 541.3L419.0 542.5L422.3 543.5L425.6 544.4L428.9 545.1L432.2 545.5L435.5 545.7L438.8 545.7L442.1 545.4L445.4 544.9L448.7 544.2L452.1 543.4L455.4 542.6L458.7 541.7L462.0 541.0L465.3 540.3L468.6 539.9L471.9 539.7L475.2 539.6L478.5 539.9L481.8 540.3L485.1 541.0L488.4 541.8L491.7 542.7L495.0 543.8L498.3 544.7L501.6 545.6L504.9 546.4L508.2 546.9L511.5 547.2L514.8 547.1L518.2 546.7L521.5 545.9L524.8 544.8L528.1 543.5L531.4 541.8L534.7 540.1" stroke="#a5609d"/>
<path d="M75.3 473.6L78.6 475.3L81.9 478.9L85.2 485.9L88.5 494.6L91.8 504.6L95.1 515.8L98.4 526.2L101.7 536.9L105.0 549.2L108.3 556.2L111.7 560.5L115.0 563.8L118.3 566.3L121.6 569.1L124.9 571.5L128.2 573.2L131.5 574.2L134.8 575.0L138.1 575.2L141.4 574.2L144.7 572.4L148.0 569.5L151.3 564.9L154.6 559.1L157.9 552.4L161.2 544.5L164.5 536.1L167.8 527.0L171.1 518.0L174.4 510.4L177.8 503.9L181.1 498.9L184.4 495.7L187.7 494.2L191.0 494.3L194.3 495.6L197.6 497.6L200.9 500.4L204.2 503.7L207.5 507.0L210.8 510.0L214.1 512.9L217.4 515.4L220.7 517.7L224.0 519.8L227.3 521.7L230.6 523.5L233.9 525.0L237.2 526.4L240.5 527.7L243.8 528.9L247.2 530.0L250.5 531.0L253.8 531.9L257.1 532.8L260.4 533.9L263.7 535.1L267.0 536.4L270.3 537.9L273.6 539.6L276.9 541.4L280.2 543.3L283.5 545.3L286.8 547.3L290.1 549.4L293.4 551.5L296.7 553.4L300.0 555.2L303.3 556.8L306.6 558.1L309.9 559.1L313.2 559.7L316.6 559.9L319.9 559.6L323.2 558.8L326.5 557.5L329.8 555.7L333.1 553.3L336.4 550.5L339.7 547.2L343.0 543.7L346.3 539.9L349.6 536.0L352.9 532.3L356.2 528.8L359.5 525.7L362.8 522.9L366.1 520.7L369.4 518.8L372.7 517.5L376.0 516.5L379.3 515.9L382.7 515.8L386.0 516.0L389.3 516.6L392.6 517.6L395.9 519.0L399.2 520.8L402.5 523.2L405.8 525.9L409.1 529.1L412.4 532.6L415.7 536.3L419.0 540.1L422.3 543.9L425.6 547.5L428.9 550.7L432.2 553.5L435.5 555.7L438.8 557.4L442.1 558.6L445.4 559.2L448.7 559.3L452.1 558.8L455.4 557.9L458.7 556.5L462.0 554.8L465.3 552.8L468.6 550.5L471.9 548.1L475.2 545.6L478.5 543.2L481.8 541.0L485.1 538.9L488.4 537.1L491.7 535.5L495.0 534.3L498.3 533.3L501.6 532.7L504.9 532.3L508.2 532.2L511.5 532.3L514.8 532.6L518.2 533.1L521.5 533.6L524.8 534.2L528.1 534.7L531.4 535.2L534.7 535.7" stroke="#929600"/>
<path d="M75.3 473.6L78.6 475.3L81.9 478.9L85.2 485.9L88.5 494.6L91.8 504.6L95.1 515.8L98.4 526.4L101.7 537.9L105.0 551.3L108.3 559.8L111.7 565.6L115.0 570.6L118.3 575.2L121.6 579.4L124.9 583.3L128.2 587.1L131.5 590.2L134.8 592.9L138.1 594.9L141.4 595.7L144.7 595.5L148.0 594.2L151.3 591.3L154.6 587.2L157.9 581.9L161.2 575.2L164.5 567.9L167.8 560.0L171.1 551.9L174.4 544.6L177.8 537.9L181.1 532.5L184.4 529.1L187.7 527.0L191.0 526.5L194.3 527.6L197.6 529.7L200.9 533.2L204.2 537.3L207.5 541.5L210.8 545.4L214.1 549.0L217.4 552.0L220.7 554.0L224.0 555.2L227.3 555.4L230.6 554.7L233.9 553.1L237.2 550.6L240.5 547.5L243.8 543.9L247.2 540.1L250.5 536.2L253.8 532.3L257.1 528.9L260.4 526.1L263.7 524.0L267.0 522.5L270.3 521.8L273.6 521.8L276.9 522.5L280.2 523.8L283.5 525.8L286.8 528.5L290.1 531.8L293.4 535.7L296.7 540.1L300.0 544.7L303.3 549.3L306.6 553.6L309.9 557.6L313.2 560.9L316.6 563.6L319.9 565.5L323.2 566.8L326.5 567.4L329.8 567.3L333.1 566.7L336.4 565.6L339.7 564.0L343.0 562.1L346.3 559.9L349.6 557.5L352.9 555.2L356.2 553.0L359.5 551.1L362.8 549.5L366.1 548.3L369.4 547.5L372.7 547.2L376.0 547.3L379.3 547.7L382.7 548.4L386.0 549.3L389.3 550.4L392.6 551.4L395.9 552.4L399.2 553.1L402.5 553.7L405.8 553.9L409.1 553.7L412.4 553.2L415.7 552.2L419.0 550.9L422.3 549.2L425.6 547.2L428.9 545.0L432.2 542.7L435.5 540.4L438.8 538.1L442.1 536.0L445.4 534.1L448.7 532.5L452.1 531.2L455.4 530.2L458.7 529.6L462.0 529.4L465.3 529.5L468.6 529.9L471.9 530.5L475.2 531.5L478.5 532.6L481.8 533.9L485.1 535.3L488.4 536.8L491.7 538.2L495.0 539.7L498.3 541.0L501.6 542.2L504.9 543.3L508.2 544.2L511.5 544.9L514.8 545.6L518.2 546.0L521.5 546.4L524.8 546.7L528.1 547.0L531.4 547.2L534.7 547.4" stroke="#e95536"/>
<path d="M75.3 473.6L78.6 475.3L81.9 478.9L85.2 485.9L88.5 494.6L91.8 504.6L95.1 515.8L98.4 526.5L101.7 538.6L105.0 552.8L108.3 562.4L111.7 569.2L115.0 575.4L118.3 581.4L121.6 586.6L124.9 591.4L128.2 596.1L131.5 599.8L134.8 602.9L138.1 605.3L141.4 606.7L144.7 607.4L148.0 607.5L151.3 606.6L154.6 605.2L157.9 603.0L161.2 599.6L164.5 595.8L167.8 591.4L171.1 586.2L174.4 580.6L177.8 574.5L181.1 568.6L184.4 563.5L187.7 558.3L191.0 553.3L194.3 549.0L197.6 545.5L200.9 543.2L204.2 541.7L207.5 540.4L210.8 539.6L214.1 539.3L217.4 539.6L220.7 540.1L224.0 540.9L227.3 541.9L230.6 543.2L233.9 544.6L237.2 546.0L240.5 547.7L243.8 549.4L247.2 551.1L250.5 552.5L253.8 553.6L257.1 554.4L260.4 555.1L263.7 555.5L267.0 555.8L270.3 555.8L273.6 555.5L276.9 555.1L280.2 554.5L283.5 553.4L286.8 552.1L290.1 550.5L293.4 548.6L296.7 546.7L300.0 544.7L303.3 542.8L306.6 541.0L309.9 539.3L313.2 537.9L316.6 536.8L319.9 535.9L323.2 535.3L326.5 534.9L329.8 534.9L333.1 535.1L336.4 535.5L339.7 536.1L343.0 536.9L346.3 537.8L349.6 538.8L352.9 539.8L356.2 540.8L359.5 541.8L362.8 542.7L366.1 543.4L369.4 544.0L372.7 544.5L376.0 544.7L379.3 544.8L382.7 544.7L386.0 544.4L389.3 544.0L392.6 543.5L395.9 542.9L399.2 542.2L402.5 541.5L405.8 540.9L409.1 540.3L412.4 539.7L415.7 539.3L419.0 539.0L422.3 538.7L425.6 538.6L428.9 538.6L432.2 538.7L435.5 538.9L438.8 539.2L442.1 539.5L445.4 540.0L448.7 540.4L452.1 540.9L455.4 541.4L458.7 541.9L462.0 542.4L465.3 542.9L468.6 543.4L471.9 543.9L475.2 544.4L478.5 544.9L481.8 545.5L485.1 546.0L488.4 546.7L491.7 547.3L495.0 548.0L498.3 548.6L501.6 549.3L504.9 550.0L508.2 550.6L511.5 551.1L514.8 551.6L518.2 551.9L521.5 552.1L524.8 552.0L528.1 551.8L531.4 551.4L534.7 550.7" stroke="#6685d9"/>
<path d="M75.3 473.6L78.6 475.3L81.9 478.9L85.2 485.9L88.5 494.6L91.8 504.6L95.1 515.8L98.4 526.4L101.7 538.0L105.0 551.4L108.3 560.1L111.7 566.0L115.0 571.0L118.3 575.7L121.6 580.0L124.9 583.7L128.2 587.0L131.5 589.3L134.8 591.2L138.1 592.5L141.4 592.9L144.7 592.8L148.0 592.3L151.3 590.7L154.6 588.6L157.9 585.9L161.2 582.1L164.5 577.9L167.8 572.9L171.1 567.3L174.4 561.7L177.8 555.7L181.1 549.8L184.4 544.5L187.7 539.3L191.0 534.5L194.3 530.4L197.6 526.9L200.9 524.7L204.2 523.2L207.5 522.1L210.8 521.4L214.1 521.1L217.4 521.1L220.7 521.3L224.0 521.7L227.3 522.3L230.6 523.1L233.9 524.0L237.2 525.1L240.5 526.4L243.8 527.9L247.2 529.5L250.5 531.1L253.8 532.5L257.1 533.9L260.4 535.3L263.7 536.6L267.0 537.7L270.3 538.7L273.6 539.5L276.9 540.0L280.2 540.3L283.5 540.2L286.8 539.8L290.1 539.0L293.4 538.1L296.7 536.9L300.0 535.6L303.3 534.3L306.6 532.9L309.9 531.7L313.2 530.5L316.6 529.5L319.9 528.7L323.2 528.1L326.5 527.6L329.8 527.5L333.1 527.5L336.4 527.8L339.7 528.4L343.0 529.1L346.3 530.1L349.6 531.2L352.9 532.5L356.2 533.9L359.5 535.3L362.8 536.8L366.1 538.2L369.4 539.5L372.7 540.6L376.0 541.4L379.3 542.0L382.7 542.3L386.0 542.2L389.3 541.7L392.6 541.0L395.9 539.8L399.2 538.5L402.5 536.8L405.8 535.0L409.1 533.1L412.4 531.2L415.7 529.3L419.0 527.5L422.3 525.9L425.6 524.5L428.9 523.3L432.2 522.5L435.5 521.9L438.8 521.6L442.1 521.6L445.4 521.9L448.7 522.6L452.1 523.6L455.4 524.9L458.7 526.5L462.0 528.5L465.3 530.7L468.6 533.1L471.9 535.6L475.2 538.2L478.5 540.8L481.8 543.2L485.1 545.3L488.4 547.1L491.7 548.5L495.0 549.4L498.3 549.8L501.6 549.7L504.9 549.1L508.2 548.0L511.5 546.5L514.8 544.5L518.2 542.2L521.5 539.7L524.8 536.9L528.1 534.2L531.4 531.5L534.7 529.0" stroke="#f89f13"/>
<path d="M75.3 473.6L78.6 475.3L81.9 478.9L85.2 485.9L88.5 494.6L91.8 504.6L95.1 515.8L98.4 526.4L101.7 538.0L105.0 551.6L108.3 560.3L111.7 566.3L115.0 571.4L118.3 576.3L121.6 580.7L124.9 584.7L128.2 588.4L131.5 591.4L134.8 594.1L138.1 596.2L141.4 597.3L144.7 597.7L148.0 597.6L151.3 596.3L154.6 594.3L157.9 591.4L161.2 587.3L164.5 582.7L167.8 577.4L171.1 571.4L174.4 565.5L177.8 559.3L181.1 553.5L184.4 548.6L187.7 544.0L191.0 540.0L194.3 536.9L197.6 534.6L200.9 533.5L204.2 533.3L207.5 533.4L210.8 533.8L214.1 534.6L217.4 535.8L220.7 537.0L224.0 538.5L227.3 540.1L230.6 541.7L233.9 543.4L237.2 545.0L240.5 546.8L243.8 548.5L247.2 550.1L250.5 551.5L253.8 552.5L257.1 553.3L260.4 554.1L263.7 554.7L267.0 555.1L270.3 555.5L273.6 555.7L276.9 555.7L280.2 555.6L283.5 555.3L286.8 554.8L290.1 554.1L293.4 553.2L296.7 552.3L300.0 551.3L303.3 550.3L306.6 549.2L309.9 548.3L313.2 547.4L316.6 546.5L319.9 545.8L323.2 545.1L326.5 544.6L329.8 544.1L333.1 543.8L336.4 543.6L339.7 543.5L343.0 543.5L346.3 543.6L349.6 543.8L352.9 544.0L356.2 544.3L359.5 544.6L362.8 545.0L366.1 545.4L369.4 545.8L372.7 546.2L376.0 546.6L379.3 546.9L382.7 547.2L386.0 547.4L389.3 547.5L392.6 547.7L395.9 547.7L399.2 547.7L402.5 547.7L405.8 547.6L409.1 547.5L412.4 547.4L415.7 547.3L419.0 547.2L422.3 547.2L425.6 547.1L428.9 547.2L432.2 547.2L435.5 547.4L438.8 547.6L442.1 547.8L445.4 548.1L448.7 548.5L452.1 548.9L455.4 549.3L458.7 549.8L462.0 550.3L465.3 550.7L468.6 551.1L471.9 551.5L475.2 551.8L478.5 552.1L481.8 552.3L485.1 552.3L488.4 552.3L491.7 552.1L495.0 551.9L498.3 551.5L501.6 551.0L504.9 550.4L508.2 549.7L511.5 549.0L514.8 548.2L518.2 547.3L521.5 546.4L524.8 545.6L528.1 544.7L531.4 544.0L534.7 543.2" stroke="#bc5b80"/>
<path d="M75.3 473.6L78.6 475.3L81.9 478.9L85.2 485.9L88.5 494.6L91.8 504.6L95.1 515.8L98.4 526.3L101.7 537.1L105.0 549.6L108.3 556.9L111.7 561.5L115.0 565.1L118.3 568.1L121.6 571.1L124.9 573.6L128.2 575.3L131.5 576.0L134.8 576.4L138.1 576.2L141.4 574.9L144.7 573.1L148.0 570.6L151.3 566.8L154.6 562.5L157.9 557.6L161.2 552.0L164.5 546.3L167.8 540.2L171.1 534.3L174.4 529.5L177.8 525.4L181.1 522.3L184.4 520.5L187.7 519.6L191.0 519.6L194.3 520.4L197.6 521.6L200.9 523.4L204.2 525.7L207.5 528.0L210.8 530.2L214.1 532.3L217.4 534.2L220.7 535.8L224.0 537.4L227.3 538.8L230.6 540.1L233.9 541.2L237.2 542.1L240.5 543.0L243.8 543.9L247.2 544.7L250.5 545.4L253.8 545.9L257.1 546.3L260.4 546.9L263.7 547.5L267.0 548.1L270.3 548.7L273.6 549.4L276.9 550.0L280.2 550.6L283.5 551.2L286.8 551.7L290.1 552.2L293.4 552.7L296.7 553.1L300.0 553.5L303.3 553.9L306.6 554.2L309.9 554.4L313.2 554.6L316.6 554.6L319.9 554.6L323.2 554.4L326.5 554.1L329.8 553.7L333.1 553.1L336.4 552.4L339.7 551.6L343.0 550.6L346.3 549.6L349.6 548.4L352.9 547.1L356.2 545.9L359.5 544.6L362.8 543.3L366.1 542.1L369.4 540.9L372.7 539.9L376.0 538.9L379.3 538.1L382.7 537.3L386.0 536.7L389.3 536.3L392.6 536.0L395.9 535.9L399.2 535.9L402.5 536.0L405.8 536.3L409.1 536.7L412.4 537.3L415.7 537.9L419.0 538.6L422.3 539.5L425.6 540.3L428.9 541.3L432.2 542.2L435.5 543.1L438.8 544.0L442.1 544.9L445.4 545.7L448.7 546.4L452.1 547.0L455.4 547.5L458.7 548.0L462.0 548.2L465.3 548.4L468.6 548.5L471.9 548.4L475.2 548.3L478.5 548.0L481.8 547.7L485.1 547.3L488.4 546.9L491.7 546.4L495.0 546.0L498.3 545.6L501.6 545.2L504.9 544.9L508.2 544.6L511.5 544.5L514.8 544.4L518.2 544.5L521.5 544.7L524.8 545.1L528.1 545.5L531.4 546.2L534.7 546.9" stroke="#47b66d"/>
<path d="M75.3 473.6L78.6 475.3L81.9 478.9L85.2 485.9L88.5 494.6L91.8 504.6L95.1 515.8L98.4 526.4L101.7 537.7L105.0 551.0L108.3 559.3L111.7 564.9L115.0 569.5L118.3 573.8L121.6 577.8L124.9 581.5L128.2 584.9L131.5 587.5L134.8 589.5L138.1 590.6L141.4 590.2L144.7 588.5L148.0 585.5L151.3 580.7L154.6 574.8L157.9 567.7L161.2 559.5L164.5 551.0L167.8 542.3L171.1 533.8L174.4 526.8L177.8 521.0L181.1 517.1L184.4 515.6L187.7 515.7L191.0 517.6L194.3 521.0L197.6 525.4L200.9 531.0L204.2 537.4L207.5 543.5L210.8 549.4L214.1 554.7L217.4 559.1L220.7 562.3L224.0 564.5L227.3 565.6L230.6 565.8L233.9 565.1L237.2 563.5L240.5 561.2L243.8 558.3L247.2 554.9L250.5 551.1L253.8 547.1L257.1 543.3L260.4 539.9L263.7 537.0L267.0 534.9L270.3 533.5L273.6 532.9L276.9 533.0L280.2 533.8L283.5 535.2L286.8 537.1L290.1 539.5L293.4 542.3L296.7 545.2L300.0 548.2L303.3 551.0L306.6 553.4L309.9 555.3L313.2 556.6L316.6 557.1L319.9 556.7L323.2 555.6L326.5 553.5L329.8 550.6L333.1 547.0L336.4 542.8L339.7 538.2L343.0 533.6L346.3 529.2L349.6 525.3L352.9 522.0L356.2 519.4L359.5 517.5L362.8 516.3L366.1 515.8L369.4 516.0L372.7 516.9L376.0 518.7L379.3 521.5L382.7 525.4L386.0 530.5L389.3 536.9L392.6 544.4L395.9 552.3L399.2 560.2L402.5 567.3L405.8 573.2L409.1 577.9L412.4 581.3L415.7 583.6L419.0 585.0L422.3 585.5L425.6 585.3L428.9 584.2L432.2 582.3L435.5 579.1L438.8 574.6L442.1 568.4L445.4 560.5L448.7 551.4L452.1 541.8L455.4 532.7L458.7 525.0L462.0 518.9L465.3 514.4L468.6 511.3L471.9 509.2L475.2 508.0L478.5 507.4L481.8 507.3L485.1 507.8L488.4 508.9L491.7 510.7L495.0 513.4L498.3 517.3L501.6 522.6L504.9 529.4L508.2 537.4L511.5 546.0L514.8 554.4L518.2 562.0L521.5 568.2L524.8 573.0L528.1 576.3L531.4 578.5L534.7 579.6" stroke="#5e81b5"/>
<path d="M75.3 473.6L78.6 475.3L81.9 478.9L85.2 485.9L88.5 494.6L91.8 504.6L95.1 515.8L98.4 526.4L101.7 538.2L105.0 551.9L108.3 560.9L111.7 567.1L115.0 572.5L118.3 577.6L121.6 582.2L124.9 586.2L128.2 589.7L131.5 591.9L134.8 593.2L138.1 593.5L141.4 592.7L144.7 591.4L148.0 589.8L151.3 587.8L154.6 586.1L157.9 584.7L161.2 583.4L164.5 582.9L167.8 582.8L171.1 582.8L174.4 583.3L177.8 583.6L181.1 583.7L184.4 583.8L187.7 582.6L191.0 580.5L194.3 577.2L197.6 572.7L200.9 567.4L204.2 560.8L207.5 552.8L210.8 544.1L214.1 535.4L217.4 527.4L220.7 520.6L224.0 515.4L227.3 511.9L230.6 509.5L233.9 508.0L237.2 507.1L240.5 506.7L243.8 506.9L247.2 507.7L250.5 509.0L253.8 511.2L257.1 514.3L260.4 518.7L263.7 524.7L267.0 532.0L270.3 540.4L273.6 549.0L276.9 557.0L280.2 563.6L283.5 568.6L286.8 572.0L290.1 573.9L293.4 574.5L296.7 573.8L300.0 571.7L303.3 568.4L306.6 563.7L309.9 557.8L313.2 550.9L316.6 543.4L319.9 536.0L323.2 529.3L326.5 523.5L329.8 518.8L333.1 515.2L336.4 512.6L339.7 511.1L343.0 510.7L346.3 511.5L349.6 513.5L352.9 517.0L356.2 521.9L359.5 528.2L362.8 535.5L366.1 543.3L369.4 550.8L372.7 557.6L376.0 563.2L379.3 567.3L382.7 569.9L386.0 571.1L389.3 570.9L392.6 569.1L395.9 565.6L399.2 560.5L402.5 553.6L405.8 545.5L409.1 536.8L412.4 528.5L415.7 521.3L419.0 515.6L422.3 511.5L425.6 508.6L428.9 506.8L432.2 505.7L435.5 505.1L438.8 505.0L442.1 505.4L445.4 506.3L448.7 507.9L452.1 510.6L455.4 514.6L458.7 520.5L462.0 528.4L465.3 538.2L468.6 548.9L471.9 559.2L475.2 567.9L478.5 574.6L481.8 579.3L485.1 582.3L488.4 584.0L491.7 584.6L495.0 584.2L498.3 582.8L501.6 580.1L504.9 576.1L508.2 570.5L511.5 563.2L514.8 554.6L518.2 545.4L521.5 536.7L524.8 529.2L528.1 523.2L531.4 518.9L534.7 515.9" stroke="#e19c24"/>
<path d="M75.3 473.6L78.6 475.3L81.9 478.9L85.2 485.9L88.5 494.6L91.8 504.6L95.1 515.8L98.4 526.4L101.7 537.9L105.0 551.3L108.3 559.8L111.7 565.6L115.0 570.5L118.3 575.0L121.6 579.2L124.9 583.0L128.2 586.4L131.5 589.0L134.8 591.3L138.1 593.2L141.4 594.2L144.7 594.6L148.0 594.5L151.3 593.4L154.6 591.6L157.9 589.1L161.2 585.6L164.5 581.6L167.8 576.9L171.1 571.7L174.4 566.6L177.8 561.5L181.1 556.8L184.4 553.0L187.7 549.4L191.0 546.5L194.3 544.4L197.6 542.9L200.9 542.4L204.2 542.7L207.5 543.2L210.8 544.0L214.1 545.2L217.4 546.6L220.7 548.0L224.0 549.6L227.3 551.3L230.6 552.9L233.9 554.5L237.2 556.0L240.5 557.5L243.8 559.0L247.2 560.2L250.5 561.2L253.8 561.8L257.1 562.3L260.4 562.5L263.7 562.7L267.0 562.6L270.3 562.4L273.6 562.0L276.9 561.4L280.2 560.7L283.5 559.7L286.8 558.5L290.1 557.1L293.4 555.6L296.7 554.0L300.0 552.4L303.3 550.8L306.6 549.2L309.9 547.8L313.2 546.5L316.6 545.5L319.9 544.6L323.2 543.9L326.5 543.5L329.8 543.4L333.1 543.5L336.4 543.9L339.7 544.5L343.0 545.3L346.3 546.3L349.6 547.4L352.9 548.7L356.2 550.1L359.5 551.5L362.8 552.9L366.1 554.3L369.4 555.6L372.7 556.7L376.0 557.7L379.3 558.4L382.7 558.8L386.0 559.0L389.3 558.9L392.6 558.5L395.9 557.8L399.2 556.8L402.5 555.5L405.8 554.0L409.1 552.2L412.4 550.3L415.7 548.2L419.0 546.1L422.3 543.9L425.6 541.8L428.9 539.9L432.2 538.1L435.5 536.5L438.8 535.1L442.1 534.0L445.4 533.2L448.7 532.7L452.1 532.5L455.4 532.6L458.7 533.0L462.0 533.7L465.3 534.6L468.6 535.8L471.9 537.3L475.2 538.9L478.5 540.7L481.8 542.6L485.1 544.6L488.4 546.6L491.7 548.6L495.0 550.5L498.3 552.2L501.6 553.9L504.9 555.3L508.2 556.6L511.5 557.7L514.8 558.5L518.2 559.2L521.5 559.7L524.8 560.0L528.1 560.2L531.4 560.3L534.7 560.2" stroke="#8fb032"/>
<path d="M75.3 473.6L78.6 475.3L81.9 478.9L85.2 485.9L88.5 494.6L91.8 504.6L95.1 515.8L98.4 526.4L101.7 537.9L105.0 551.2L108.3 559.7L111.7 565.5L115.0 570.3L118.3 574.8L121.6 579.0L124.9 582.7L128.2 586.1L131.5 588.5L134.8 590.3L138.1 591.5L141.4 591.5L144.7 590.7L148.0 589.2L151.3 586.6L154.6 583.4L157.9 579.7L161.2 575.1L164.5 570.5L167.8 565.8L171.1 561.1L174.4 557.1L177.8 553.7L181.1 551.3L184.4 550.1L187.7 549.7L191.0 550.0L194.3 551.2L197.6 552.9L200.9 555.3L204.2 557.9L207.5 560.1L210.8 562.1L214.1 563.9L217.4 565.3L220.7 566.1L224.0 566.5L227.3 566.6L230.6 566.2L233.9 565.3L237.2 564.0L240.5 562.4L243.8 560.5L247.2 558.3L250.5 555.7L253.8 552.8L257.1 549.8L260.4 546.9L263.7 544.1L267.0 541.6L270.3 539.4L273.6 537.5L276.9 536.0L280.2 534.8L283.5 533.8L286.8 533.2L290.1 532.9L293.4 532.9L296.7 533.2L300.0 533.8L303.3 534.7L306.6 535.9L309.9 537.3L313.2 538.9L316.6 540.7L319.9 542.6L323.2 544.6L326.5 546.5L329.8 548.5L333.1 550.4L336.4 552.2L339.7 553.8L343.0 555.3L346.3 556.6L349.6 557.7L352.9 558.6L356.2 559.4L359.5 560.0L362.8 560.5L366.1 561.0L369.4 561.4L372.7 561.8L376.0 562.2L379.3 562.8L382.7 563.6L386.0 564.7L389.3 566.0L392.6 567.7L395.9 569.8L399.2 572.2L402.5 574.8L405.8 577.5L409.1 580.0L412.4 582.3L415.7 584.1L419.0 585.1L422.3 585.2L425.6 584.5L428.9 582.7L432.2 580.1L435.5 576.8L438.8 573.0L442.1 568.9L445.4 564.8L448.7 560.9L452.1 557.3L455.4 554.2L458.7 551.7L462.0 549.7L465.3 548.3L468.6 547.4L471.9 547.0L475.2 547.0L478.5 547.3L481.8 548.0L485.1 548.9L488.4 549.9L491.7 551.1L495.0 552.3L498.3 553.5L501.6 554.8L504.9 555.9L508.2 556.9L511.5 557.8L514.8 558.5L518.2 559.0L521.5 559.2L524.8 559.2L528.1 558.9L531.4 558.4L534.7 557.5" stroke="#eb6235"/>
<path d="M75.3 473.6L78.6 475.3L81.9 478.9L85.2 485.9L88.5 494.6L91.8 504.6L95.1 515.8L98.4 526.4L101.7 537.7L105.0 550.9L108.3 559.2L111.7 564.7L115.0 569.4L118.3 573.6L121.6 577.6L124.9 581.0L128.2 584.0L131.5 585.9L134.8 587.4L138.1 588.1L141.4 587.8L144.7 586.8L148.0 585.4L151.3 583.2L154.6 580.7L157.9 578.1L161.2 575.1L164.5 572.5L167.8 570.0L171.1 568.0L174.4 566.9L177.8 566.4L181.1 566.6L184.4 567.8L187.7 569.1L191.0 570.5L194.3 571.8L197.6 572.6L200.9 573.3L204.2 573.4L207.5 572.7L210.8 571.4L214.1 569.7L217.4 567.5L220.7 564.7L224.0 561.5L227.3 558.0L230.6 554.4L233.9 550.7L237.2 547.2L240.5 544.0L243.8 541.4L247.2 539.3L250.5 537.6L253.8 536.2L257.1 535.2L260.4 534.5L263.7 534.0L267.0 533.3L270.3 532.3L273.6 530.6L276.9 528.2L280.2 524.8L283.5 520.6L286.8 515.8L290.1 510.8L293.4 506.4L296.7 503.3L300.0 502.0L303.3 502.9L306.6 506.3L309.9 511.9L313.2 519.4L316.6 527.9L319.9 536.9L323.2 545.7L326.5 553.5L329.8 560.2L333.1 565.5L336.4 569.3L339.7 571.8L343.0 573.2L346.3 573.5L349.6 573.1L352.9 571.9L356.2 570.2L359.5 568.0L362.8 565.3L366.1 562.3L369.4 558.9L372.7 555.3L376.0 551.6L379.3 547.8L382.7 544.3L386.0 541.0L389.3 538.0L392.6 535.6L395.9 533.7L399.2 532.5L402.5 531.8L405.8 531.9L409.1 532.6L412.4 534.0L415.7 536.2L419.0 539.1L422.3 542.7L425.6 546.9L428.9 551.6L432.2 556.5L435.5 561.4L438.8 566.0L442.1 570.1L445.4 573.6L448.7 576.4L452.1 578.6L455.4 580.2L458.7 581.2L462.0 581.7L465.3 581.6L468.6 581.0L471.9 579.8L475.2 578.1L478.5 575.8L481.8 572.9L485.1 569.5L488.4 565.5L491.7 561.3L495.0 556.9L498.3 552.6L501.6 548.6L504.9 545.1L508.2 542.2L511.5 540.0L514.8 538.6L518.2 537.8L521.5 537.7L524.8 538.3L528.1 539.5L531.4 541.3L534.7 543.5" stroke="#8778b3"/>
<path d="M75.3 473.6L78.6 475.3L81.9 478.9L85.2 485.9L88.5 494.6L91.8 504.6L95.1 515.8L98.4 526.4L101.7 538.0L105.0 551.6L108.3 560.3L111.7 566.3L115.0 571.5L118.3 576.3L121.6 580.8L124.9 584.7L128.2 588.3L131.5 591.2L134.8 593.7L138.1 595.9L141.4 597.2L144.7 598.0L148.0 598.6L151.3 598.2L154.6 597.5L157.9 596.2L161.2 593.9L164.5 591.3L167.8 588.2L171.1 584.4L174.4 580.6L177.8 576.5L181.1 572.6L184.4 569.4L187.7 565.9L191.0 562.7L194.3 559.8L197.6 557.1L200.9 555.1L204.2 553.4L207.5 551.5L210.8 549.8L214.1 548.3L217.4 546.9L220.7 545.5L224.0 544.1L227.3 542.8L230.6 541.6L233.9 540.4L237.2 539.3L240.5 538.5L243.8 537.8L247.2 537.3L250.5 536.8L253.8 536.3L257.1 536.0L260.4 535.9L263.7 536.1L267.0 536.5L270.3 537.2L273.6 538.1L276.9 539.3L280.2 540.7L283.5 542.2L286.8 543.7L290.1 545.3L293.4 547.0L296.7 548.7L300.0 550.5L303.3 552.2L306.6 554.0L309.9 555.7L313.2 557.3L316.6 558.8L319.9 560.2L323.2 561.4L326.5 562.5L329.8 563.3L333.1 564.0L336.4 564.5L339.7 564.8L343.0 564.9L346.3 564.8L349.6 564.4L352.9 563.9L356.2 563.2L359.5 562.3L362.8 561.2L366.1 560.0L369.4 558.6L372.7 557.2L376.0 555.6L379.3 553.9L382.7 552.2L386.0 550.5L389.3 548.7L392.6 547.0L395.9 545.3L399.2 543.8L402.5 542.3L405.8 540.9L409.1 539.7L412.4 538.7L415.7 537.8L419.0 537.1L422.3 536.6L425.6 536.2L428.9 536.1L432.2 536.2L435.5 536.5L438.8 537.0L442.1 537.7L445.4 538.6L448.7 539.6L452.1 540.9L455.4 542.4L458.7 543.9L462.0 545.7L465.3 547.5L468.6 549.4L471.9 551.3L475.2 553.3L478.5 555.2L481.8 557.1L485.1 558.8L488.4 560.5L491.7 562.0L495.0 563.3L498.3 564.5L501.6 565.5L504.9 566.2L508.2 566.7L511.5 567.0L514.8 567.1L518.2 566.9L521.5 566.5L524.8 565.9L528.1 565.0L531.4 563.9L534.7 562.5" stroke="#c56e1a"/>
<path d="M75.3 473.6L78.6 475.3L81.9 478.9L85.2 485.9L88.5 494.6L91.8 504.6L95.1 515.8L98.4 526.3L101.7 537.3L105.0 550.0L108.3 557.6L111.7 562.5L115.0 566.4L118.3 569.7L121.6 573.0L124.9 575.7L128.2 577.3L131.5 577.9L134.8 577.8L138.1 576.9L141.4 574.8L144.7 572.2L148.0 569.2L151.3 565.3L154.6 561.4L157.9 557.5L161.2 553.6L164.5 550.3L167.8 547.5L171.1 545.4L174.4 544.9L177.8 545.3L181.1 546.7L184.4 549.2L187.7 552.0L191.0 555.1L194.3 558.1L197.6 560.4L200.9 562.3L204.2 563.4L207.5 563.3L210.8 562.4L214.1 560.6L217.4 557.9L220.7 554.3L224.0 550.1L227.3 545.5L230.6 540.8L233.9 536.0L237.2 531.6L240.5 527.9L243.8 524.7L247.2 522.3L250.5 520.5L253.8 519.2L257.1 518.5L260.4 518.5L263.7 519.2L267.0 520.4L270.3 522.4L273.6 525.0L276.9 528.3L280.2 532.2L283.5 536.7L286.8 541.4L290.1 546.3L293.4 551.0L296.7 555.3L300.0 559.0L303.3 562.0L306.6 564.3L309.9 565.9L313.2 566.7L316.6 566.7L319.9 565.9L323.2 564.5L326.5 562.3L329.8 559.5L333.1 556.1L336.4 552.2L339.7 548.1L343.0 544.0L346.3 540.0L349.6 536.3L352.9 533.2L356.2 530.7L359.5 528.8L362.8 527.6L366.1 527.1L369.4 527.2L372.7 528.0L376.0 529.6L379.3 531.7L382.7 534.6L386.0 538.0L389.3 542.0L392.6 546.3L395.9 550.7L399.2 554.9L402.5 558.9L405.8 562.4L409.1 565.3L412.4 567.5L415.7 569.0L419.0 569.8L422.3 569.8L425.6 569.2L428.9 567.8L432.2 565.6L435.5 562.7L438.8 559.1L442.1 554.8L445.4 550.1L448.7 545.1L452.1 540.1L455.4 535.4L458.7 531.2L462.0 527.6L465.3 524.6L468.6 522.3L471.9 520.7L475.2 519.7L478.5 519.3L481.8 519.5L485.1 520.3L488.4 521.7L491.7 523.8L495.0 526.5L498.3 530.0L501.6 534.0L504.9 538.7L508.2 543.7L511.5 548.8L514.8 553.9L518.2 558.5L521.5 562.7L524.8 566.2L528.1 569.0L531.4 571.1L534.7 572.5" stroke="#5d9ec7"/>
<path d="M75.3 473.6L78.6 475.3L81.9 478.9L85.2 485.9L88.5 494.6L91.8 504.6L95.1 515.8L98.4 526.3L101.7 537.6L105.0 550.8L108.3 558.9L111.7 564.4L115.0 568.9L118.3 572.9L121.6 576.8L124.9 580.2L128.2 583.1L131.5 585.1L134.8 586.8L138.1 588.0L141.4 588.1L144.7 587.6L148.0 586.4L151.3 584.0L154.6 580.8L157.9 576.8L161.2 571.7L164.5 566.0L167.8 559.8L171.1 553.1L174.4 546.9L177.8 540.8L181.1 535.4L184.4 531.2L187.7 527.6L191.0 524.9L194.3 523.2L197.6 522.0L200.9 521.6L204.2 521.4L207.5 520.7L210.8 519.6L214.1 518.0L217.4 516.1L220.7 513.9L224.0 512.0L227.3 510.9L230.6 511.0L233.9 512.6L237.2 515.7L240.5 520.4L243.8 526.2L247.2 532.6L250.5 538.9L253.8 544.6L257.1 549.3L260.4 552.9L263.7 555.4L267.0 556.8L270.3 557.1L273.6 556.7L276.9 555.7L280.2 554.2L283.5 552.4L286.8 550.4L290.1 548.3L293.4 546.3L296.7 544.4L300.0 542.6L303.3 541.2L306.6 540.0L309.9 539.2L313.2 538.6L316.6 538.3L319.9 538.3L323.2 538.6L326.5 539.0L329.8 539.6L333.1 540.4L336.4 541.3L339.7 542.1L343.0 543.0L346.3 543.8L349.6 544.5L352.9 545.0L356.2 545.4L359.5 545.6L362.8 545.6L366.1 545.4L369.4 545.0L372.7 544.5L376.0 543.7L379.3 542.9L382.7 542.0L386.0 541.1L389.3 540.2L392.6 539.3L395.9 538.6L399.2 538.0L402.5 537.6L405.8 537.4L409.1 537.4L412.4 537.8L415.7 538.4L419.0 539.3L422.3 540.5L425.6 541.9L428.9 543.6L432.2 545.5L435.5 547.5L438.8 549.7L442.1 551.8L445.4 553.9L448.7 556.0L452.1 557.8L455.4 559.4L458.7 560.8L462.0 561.8L465.3 562.6L468.6 563.0L471.9 563.1L475.2 562.8L478.5 562.2L481.8 561.2L485.1 560.0L488.4 558.5L491.7 556.8L495.0 554.9L498.3 552.9L501.6 550.8L504.9 548.7L508.2 546.7L511.5 544.8L514.8 543.1L518.2 541.7L521.5 540.5L524.8 539.6L528.1 538.9L531.4 538.5L534.7 538.4" stroke="#ffbf00"/>
<path d="M75.3 473.6L78.6 475.3L81.9 478.9L85.2 485.9L88.5 494.6L91.8 504.6L95.1 515.8L98.4 526.3L101.7 537.4L105.0 550.3L108.3 558.1L111.7 563.2L115.0 567.3L118.3 570.9L121.6 574.5L124.9 577.4L128.2 579.6L131.5 580.9L134.8 581.6L138.1 581.6L141.4 580.4L144.7 578.7L148.0 576.3L151.3 572.8L154.6 568.9L157.9 564.7L161.2 559.9L164.5 555.3L167.8 550.7L171.1 546.4L174.4 543.4L177.8 541.0L181.1 539.7L184.4 539.6L187.7 540.1L191.0 541.3L194.3 543.0L197.6 544.6L200.9 546.7L204.2 548.6L207.5 549.9L210.8 550.6L214.1 550.9L217.4 550.5L220.7 549.4L224.0 547.8L227.3 545.8L230.6 543.4L233.9 540.6L237.2 537.7L240.5 534.8L243.8 532.1L247.2 529.6L250.5 527.3L253.8 525.2L257.1 523.5L260.4 522.3L263.7 521.5L267.0 521.1L270.3 521.1L273.6 521.6L276.9 522.4L280.2 523.6L283.5 525.1L286.8 527.1L290.1 529.3L293.4 531.9L296.7 534.7L300.0 537.7L303.3 540.8L306.6 543.9L309.9 546.9L313.2 549.6L316.6 552.1L319.9 554.1L323.2 555.8L326.5 556.9L329.8 557.6L333.1 557.8L336.4 557.5L339.7 556.8L343.0 555.6L346.3 554.0L349.6 552.0L352.9 549.6L356.2 547.1L359.5 544.3L362.8 541.5L366.1 538.7L369.4 536.0L372.7 533.5L376.0 531.2L379.3 529.2L382.7 527.4L386.0 526.0L389.3 524.9L392.6 524.2L395.9 523.8L399.2 523.7L402.5 524.0L405.8 524.6L409.1 525.6L412.4 526.9L415.7 528.7L419.0 530.8L422.3 533.3L425.6 536.1L428.9 539.3L432.2 542.7L435.5 546.2L438.8 549.7L442.1 553.1L445.4 556.4L448.7 559.3L452.1 561.9L455.4 564.1L458.7 565.8L462.0 567.0L465.3 567.7L468.6 567.9L471.9 567.5L475.2 566.7L478.5 565.3L481.8 563.3L485.1 560.8L488.4 557.7L491.7 554.2L495.0 550.3L498.3 546.2L501.6 541.9L504.9 537.7L508.2 533.8L511.5 530.2L514.8 527.0L518.2 524.4L521.5 522.2L524.8 520.6L528.1 519.4L531.4 518.7L534.7 518.5" stroke="#a5609d"/>
<path d="M75.3 473.6L78.6 475.3L81.9 478.9L85.2 485.9L88.5 494.6L91.8 504.6L95.1 515.8L98.4 526.2L101.7 536.7L105.0 548.7L108.3 555.3L111.7 559.3L115.0 562.2L118.3 564.2L121.6 566.7L124.9 568.6L128.2 569.4L131.5 569.3L134.8 569.0L138.1 568.2L141.4 566.5L144.7 564.3L148.0 561.6L151.3 557.7L154.6 553.3L157.9 548.8L161.2 543.8L164.5 539.0L167.8 534.1L171.1 529.9L174.4 527.3L177.8 526.0L181.1 525.7L184.4 526.8L187.7 528.8L191.0 531.8L194.3 535.3L197.6 538.8L200.9 542.6L204.2 546.5L207.5 549.8L210.8 552.7L214.1 555.0L217.4 556.5L220.7 557.2L224.0 557.3L227.3 557.0L230.6 556.1L233.9 554.7L237.2 552.8L240.5 550.6L243.8 548.2L247.2 545.5L250.5 542.7L253.8 539.7L257.1 536.9L260.4 534.4L263.7 532.1L267.0 530.2L270.3 528.6L273.6 527.3L276.9 526.3L280.2 525.6L283.5 525.4L286.8 525.5L290.1 526.0L293.4 527.0L296.7 528.4L300.0 530.2L303.3 532.5L306.6 535.2L309.9 538.4L313.2 541.9L316.6 545.6L319.9 549.5L323.2 553.4L326.5 557.2L329.8 560.8L333.1 564.0L336.4 566.9L339.7 569.4L343.0 571.4L346.3 573.0L349.6 574.2L352.9 574.9L356.2 575.3L359.5 575.3L362.8 575.0L366.1 574.3L369.4 573.3L372.7 571.9L376.0 570.2L379.3 568.2L382.7 565.8L386.0 563.2L389.3 560.4L392.6 557.4L395.9 554.3L399.2 551.3L402.5 548.3L405.8 545.5L409.1 543.0L412.4 540.7L415.7 538.8L419.0 537.2L422.3 535.9L425.6 535.0L428.9 534.5L432.2 534.2L435.5 534.3L438.8 534.7L442.1 535.4L445.4 536.3L448.7 537.5L452.1 538.9L455.4 540.5L458.7 542.2L462.0 544.0L465.3 545.9L468.6 547.8L471.9 549.6L475.2 551.4L478.5 553.1L481.8 554.6L485.1 556.0L488.4 557.2L491.7 558.3L495.0 559.1L498.3 559.8L501.6 560.3L504.9 560.6L508.2 560.8L511.5 560.9L514.8 560.8L518.2 560.7L521.5 560.4L524.8 560.1L528.1 559.7L531.4 559.3L534.7 558.9" stroke="#929600"/>
<path d="M75.3 473.6L78.6 475.3L81.9 478.9L85.2 485.9L88.5 494.6L91.8 504.6L95.1 515.8L98.4 526.3L101.7 537.0L105.0 549.5L108.3 556.7L111.7 561.3L115.0 564.7L118.3 567.6L121.6 570.6L124.9 573.1L128.2 575.0L131.5 576.3L134.8 577.5L138.1 578.5L141.4 578.6L144.7 578.2L148.0 577.3L151.3 575.0L154.6 572.0L157.9 568.1L161.2 563.0L164.5 557.2L167.8 550.5L171.1 543.2L174.4 536.4L177.8 529.8L181.1 523.5L184.4 518.2L187.7 513.6L191.0 510.1L194.3 507.6L197.6 506.0L200.9 505.5L204.2 506.0L207.5 506.8L210.8 507.9L214.1 509.2L217.4 510.5L220.7 511.8L224.0 513.2L227.3 514.6L230.6 516.1L233.9 517.7L237.2 519.4L240.5 521.2L243.8 523.3L247.2 525.4L250.5 527.4L253.8 529.2L257.1 530.8L260.4 532.3L263.7 533.6L267.0 534.6L270.3 535.2L273.6 535.5L276.9 535.4L280.2 534.9L283.5 534.1L286.8 533.1L290.1 532.0L293.4 530.7L296.7 529.4L300.0 528.1L303.3 527.0L306.6 526.0L309.9 525.2L313.2 524.6L316.6 524.3L319.9 524.1L323.2 524.3L326.5 524.6L329.8 525.3L333.1 526.1L336.4 527.2L339.7 528.5L343.0 530.0L346.3 531.7L349.6 533.4L352.9 535.2L356.2 537.1L359.5 539.0L362.8 540.7L366.1 542.4L369.4 544.0L372.7 545.3L376.0 546.5L379.3 547.5L382.7 548.4L386.0 549.0L389.3 549.5L392.6 549.8L395.9 550.1L399.2 550.3L402.5 550.4L405.8 550.5L409.1 550.6L412.4 550.8L415.7 551.0L419.0 551.3L422.3 551.6L425.6 552.0L428.9 552.4L432.2 552.8L435.5 553.2L438.8 553.6L442.1 553.9L445.4 554.0L448.7 554.0L452.1 553.8L455.4 553.4L458.7 552.7L462.0 551.8L465.3 550.5L468.6 549.0L471.9 547.2L475.2 545.2L478.5 542.9L481.8 540.5L485.1 538.0L488.4 535.4L491.7 532.9L495.0 530.5L498.3 528.3L501.6 526.3L504.9 524.6L508.2 523.1L511.5 521.9L514.8 521.0L518.2 520.4L521.5 520.0L524.8 519.9L528.1 520.0L531.4 520.4L534.7 521.0" stroke="#e95536"/>
<path d="M75.3 473.6L78.6 475.3L81.9 478.9L85.2 485.9L88.5 494.6L91.8 504.6L95.1 515.8L98.4 526.4L101.7 537.7L105.0 550.9L108.3 559.2L111.7 564.8L115.0 569.4L118.3 573.6L121.6 577.6L124.9 581.1L128.2 584.2L131.5 586.3L134.8 587.9L138.1 588.8L141.4 588.6L144.7 587.5L148.0 585.7L151.3 582.6L154.6 578.8L157.9 574.4L161.2 569.0L164.5 563.6L167.8 557.9L171.1 552.2L174.4 547.4L177.8 543.2L181.1 540.1L184.4 538.4L187.7 537.6L191.0 537.9L194.3 539.1L197.6 541.0L200.9 543.8L204.2 546.9L207.5 549.8L210.8 552.3L214.1 554.6L217.4 556.4L220.7 557.3L224.0 557.7L227.3 557.4L230.6 556.5L233.9 554.8L237.2 552.5L240.5 549.8L243.8 546.7L247.2 543.4L250.5 539.9L253.8 536.4L257.1 533.1L260.4 530.4L263.7 528.2L267.0 526.6L270.3 525.6L273.6 525.3L276.9 525.6L280.2 526.6L283.5 528.1L286.8 530.3L290.1 533.1L293.4 536.4L296.7 540.1L300.0 544.1L303.3 548.1L306.6 551.9L309.9 555.4L313.2 558.2L316.6 560.3L319.9 561.7L323.2 562.2L326.5 561.8L329.8 560.5L333.1 558.3L336.4 555.3L339.7 551.6L343.0 547.3L346.3 542.7L349.6 538.1L352.9 533.7L356.2 529.8L359.5 526.7L362.8 524.2L366.1 522.6L369.4 521.8L372.7 521.8L376.0 522.6L379.3 524.3L382.7 526.9L386.0 530.6L389.3 535.3L392.6 540.9L395.9 547.1L399.2 553.6L402.5 559.8L405.8 565.4L409.1 570.1L412.4 573.8L415.7 576.5L419.0 578.1L422.3 578.9L425.6 578.8L428.9 577.8L432.2 575.9L435.5 573.0L438.8 569.0L442.1 564.0L445.4 558.0L448.7 551.5L452.1 544.8L455.4 538.5L458.7 532.9L462.0 528.4L465.3 525.0L468.6 522.7L471.9 521.3L475.2 520.9L478.5 521.3L481.8 522.7L485.1 524.9L488.4 528.1L491.7 532.2L495.0 537.1L498.3 542.6L501.6 548.2L504.9 553.5L508.2 558.3L511.5 562.2L514.8 565.1L518.2 567.0L521.5 567.7L524.8 567.4L528.1 566.0L531.4 563.5L534.7 559.9" stroke="#6685d9"/>
<path d="M75.3 473.6L78.6 475.3L81.9 478.9L85.2 485.9L88.5 494.6L91.8 504.6L95.1 515.8L98.4 526.3L101.7 537.4L105.0 550.3L108.3 558.1L111.7 563.3L115.0 567.4L118.3 571.0L121.6 574.6L124.9 577.7L128.2 580.3L131.5 582.1L134.8 583.7L138.1 584.8L141.4 585.0L144.7 584.7L148.0 583.8L151.3 581.8L154.6 579.2L157.9 576.1L161.2 572.1L164.5 567.9L167.8 563.2L171.1 558.4L174.4 554.4L177.8 550.8L181.1 547.8L184.4 546.0L187.7 544.8L191.0 544.3L194.3 544.6L197.6 545.4L200.9 546.9L204.2 548.9L207.5 550.8L210.8 552.8L214.1 554.7L217.4 556.5L220.7 557.9L224.0 559.1L227.3 560.1L230.6 560.9L233.9 561.3L237.2 561.5L240.5 561.6L243.8 561.6L247.2 561.3L250.5 560.9L253.8 560.2L257.1 559.6L260.4 558.9L263.7 558.4L267.0 558.0L270.3 557.8L273.6 557.7L276.9 557.8L280.2 558.0L283.5 558.3L286.8 558.7L290.1 559.1L293.4 559.6L296.7 560.1L300.0 560.6L303.3 561.1L306.6 561.4L309.9 561.6L313.2 561.7L316.6 561.6L319.9 561.2L323.2 560.6L326.5 559.7L329.8 558.7L333.1 557.4L336.4 555.9L339.7 554.3L343.0 552.6L346.3 550.9L349.6 549.3L352.9 547.8L356.2 546.5L359.5 545.5L362.8 544.8L366.1 544.5L369.4 544.6L372.7 545.1L376.0 545.9L379.3 547.1L382.7 548.6L386.0 550.4L389.3 552.3L392.6 554.4L395.9 556.5L399.2 558.5L402.5 560.5L405.8 562.2L409.1 563.7L412.4 564.9L415.7 565.8L419.0 566.4L422.3 566.7L425.6 566.7L428.9 566.4L432.2 566.0L435.5 565.4L438.8 564.6L442.1 563.8L445.4 563.0L448.7 562.3L452.1 561.7L455.4 561.3L458.7 561.1L462.0 561.2L465.3 561.5L468.6 562.1L471.9 563.0L475.2 564.0L478.5 565.2L481.8 566.5L485.1 567.8L488.4 569.1L491.7 570.2L495.0 571.2L498.3 571.9L501.6 572.4L504.9 572.6L508.2 572.5L511.5 572.0L514.8 571.2L518.2 570.1L521.5 568.7L524.8 566.9L528.1 564.9L531.4 562.7L534.7 560.4" stroke="#f89f13"/>
<path d="M75.3 473.6L78.6 475.3L81.9 478.9L85.2 485.9L88.5 494.6L91.8 504.6L95.1 515.8L98.4 526.4L101.7 537.8L105.0 551.0L108.3 559.3L111.7 565.0L115.0 569.7L118.3 574.0L121.6 578.0L124.9 581.6L128.2 584.7L131.5 586.9L134.8 588.5L138.1 589.3L141.4 588.8L144.7 587.5L148.0 585.5L151.3 582.2L154.6 578.4L157.9 574.0L161.2 569.0L164.5 564.1L167.8 559.3L171.1 554.8L174.4 551.4L177.8 548.9L181.1 547.6L184.4 547.8L187.7 548.8L191.0 550.7L194.3 553.3L197.6 556.1L200.9 559.3L204.2 562.2L207.5 564.3L210.8 565.7L214.1 566.4L217.4 566.4L220.7 565.5L224.0 563.9L227.3 561.5L230.6 558.3L233.9 554.5L237.2 550.1L240.5 545.5L243.8 541.0L247.2 536.6L250.5 532.6L253.8 529.1L257.1 526.2L260.4 524.2L263.7 522.9L267.0 522.4L270.3 522.6L273.6 523.6L276.9 525.5L280.2 528.2L283.5 531.7L286.8 536.1L290.1 541.2L293.4 546.8L296.7 552.6L300.0 558.4L303.3 563.6L306.6 568.2L309.9 572.0L313.2 574.9L316.6 576.9L319.9 578.1L323.2 578.6L326.5 578.3L329.8 577.2L333.1 575.3L336.4 572.5L339.7 568.7L343.0 563.9L346.3 558.2L349.6 551.9L352.9 545.3L356.2 538.9L359.5 533.2L362.8 528.3L366.1 524.4L369.4 521.5L372.7 519.5L376.0 518.4L379.3 518.0L382.7 518.4L386.0 519.7L389.3 521.8L392.6 524.9L395.9 529.0L399.2 534.2L402.5 540.3L405.8 547.0L409.1 553.9L412.4 560.5L415.7 566.3L419.0 571.2L422.3 575.1L425.6 577.9L428.9 579.9L432.2 580.9L435.5 581.2L438.8 580.8L442.1 579.5L445.4 577.4L448.7 574.4L452.1 570.3L455.4 565.1L458.7 559.1L462.0 552.4L465.3 545.4L468.6 538.8L471.9 532.8L475.2 527.9L478.5 523.9L481.8 521.0L485.1 519.1L488.4 518.0L491.7 517.7L495.0 518.2L498.3 519.4L501.6 521.5L504.9 524.6L508.2 528.6L511.5 533.7L514.8 539.6L518.2 546.1L521.5 552.8L524.8 559.1L528.1 564.9L531.4 569.7L534.7 573.5" stroke="#bc5b80"/>
<path d="M75.3 473.6L78.6 475.3L81.9 478.9L85.2 485.9L88.5 494.6L91.8 504.6L95.1 515.8L98.4 526.2L101.7 537.0L105.0 549.4L108.3 556.5L111.7 561.0L115.0 564.5L118.3 567.2L121.6 570.1L124.9 572.6L128.2 574.5L131.5 575.6L134.8 576.7L138.1 577.2L141.4 576.7L144.7 575.4L148.0 573.2L151.3 569.4L154.6 564.5L157.9 558.6L161.2 551.6L164.5 544.0L167.8 535.8L171.1 527.7L174.4 520.9L177.8 515.3L181.1 511.1L184.4 508.9L187.7 508.3L191.0 509.3L194.3 511.6L197.6 514.7L200.9 518.7L204.2 523.5L207.5 528.3L210.8 533.2L214.1 538.0L217.4 542.3L220.7 546.0L224.0 549.0L227.3 551.4L230.6 553.0L233.9 553.8L237.2 553.8L240.5 553.4L243.8 552.5L247.2 551.2L250.5 549.6L253.8 547.7L257.1 545.9L260.4 544.2L263.7 542.8L267.0 541.8L270.3 541.2L273.6 540.9L276.9 541.1L280.2 541.5L283.5 542.3L286.8 543.3L290.1 544.6L293.4 545.9L296.7 547.3L300.0 548.7L303.3 549.8L306.6 550.8L309.9 551.5L313.2 551.8L316.6 551.8L319.9 551.5L323.2 550.8L326.5 549.8L329.8 548.5L333.1 547.2L336.4 545.8L339.7 544.4L343.0 543.2L346.3 542.2L349.6 541.4L352.9 541.1L356.2 541.1L359.5 541.6L362.8 542.5L366.1 543.9L369.4 545.6L372.7 547.5L376.0 549.7L379.3 551.9L382.7 554.1L386.0 556.1L389.3 557.8L392.6 559.2L395.9 560.2L399.2 560.7L402.5 560.7L405.8 560.2L409.1 559.1L412.4 557.7L415.7 555.8L419.0 553.5L422.3 551.0L425.6 548.4L428.9 545.8L432.2 543.3L435.5 541.1L438.8 539.2L442.1 537.7L445.4 536.7L448.7 536.3L452.1 536.3L455.4 536.7L458.7 537.7L462.0 539.0L465.3 540.8L468.6 542.7L471.9 544.9L475.2 547.1L478.5 549.3L481.8 551.4L485.1 553.2L488.4 554.6L491.7 555.8L495.0 556.5L498.3 556.8L501.6 556.7L504.9 556.3L508.2 555.6L511.5 554.6L514.8 553.4L518.2 552.1L521.5 550.8L524.8 549.6L528.1 548.4L531.4 547.5L534.7 546.8" stroke="#47b66d"/>
<path d="M75.3 473.6L78.6 475.3L81.9 478.9L85.2 485.9L88.5 494.6L91.8 504.6L95.1 515.8L98.4 526.3L101.7 537.6L105.0 550.7L108.3 558.8L111.7 564.2L115.0 568.7L118.3 572.7L121.6 576.6L124.9 579.9L128.2 582.6L131.5 584.5L134.8 586.0L138.1 586.8L141.4 586.6L144.7 585.8L148.0 584.3L151.3 581.6L154.6 578.3L157.9 574.3L161.2 569.4L164.5 564.1L167.8 558.4L171.1 552.4L174.4 546.9L177.8 541.7L181.1 537.2L184.4 533.8L187.7 530.9L191.0 528.8L194.3 527.7L197.6 527.1L200.9 527.6L204.2 528.6L207.5 529.9L210.8 531.2L214.1 532.8L217.4 534.5L220.7 536.1L224.0 537.7L227.3 539.4L230.6 541.0L233.9 542.5L237.2 543.8L240.5 545.1L243.8 546.2L247.2 547.0L250.5 547.4L253.8 547.4L257.1 547.0L260.4 546.3L263.7 545.3L267.0 544.0L270.3 542.5L273.6 540.7L276.9 538.7L280.2 536.5L283.5 534.3L286.8 532.0L290.1 529.8L293.4 527.8L296.7 526.0L300.0 524.6L303.3 523.4L306.6 522.7L309.9 522.3L313.2 522.4L316.6 522.8L319.9 523.7L323.2 525.0L326.5 526.7L329.8 528.8L333.1 531.4L336.4 534.2L339.7 537.3L343.0 540.5L346.3 543.6L349.6 546.6L352.9 549.3L356.2 551.5L359.5 553.3L362.8 554.5L366.1 555.1L369.4 555.1L372.7 554.5L376.0 553.4L379.3 551.6L382.7 549.4L386.0 546.7L389.3 543.6L392.6 540.3L395.9 536.8L399.2 533.2L402.5 529.6L405.8 526.1L409.1 522.7L412.4 519.4L415.7 516.3L419.0 513.6L422.3 511.2L425.6 509.4L428.9 508.2L432.2 507.8L435.5 508.2L438.8 509.5L442.1 511.6L445.4 514.3L448.7 517.6L452.1 521.3L455.4 525.1L458.7 528.7L462.0 532.0L465.3 534.9L468.6 537.0L471.9 538.3L475.2 538.8L478.5 538.4L481.8 537.3L485.1 535.5L488.4 533.3L491.7 530.9L495.0 528.4L498.3 526.0L501.6 524.0L504.9 522.3L508.2 521.0L511.5 520.1L514.8 519.7L518.2 519.7L521.5 520.2L524.8 521.2L528.1 522.8L531.4 524.8L534.7 527.3" stroke="#5e81b5"/>
<path d="M75.3 473.6L78.6 475.3L81.9 478.9L85.2 485.9L88.5 494.6L91.8 504.6L95.1 515.8L98.4 526.4L101.7 538.2L105.0 551.9L108.3 560.8L111.7 567.0L115.0 572.4L118.3 577.6L121.6 582.2L124.9 586.4L128.2 590.5L131.5 593.8L134.8 596.6L138.1 598.6L141.4 599.4L144.7 599.2L148.0 598.3L151.3 595.9L154.6 592.8L157.9 588.9L161.2 583.9L164.5 578.7L167.8 573.2L171.1 567.6L174.4 562.6L177.8 557.9L181.1 554.3L184.4 552.1L187.7 550.5L191.0 549.8L194.3 550.0L197.6 550.7L200.9 552.3L204.2 554.0L207.5 555.3L210.8 556.2L214.1 556.8L217.4 556.9L220.7 556.4L224.0 555.2L227.3 553.5L230.6 551.3L233.9 548.6L237.2 545.6L240.5 542.6L243.8 539.6L247.2 536.8L250.5 534.2L253.8 531.8L257.1 529.9L260.4 528.5L263.7 527.8L267.0 527.6L270.3 528.1L273.6 529.1L276.9 530.7L280.2 532.9L283.5 535.4L286.8 538.1L290.1 541.0L293.4 544.0L296.7 546.8L300.0 549.3L303.3 551.5L306.6 553.2L309.9 554.4L313.2 555.0L316.6 555.0L319.9 554.4L323.2 553.2L326.5 551.5L329.8 549.4L333.1 546.9L336.4 544.3L339.7 541.6L343.0 539.0L346.3 536.6L349.6 534.5L352.9 532.9L356.2 531.8L359.5 531.3L362.8 531.3L366.1 531.8L369.4 533.0L372.7 534.8L376.0 537.0L379.3 539.8L382.7 542.9L386.0 546.3L389.3 549.7L392.6 553.0L395.9 556.1L399.2 558.8L402.5 561.1L405.8 562.7L409.1 563.8L412.4 564.3L415.7 564.2L419.0 563.6L422.3 562.5L425.6 561.1L428.9 559.3L432.2 557.5L435.5 555.8L438.8 554.5L442.1 553.9L445.4 554.0L448.7 555.2L452.1 557.4L455.4 560.7L458.7 564.8L462.0 569.7L465.3 575.0L468.6 580.2L471.9 585.1L475.2 589.4L478.5 592.6L481.8 594.7L485.1 595.4L488.4 594.9L491.7 593.2L495.0 590.5L498.3 586.9L501.6 582.9L504.9 578.4L508.2 573.8L511.5 569.2L514.8 564.6L518.2 560.0L521.5 555.5L524.8 551.1L528.1 546.8L531.4 542.7L534.7 538.8" stroke="#e19c24"/>
<path d="M75.3 473.6L78.6 475.3L81.9 478.9L85.2 485.9L88.5 494.6L91.8 504.6L95.1 515.8L98.4 526.4L101.7 538.1L105.0 551.7L108.3 560.6L111.7 566.7L115.0 571.9L118.3 576.9L121.6 581.4L124.9 585.5L128.2 589.3L131.5 592.2L134.8 594.5L138.1 596.0L141.4 596.3L144.7 595.7L148.0 594.5L151.3 591.9L154.6 588.7L157.9 584.9L161.2 579.9L164.5 574.9L167.8 569.5L171.1 564.0L174.4 559.1L177.8 554.5L181.1 550.8L184.4 548.6L187.7 546.9L191.0 546.3L194.3 546.6L197.6 547.8L200.9 550.0L204.2 552.6L207.5 555.1L210.8 557.6L214.1 560.0L217.4 562.1L220.7 563.7L224.0 564.9L227.3 565.6L230.6 565.9L233.9 565.7L237.2 564.9L240.5 563.8L243.8 562.3L247.2 560.3L250.5 557.8L253.8 554.8L257.1 551.5L260.4 548.2L263.7 544.8L267.0 541.7L270.3 538.8L273.6 536.2L276.9 534.0L280.2 532.3L283.5 530.9L286.8 529.9L290.1 529.3L293.4 529.1L296.7 529.4L300.0 530.1L303.3 531.2L306.6 532.8L309.9 534.8L313.2 537.3L316.6 540.1L319.9 543.2L323.2 546.4L326.5 549.8L329.8 553.1L333.1 556.3L336.4 559.2L339.7 561.8L343.0 564.1L346.3 565.9L349.6 567.3L352.9 568.3L356.2 568.9L359.5 569.1L362.8 568.8L366.1 568.2L369.4 567.2L372.7 565.8L376.0 564.1L379.3 562.0L382.7 559.6L386.0 556.9L389.3 554.1L392.6 551.2L395.9 548.2L399.2 545.4L402.5 542.6L405.8 540.1L409.1 537.8L412.4 535.8L415.7 534.1L419.0 532.8L422.3 531.8L425.6 531.0L428.9 530.6L432.2 530.4L435.5 530.4L438.8 530.6L442.1 530.8L445.4 531.0L448.7 531.0L452.1 530.8L455.4 530.3L458.7 529.3L462.0 527.8L465.3 525.8L468.6 523.4L471.9 520.7L475.2 517.8L478.5 515.2L481.8 512.9L485.1 511.5L488.4 510.9L491.7 511.6L495.0 513.4L498.3 516.3L501.6 520.1L504.9 524.6L508.2 529.5L511.5 534.5L514.8 539.1L518.2 543.3L521.5 546.7L524.8 549.3L528.1 551.0L531.4 552.0L534.7 552.1" stroke="#8fb032"/>
<path d="M75.3 473.6L78.6 475.3L81.9 478.9L85.2 485.9L88.5 494.6L91.8 504.6L95.1 515.8L98.4 526.4L101.7 537.9L105.0 551.3L108.3 559.9L111.7 565.7L115.0 570.7L118.3 575.3L121.6 579.5L124.9 583.6L128.2 587.8L131.5 591.6L134.8 595.5L138.1 599.2L141.4 602.1L144.7 604.6L148.0 606.7L151.3 607.5L154.6 607.6L157.9 606.7L161.2 604.3L164.5 601.1L167.8 596.8L171.1 591.5L174.4 585.8L177.8 579.7L181.1 573.6L184.4 568.0L187.7 562.5L191.0 557.3L194.3 552.8L197.6 548.8L200.9 545.9L204.2 543.9L207.5 542.3L210.8 541.3L214.1 540.8L217.4 540.8L220.7 541.0L224.0 541.6L227.3 542.4L230.6 543.3L233.9 544.3L237.2 545.4L240.5 546.6L243.8 547.8L247.2 548.8L250.5 549.7L253.8 550.1L257.1 550.4L260.4 550.4L263.7 550.3L267.0 550.0L270.3 549.5L273.6 548.9L276.9 548.1L280.2 547.3L283.5 546.4L286.8 545.7L290.1 545.3L293.4 545.4L296.7 546.2L300.0 547.9L303.3 550.7L306.6 554.6L309.9 559.7L313.2 565.7L316.6 572.3L319.9 579.1L323.2 585.7L326.5 591.5L329.8 596.1L333.1 599.4L336.4 601.0L339.7 601.1L343.0 600.0L346.3 597.9L349.6 595.3L352.9 592.6L356.2 590.2L359.5 588.3L362.8 587.0L366.1 586.3L369.4 586.1L372.7 586.4L376.0 586.9L379.3 587.6L382.7 588.4L386.0 589.2L389.3 590.0L392.6 590.6L395.9 591.1L399.2 591.4L402.5 591.6L405.8 591.7L409.1 591.6L412.4 591.3L415.7 590.9L419.0 590.3L422.3 589.4L425.6 588.4L428.9 587.0L432.2 585.4L435.5 583.4L438.8 581.0L442.1 578.3L445.4 575.3L448.7 571.9L452.1 568.4L455.4 564.6L458.7 560.8L462.0 557.1L465.3 553.5L468.6 550.2L471.9 547.1L475.2 544.4L478.5 542.1L481.8 540.1L485.1 538.5L488.4 537.1L491.7 536.1L495.0 535.4L498.3 534.9L501.6 534.6L504.9 534.6L508.2 534.6L511.5 534.9L514.8 535.2L518.2 535.5L521.5 536.0L524.8 536.4L528.1 536.9L531.4 537.4L534.7 537.8" stroke="#eb6235"/>
<path d="M75.3 473.6L78.6 475.3L81.9 478.9L85.2 485.9L88.5 494.6L91.8 504.6L95.1 515.8L98.4 526.4L101.7 537.9L105.0 551.4L108.3 560.0L111.7 565.9L115.0 570.9L118.3 575.5L121.6 579.8L124.9 583.5L128.2 586.8L131.5 589.1L134.8 590.9L138.1 592.1L141.4 592.3L144.7 592.0L148.0 591.3L151.3 589.6L154.6 587.4L157.9 584.8L161.2 581.2L164.5 577.3L167.8 573.0L171.1 568.2L174.4 563.6L177.8 558.8L181.1 554.4L184.4 550.7L187.7 547.1L191.0 543.9L194.3 541.3L197.6 539.1L200.9 537.8L204.2 537.1L207.5 536.4L210.8 535.9L214.1 535.8L217.4 535.9L220.7 536.0L224.0 536.2L227.3 536.6L230.6 537.1L233.9 537.7L237.2 538.4L240.5 539.2L243.8 540.2L247.2 541.3L250.5 542.2L253.8 543.0L257.1 543.7L260.4 544.5L263.7 545.2L267.0 545.8L270.3 546.4L273.6 547.0L276.9 547.4L280.2 547.6L283.5 547.6L286.8 547.4L290.1 547.0L293.4 546.4L296.7 545.7L300.0 544.9L303.3 544.0L306.6 543.2L309.9 542.5L313.2 541.9L316.6 541.4L319.9 541.2L323.2 541.3L326.5 541.9L329.8 542.9L333.1 544.6L336.4 546.8L339.7 549.8L343.0 553.4L346.3 557.7L349.6 562.5L352.9 567.6L356.2 572.8L359.5 577.8L362.8 582.3L366.1 586.0L369.4 588.8L372.7 590.3L376.0 590.5L379.3 589.5L382.7 587.3L386.0 584.2L389.3 580.4L392.6 576.1L395.9 571.5L399.2 567.0L402.5 562.6L405.8 558.5L409.1 554.7L412.4 551.2L415.7 548.1L419.0 545.3L422.3 542.9L425.6 540.7L428.9 538.8L432.2 537.3L435.5 536.0L438.8 535.0L442.1 534.3L445.4 534.0L448.7 533.9L452.1 534.1L455.4 534.7L458.7 535.5L462.0 536.6L465.3 538.0L468.6 539.6L471.9 541.4L475.2 543.3L478.5 545.3L481.8 547.3L485.1 549.2L488.4 550.9L491.7 552.5L495.0 553.8L498.3 554.8L501.6 555.5L504.9 555.7L508.2 555.6L511.5 555.1L514.8 554.2L518.2 552.9L521.5 551.2L524.8 549.2L528.1 547.0L531.4 544.5L534.7 541.9" stroke="#8778b3"/>
<path d="M75.3 473.6L78.6 475.3L81.9 478.9L85.2 485.9L88.5 494.6L91.8 504.6L95.1 515.8L98.4 526.4L101.7 538.2L105.0 551.9L108.3 560.9L111.7 567.2L115.0 572.6L118.3 577.8L121.6 582.5L124.9 586.6L128.2 590.1L131.5 592.5L134.8 593.9L138.1 594.5L141.4 593.8L144.7 592.2L148.0 590.1L151.3 587.1L154.6 583.7L157.9 580.0L161.2 575.7L164.5 571.6L167.8 567.6L171.1 563.6L174.4 560.3L177.8 557.4L181.1 555.5L184.4 555.1L187.7 555.3L191.0 556.6L194.3 558.9L197.6 562.1L200.9 566.4L204.2 571.0L207.5 575.2L210.8 578.6L214.1 581.2L217.4 582.6L220.7 582.5L224.0 580.9L227.3 578.1L230.6 574.3L233.9 569.9L237.2 565.3L240.5 561.0L243.8 557.2L247.2 553.9L250.5 551.2L253.8 548.9L257.1 547.2L260.4 545.9L263.7 545.0L267.0 544.2L270.3 543.4L273.6 542.7L276.9 541.8L280.2 540.7L283.5 539.2L286.8 537.6L290.1 535.6L293.4 533.6L296.7 531.4L300.0 529.3L303.3 527.4L306.6 525.6L309.9 524.0L313.2 522.8L316.6 521.8L319.9 521.2L323.2 520.9L326.5 520.9L329.8 521.4L333.1 522.2L336.4 523.4L339.7 524.9L343.0 526.9L346.3 529.3L349.6 532.0L352.9 534.9L356.2 538.0L359.5 541.2L362.8 544.3L366.1 547.2L369.4 549.8L372.7 552.0L376.0 553.7L379.3 554.9L382.7 555.5L386.0 555.4L389.3 554.9L392.6 553.7L395.9 552.0L399.2 549.8L402.5 547.2L405.8 544.3L409.1 541.2L412.4 538.0L415.7 534.9L419.0 532.0L422.3 529.3L425.6 526.9L428.9 524.9L432.2 523.2L435.5 522.0L438.8 521.1L442.1 520.6L445.4 520.5L448.7 520.7L452.1 521.2L455.4 522.1L458.7 523.2L462.0 524.7L465.3 526.5L468.6 528.6L471.9 530.8L475.2 533.3L478.5 535.8L481.8 538.3L485.1 540.8L488.4 543.1L491.7 545.2L495.0 547.0L498.3 548.5L501.6 549.7L504.9 550.5L508.2 550.9L511.5 551.0L514.8 550.7L518.2 550.0L521.5 549.0L524.8 547.8L528.1 546.2L531.4 544.5L534.7 542.6" stroke="#c56e1a"/>
<path d="M75.3 473.6L78.6 475.3L81.9 478.9L85.2 485.9L88.5 494.6L91.8 504.6L95.1 515.8L98.4 526.4L101.7 538.0L105.0 551.5L108.3 560.2L111.7 566.2L115.0 571.3L118.3 576.1L121.6 580.5L124.9 584.3L128.2 587.9L131.5 590.7L134.8 593.1L138.1 595.0L141.4 596.0L144.7 596.5L148.0 596.5L151.3 595.4L154.6 593.5L157.9 590.6L161.2 586.2L164.5 581.1L167.8 574.8L171.1 567.4L174.4 559.6L177.8 551.1L181.1 542.8L184.4 535.1L187.7 527.8L191.0 521.7L194.3 517.1L197.6 514.1L200.9 513.1L204.2 513.5L207.5 514.8L210.8 516.9L214.1 519.9L217.4 523.8L220.7 528.3L224.0 533.8L227.3 540.1L230.6 546.9L233.9 553.8L237.2 560.1L240.5 565.8L243.8 570.5L247.2 574.0L250.5 576.3L253.8 577.6L257.1 577.9L260.4 577.2L263.7 575.6L267.0 573.0L270.3 569.2L273.6 564.2L276.9 558.0L280.2 550.9L283.5 543.4L286.8 535.9L290.1 529.1L293.4 523.4L296.7 518.9L300.0 515.6L303.3 513.3L306.6 511.9L309.9 511.2L313.2 511.1L316.6 511.6L319.9 512.8L323.2 514.7L326.5 517.6L329.8 521.4L333.1 526.2L336.4 532.1L339.7 538.6L343.0 545.4L346.3 551.9L349.6 557.7L352.9 562.5L356.2 566.2L359.5 568.8L362.8 570.3L366.1 570.8L369.4 570.3L372.7 568.9L376.0 566.5L379.3 563.3L382.7 559.3L386.0 554.7L389.3 549.7L392.6 544.7L395.9 539.9L399.2 535.6L402.5 531.9L405.8 529.0L409.1 526.9L412.4 525.5L415.7 524.9L419.0 525.0L422.3 525.7L425.6 527.0L428.9 528.9L432.2 531.4L435.5 534.2L438.8 537.5L442.1 540.9L445.4 544.2L448.7 547.4L452.1 550.2L455.4 552.6L458.7 554.4L462.0 555.5L465.3 556.1L468.6 556.1L471.9 555.4L475.2 554.2L478.5 552.6L481.8 550.6L485.1 548.3L488.4 545.8L491.7 543.3L495.0 540.9L498.3 538.6L501.6 536.6L504.9 534.8L508.2 533.4L511.5 532.3L514.8 531.5L518.2 531.1L521.5 530.9L524.8 531.0L528.1 531.3L531.4 531.7L534.7 532.3" stroke="#5d9ec7"/>
<path d="M75.3 473.6L78.6 475.3L81.9 478.9L85.2 485.9L88.5 494.6L91.8 504.6L95.1 515.8L98.4 526.2L101.7 536.9L105.0 549.1L108.3 556.1L111.7 560.4L115.0 563.7L118.3 566.2L121.6 568.9L124.9 571.0L128.2 572.0L131.5 572.0L134.8 571.7L138.1 570.7L141.4 568.9L144.7 566.6L148.0 563.8L151.3 559.9L154.6 555.6L157.9 550.8L161.2 545.5L164.5 540.1L167.8 534.3L171.1 528.8L174.4 524.8L177.8 521.7L181.1 519.8L184.4 519.4L187.7 520.2L191.0 522.5L194.3 525.8L197.6 529.9L200.9 535.0L204.2 540.8L207.5 546.9L210.8 552.8L214.1 558.4L217.4 563.1L220.7 566.8L224.0 569.7L227.3 571.7L230.6 572.9L233.9 573.5L237.2 573.5L240.5 573.1L243.8 572.4L247.2 571.4L250.5 570.5L253.8 569.9L257.1 570.5L260.4 572.4L263.7 575.5L267.0 579.2L270.3 582.7L273.6 585.0L276.9 585.4L280.2 583.8L283.5 579.9L286.8 574.3L290.1 567.6L293.4 560.8L296.7 554.9L300.0 550.9L303.3 549.9L306.6 552.4L309.9 558.1L313.2 565.6L316.6 573.3L319.9 579.7L323.2 584.5L326.5 587.8L329.8 589.9L333.1 591.2L336.4 591.8L339.7 592.0L343.0 591.6L346.3 590.7L349.6 589.1L352.9 586.6L356.2 582.9L359.5 577.7L362.8 570.9L366.1 562.6L369.4 553.4L372.7 544.4L376.0 536.2L379.3 529.4L382.7 524.1L386.0 520.3L389.3 517.6L392.6 515.9L395.9 515.0L399.2 514.7L402.5 514.9L405.8 515.6L409.1 516.7L412.4 518.2L415.7 520.2L419.0 522.4L422.3 524.9L425.6 527.6L428.9 530.4L432.2 533.4L435.5 536.4L438.8 539.5L442.1 542.6L445.4 545.9L448.7 549.3L452.1 552.8L455.4 556.5L458.7 560.3L462.0 564.0L465.3 567.8L468.6 571.3L471.9 574.5L475.2 577.3L478.5 579.7L481.8 581.5L485.1 582.8L488.4 583.6L491.7 583.8L495.0 583.4L498.3 582.3L501.6 580.3L504.9 577.3L508.2 572.9L511.5 566.9L514.8 559.3L518.2 550.4L521.5 540.8L524.8 531.7L528.1 523.8L531.4 517.6L534.7 513.1" stroke="#ffbf00"/>
<path d="M75.3 473.6L78.6 475.3L81.9 478.9L85.2 485.9L88.5 494.6L91.8 504.6L95.1 515.8L98.4 526.4L101.7 537.8L105.0 551.0L108.3 559.3L111.7 564.9L115.0 569.6L118.3 573.9L121.6 577.9L124.9 581.4L128.2 584.5L131.5 586.7L134.8 588.5L138.1 589.7L141.4 590.0L144.7 589.8L148.0 589.2L151.3 587.8L154.6 586.1L157.9 584.2L161.2 581.7L164.5 579.3L167.8 576.9L171.1 574.5L174.4 572.8L177.8 571.4L181.1 570.6L184.4 570.6L187.7 570.8L191.0 571.3L194.3 571.9L197.6 572.3L200.9 572.9L204.2 573.3L207.5 573.1L210.8 572.6L214.1 571.8L217.4 570.8L220.7 569.3L224.0 567.6L227.3 565.6L230.6 563.3L233.9 560.8L237.2 558.1L240.5 555.4L243.8 552.9L247.2 550.4L250.5 548.1L253.8 545.9L257.1 544.1L260.4 542.7L263.7 541.8L267.0 541.4L270.3 541.6L273.6 542.2L276.9 543.2L280.2 544.7L283.5 546.5L286.8 548.4L290.1 550.6L293.4 552.9L296.7 555.2L300.0 557.4L303.3 559.6L306.6 561.5L309.9 563.2L313.2 564.5L316.6 565.5L319.9 566.1L323.2 566.3L326.5 566.0L329.8 565.3L333.1 564.2L336.4 562.5L339.7 560.5L343.0 558.0L346.3 555.1L349.6 551.9L352.9 548.6L356.2 545.1L359.5 541.8L362.8 538.6L366.1 535.7L369.4 533.3L372.7 531.2L376.0 529.6L379.3 528.5L382.7 528.0L386.0 527.9L389.3 528.4L392.6 529.5L395.9 531.2L399.2 533.4L402.5 536.3L405.8 539.8L409.1 543.8L412.4 548.3L415.7 553.1L419.0 557.9L422.3 562.6L425.6 567.0L428.9 571.0L432.2 574.4L435.5 577.3L438.8 579.7L442.1 581.5L445.4 582.9L448.7 583.8L452.1 584.3L455.4 584.5L458.7 584.2L462.0 583.6L465.3 582.6L468.6 581.2L471.9 579.3L475.2 576.9L478.5 574.0L481.8 570.6L485.1 566.8L488.4 562.7L491.7 558.4L495.0 554.1L498.3 550.0L501.6 546.3L504.9 543.1L508.2 540.5L511.5 538.5L514.8 537.2L518.2 536.5L521.5 536.5L524.8 537.2L528.1 538.6L531.4 540.5L534.7 543.1" stroke="#a5609d"/>
<path d="M75.3 473.6L78.6 475.3L81.9 478.9L85.2 485.9L88.5 494.6L91.8 504.6L95.1 515.8L98.4 526.4L101.7 537.8L105.0 551.1L108.3 559.6L111.7 565.3L115.0 570.1L118.3 574.5L121.6 578.6L124.9 582.2L128.2 585.3L131.5 587.5L134.8 589.1L138.1 590.0L141.4 589.7L144.7 588.6L148.0 586.7L151.3 583.5L154.6 579.5L157.9 574.7L161.2 568.7L164.5 562.3L167.8 555.3L171.1 547.9L174.4 540.8L177.8 533.9L181.1 527.6L184.4 522.7L187.7 518.4L191.0 515.3L194.3 513.4L197.6 512.4L200.9 512.7L204.2 513.8L207.5 515.1L210.8 516.6L214.1 518.4L217.4 520.2L220.7 522.1L224.0 524.1L227.3 526.2L230.6 528.5L233.9 530.7L237.2 533.1L240.5 535.5L243.8 538.0L247.2 540.5L250.5 542.7L253.8 544.7L257.1 546.5L260.4 548.1L263.7 549.6L267.0 550.9L270.3 552.0L273.6 553.0L276.9 553.7L280.2 554.3L283.5 554.5L286.8 554.5L290.1 554.3L293.4 553.9L296.7 553.3L300.0 552.6L303.3 551.8L306.6 550.9L309.9 550.0L313.2 549.0L316.6 547.9L319.9 546.8L323.2 545.7L326.5 544.5L329.8 543.3L333.1 542.0L336.4 540.8L339.7 539.4L343.0 538.0L346.3 536.6L349.6 535.1L352.9 533.6L356.2 532.2L359.5 530.7L362.8 529.2L366.1 527.8L369.4 526.5L372.7 525.2L376.0 524.0L379.3 522.9L382.7 521.9L386.0 521.1L389.3 520.4L392.6 519.8L395.9 519.5L399.2 519.2L402.5 519.1L405.8 519.2L409.1 519.5L412.4 520.0L415.7 520.7L419.0 521.5L422.3 522.6L425.6 523.9L428.9 525.3L432.2 527.0L435.5 528.8L438.8 530.8L442.1 532.9L445.4 535.1L448.7 537.4L452.1 539.7L455.4 542.0L458.7 544.1L462.0 546.2L465.3 548.1L468.6 549.8L471.9 551.4L475.2 552.8L478.5 553.9L481.8 554.9L485.1 555.7L488.4 556.2L491.7 556.6L495.0 556.8L498.3 556.9L501.6 556.7L504.9 556.5L508.2 556.0L511.5 555.5L514.8 554.8L518.2 554.0L521.5 553.0L524.8 551.9L528.1 550.6L531.4 549.2L534.7 547.7" stroke="#929600"/>
<path d="M75.3 473.6L78.6 475.3L81.9 478.9L85.2 485.9L88.5 494.6L91.8 504.6L95.1 515.8L98.4 526.3L101.7 537.4L105.0 550.2L108.3 557.9L111.7 563.0L115.0 567.1L118.3 570.6L121.6 574.1L124.9 577.0L128.2 579.1L131.5 580.3L134.8 581.2L138.1 581.5L141.4 580.8L144.7 579.5L148.0 577.8L151.3 575.0L154.6 571.6L157.9 567.8L161.2 563.2L164.5 558.4L167.8 553.3L171.1 548.0L174.4 543.5L177.8 539.4L181.1 535.9L184.4 533.4L187.7 531.5L191.0 530.2L194.3 529.7L197.6 529.6L200.9 530.2L204.2 531.4L207.5 532.6L210.8 533.8L214.1 535.2L217.4 536.6L220.7 537.9L224.0 539.3L227.3 540.7L230.6 542.2L233.9 543.6L237.2 544.9L240.5 546.4L243.8 547.8L247.2 549.2L250.5 550.3L253.8 551.1L257.1 551.8L260.4 552.4L263.7 552.7L267.0 552.9L270.3 552.8L273.6 552.5L276.9 551.9L280.2 550.9L283.5 549.6L286.8 548.1L290.1 546.2L293.4 544.2L296.7 542.0L300.0 539.7L303.3 537.5L306.6 535.3L309.9 533.2L313.2 531.3L316.6 529.6L319.9 528.2L323.2 527.0L326.5 526.1L329.8 525.4L333.1 525.1L336.4 525.0L339.7 525.2L343.0 525.7L346.3 526.5L349.6 527.6L352.9 528.9L356.2 530.4L359.5 532.1L362.8 534.1L366.1 536.1L369.4 538.2L372.7 540.2L376.0 542.2L379.3 544.0L382.7 545.5L386.0 546.8L389.3 547.8L392.6 548.4L395.9 548.6L399.2 548.5L402.5 548.1L405.8 547.4L409.1 546.3L412.4 545.1L415.7 543.7L419.0 542.1L422.3 540.6L425.6 539.0L428.9 537.6L432.2 536.4L435.5 535.4L438.8 534.6L442.1 534.2L445.4 534.1L448.7 534.3L452.1 535.0L455.4 536.0L458.7 537.4L462.0 539.1L465.3 541.2L468.6 543.5L471.9 546.1L475.2 548.8L478.5 551.6L481.8 554.3L485.1 556.9L488.4 559.2L491.7 561.2L495.0 562.9L498.3 564.1L501.6 564.9L504.9 565.2L508.2 565.1L511.5 564.5L514.8 563.4L518.2 561.8L521.5 559.7L524.8 557.1L528.1 554.2L531.4 550.9L534.7 547.4" stroke="#e95536"/>
<path d="M75.3 473.6L78.6 475.3L81.9 478.9L85.2 485.9L88.5 494.6L91.8 504.6L95.1 515.8L98.4 526.3L101.7 537.3L105.0 550.0L108.3 557.6L111.7 562.5L115.0 566.4L118.3 569.8L121.6 573.1L124.9 575.9L128.2 578.0L131.5 579.3L134.8 580.5L138.1 581.2L141.4 581.1L144.7 580.6L148.0 579.7L151.3 577.8L154.6 575.3L157.9 572.4L161.2 568.7L164.5 564.7L167.8 560.1L171.1 555.2L174.4 550.9L177.8 546.7L181.1 542.8L184.4 539.6L187.7 536.5L191.0 533.8L194.3 531.4L197.6 529.2L200.9 527.5L204.2 526.2L207.5 524.8L210.8 523.5L214.1 522.2L217.4 521.0L220.7 519.7L224.0 518.6L227.3 517.6L230.6 516.8L233.9 516.0L237.2 515.2L240.5 514.8L243.8 514.5L247.2 514.4L250.5 514.4L253.8 514.6L257.1 515.0L260.4 515.7L263.7 516.6L267.0 517.9L270.3 519.4L273.6 521.2L276.9 523.2L280.2 525.6L283.5 528.1L286.8 530.9L290.1 533.7L293.4 536.7L296.7 539.7L300.0 542.6L303.3 545.4L306.6 548.0L309.9 550.4L313.2 552.5L316.6 554.3L319.9 555.8L323.2 556.9L326.5 557.7L329.8 558.2L333.1 558.3L336.4 558.2L339.7 557.7L343.0 557.0L346.3 556.0L349.6 554.8L352.9 553.4L356.2 551.8L359.5 550.1L362.8 548.4L366.1 546.6L369.4 544.8L372.7 543.0L376.0 541.2L379.3 539.5L382.7 537.8L386.0 536.2L389.3 534.7L392.6 533.3L395.9 531.9L399.2 530.7L402.5 529.5L405.8 528.4L409.1 527.3L412.4 526.3L415.7 525.5L419.0 524.6L422.3 523.9L425.6 523.2L428.9 522.7L432.2 522.2L435.5 521.8L438.8 521.6L442.1 521.4L445.4 521.4L448.7 521.6L452.1 521.8L455.4 522.3L458.7 523.0L462.0 523.8L465.3 524.9L468.6 526.2L471.9 527.7L475.2 529.5L478.5 531.5L481.8 533.7L485.1 536.2L488.4 538.8L491.7 541.6L495.0 544.4L498.3 547.2L501.6 550.0L504.9 552.6L508.2 555.0L511.5 557.2L514.8 559.1L518.2 560.7L521.5 561.8L524.8 562.7L528.1 563.1L531.4 563.1L534.7 562.7" stroke="#6685d9"/>
<path d="M75.3 473.6L78.6 475.3L81.9 478.9L85.2 485.9L88.5 494.6L91.8 504.6L95.1 515.8L98.4 526.3L101.7 537.6L105.0 550.6L108.3 558.7L111.7 564.0L115.0 568.4L118.3 572.4L121.6 576.2L124.9 579.4L128.2 582.2L131.5 584.1L134.8 585.8L138.1 587.0L141.4 587.3L144.7 587.1L148.0 586.4L151.3 584.6L154.6 582.4L157.9 579.7L161.2 576.2L164.5 572.6L167.8 568.6L171.1 564.5L174.4 561.1L177.8 558.0L181.1 555.6L184.4 554.0L187.7 552.7L191.0 551.9L194.3 551.5L197.6 551.0L200.9 551.0L204.2 550.9L207.5 550.3L210.8 549.3L214.1 548.0L217.4 546.3L220.7 544.1L224.0 541.5L227.3 538.7L230.6 535.7L233.9 532.6L237.2 529.7L240.5 527.0L243.8 524.6L247.2 522.5L250.5 520.8L253.8 519.3L257.1 518.2L260.4 517.5L263.7 517.3L267.0 517.4L270.3 517.9L273.6 518.7L276.9 519.9L280.2 521.5L283.5 523.4L286.8 525.6L290.1 528.0L293.4 530.7L296.7 533.4L300.0 536.3L303.3 539.2L306.6 542.0L309.9 544.7L313.2 547.2L316.6 549.6L319.9 551.7L323.2 553.6L326.5 555.4L329.8 557.0L333.1 558.5L336.4 559.9L339.7 561.2L343.0 562.5L346.3 563.8L349.6 565.0L352.9 566.2L356.2 567.4L359.5 568.5L362.8 569.4L366.1 570.3L369.4 570.9L372.7 571.3L376.0 571.3L379.3 571.1L382.7 570.4L386.0 569.3L389.3 567.6L392.6 565.4L395.9 562.5L399.2 559.0L402.5 555.0L405.8 550.4L409.1 545.5L412.4 540.4L415.7 535.5L419.0 530.8L422.3 526.6L425.6 523.1L428.9 520.1L432.2 517.8L435.5 516.0L438.8 514.8L442.1 514.1L445.4 513.8L448.7 514.0L452.1 514.6L455.4 515.6L458.7 517.1L462.0 519.1L465.3 521.5L468.6 524.5L471.9 527.8L475.2 531.5L478.5 535.4L481.8 539.3L485.1 543.0L488.4 546.5L491.7 549.5L495.0 552.1L498.3 554.2L501.6 555.8L504.9 556.9L508.2 557.6L511.5 558.1L514.8 558.2L518.2 558.2L521.5 558.2L524.8 558.1L528.1 558.1L531.4 558.3L534.7 558.6" stroke="#f89f13"/>
<path d="M75.3 473.6L78.6 475.3L81.9 478.9L85.2 485.9L88.5 494.6L91.8 504.6L95.1 515.8L98.4 526.3L101.7 537.2L105.0 549.7L108.3 557.1L111.7 561.8L115.0 565.5L118.3 568.6L121.6 571.7L124.9 574.4L128.2 576.4L131.5 577.6L134.8 578.4L138.1 578.6L141.4 577.7L144.7 575.9L148.0 573.2L151.3 569.0L154.6 563.9L157.9 558.0L161.2 551.2L164.5 544.0L167.8 536.5L171.1 529.2L174.4 523.3L177.8 518.4L181.1 514.9L184.4 513.1L187.7 512.5L191.0 513.3L194.3 515.2L197.6 517.5L200.9 520.7L204.2 524.3L207.5 527.7L210.8 530.9L214.1 533.8L217.4 536.1L220.7 537.8L224.0 538.9L227.3 539.4L230.6 539.2L233.9 538.5L237.2 537.2L240.5 535.5L243.8 533.6L247.2 531.5L250.5 529.3L253.8 527.0L257.1 524.9L260.4 523.2L263.7 521.8L267.0 520.7L270.3 520.0L273.6 519.6L276.9 519.7L280.2 520.0L283.5 520.8L286.8 521.9L290.1 523.4L293.4 525.2L296.7 527.4L300.0 529.9L303.3 532.6L306.6 535.4L309.9 538.3L313.2 541.0L316.6 543.5L319.9 545.6L323.2 547.2L326.5 548.3L329.8 548.9L333.1 548.9L336.4 548.4L339.7 547.4L343.0 546.0L346.3 544.2L349.6 542.1L352.9 539.8L356.2 537.6L359.5 535.4L362.8 533.5L366.1 531.8L369.4 530.5L372.7 529.5L376.0 528.9L379.3 528.7L382.7 529.0L386.0 529.7L389.3 530.7L392.6 532.2L395.9 534.0L399.2 536.1L402.5 538.4L405.8 540.9L409.1 543.3L412.4 545.6L415.7 547.7L419.0 549.4L422.3 550.8L425.6 551.6L428.9 552.0L432.2 551.8L435.5 551.1L438.8 549.8L442.1 548.1L445.4 545.9L448.7 543.4L452.1 540.7L455.4 537.9L458.7 535.0L462.0 532.3L465.3 529.9L468.6 527.7L471.9 525.9L475.2 524.5L478.5 523.5L481.8 522.8L485.1 522.6L488.4 522.7L491.7 523.2L495.0 524.1L498.3 525.3L501.6 526.8L504.9 528.5L508.2 530.5L511.5 532.6L514.8 534.8L518.2 536.9L521.5 538.9L524.8 540.6L528.1 542.0L531.4 543.1L534.7 543.7" stroke="#bc5b80"/>
<path d="M75.3 473.6L78.6 475.3L81.9 478.9L85.2 485.9L88.5 494.6L91.8 504.6L95.1 515.8L98.4 526.3L101.7 537.5L105.0 550.5L108.3 558.5L111.7 563.8L115.0 568.1L118.3 571.9L121.6 575.6L124.9 578.8L128.2 581.3L131.5 582.7L134.8 583.5L138.1 583.4L141.4 582.0L144.7 579.8L148.0 576.8L151.3 572.5L154.6 567.8L157.9 562.6L161.2 556.9L164.5 551.5L167.8 546.1L171.1 541.1L174.4 537.4L177.8 534.6L181.1 533.0L184.4 532.7L187.7 533.1L191.0 534.3L194.3 536.1L197.6 538.1L200.9 540.4L204.2 542.8L207.5 544.6L210.8 545.9L214.1 546.9L217.4 547.4L220.7 547.3L224.0 546.9L227.3 546.4L230.6 545.6L233.9 544.8L237.2 544.1L240.5 543.6L243.8 543.5L247.2 543.7L250.5 544.3L253.8 545.1L257.1 546.4L260.4 548.2L263.7 550.5L267.0 553.1L270.3 556.0L273.6 559.0L276.9 562.1L280.2 564.9L283.5 567.4L286.8 569.6L290.1 571.3L293.4 572.5L296.7 573.2L300.0 573.4L303.3 573.1L306.6 572.3L309.9 570.9L313.2 569.0L316.6 566.6L319.9 563.5L323.2 560.1L326.5 556.2L329.8 552.1L333.1 548.0L336.4 544.0L339.7 540.4L343.0 537.1L346.3 534.5L349.6 532.3L352.9 530.8L356.2 529.9L359.5 529.5L362.8 529.7L366.1 530.4L369.4 531.6L372.7 533.2L376.0 535.2L379.3 537.5L382.7 539.9L386.0 542.3L389.3 544.7L392.6 546.8L395.9 548.6L399.2 550.0L402.5 550.8L405.8 551.2L409.1 551.1L412.4 550.4L415.7 549.3L419.0 547.7L422.3 545.8L425.6 543.7L428.9 541.5L432.2 539.3L435.5 537.3L438.8 535.5L442.1 534.0L445.4 533.0L448.7 532.4L452.1 532.3L455.4 532.7L458.7 533.7L462.0 535.3L465.3 537.5L468.6 540.2L471.9 543.3L475.2 546.8L478.5 550.6L481.8 554.4L485.1 558.1L488.4 561.5L491.7 564.6L495.0 567.2L498.3 569.2L501.6 570.7L504.9 571.7L508.2 572.1L511.5 572.0L514.8 571.4L518.2 570.3L521.5 568.7L524.8 566.6L528.1 564.1L531.4 561.4L534.7 558.4" stroke="#857d85"/>
</g>
<rect class="ax" x="75.40" y="423.60" width="459.20" height="284.20" style="stroke:#8a8a8a;stroke-width:1"/>
<path class="ax" d="M75.40 423.60V707.80H534.60"/>
<line class="ax" x1="75.40" y1="433.80" x2="84.90" y2="433.80"/>
<line class="ax" x1="75.40" y1="481.80" x2="84.90" y2="481.80"/>
<line class="ax" x1="75.40" y1="529.80" x2="84.90" y2="529.80"/>
<line class="ax" x1="75.40" y1="577.80" x2="84.90" y2="577.80"/>
<line class="ax" x1="75.40" y1="673.80" x2="84.90" y2="673.80"/>
<line class="ax" x1="136.55" y1="707.80" x2="136.55" y2="698.30"/>
<line class="ax" x1="197.80" y1="707.80" x2="197.80" y2="698.30"/>
<line class="ax" x1="259.05" y1="707.80" x2="259.05" y2="698.30"/>
<line class="ax" x1="320.30" y1="707.80" x2="320.30" y2="698.30"/>
<line class="ax" x1="381.55" y1="707.80" x2="381.55" y2="698.30"/>
<line class="ax" x1="442.80" y1="707.80" x2="442.80" y2="698.30"/>
<line class="ax" x1="504.05" y1="707.80" x2="504.05" y2="698.30"/>
<text class="tk" x="69.50" y="439.70" text-anchor="end">2.0</text>
<text class="tk" x="69.50" y="490.35" text-anchor="end">1.5</text>
<text class="tk" x="69.50" y="541.00" text-anchor="end">1.0</text>
<text class="tk" x="69.50" y="591.65" text-anchor="end">0.5</text>
<text class="tk" x="62.00" y="642.30" text-anchor="end">0</text>
<text class="tk" x="69.50" y="692.95" text-anchor="end">-0.5</text>
<text class="tk" x="76.40" y="729.60" text-anchor="middle">0</text>
<text class="tk" x="137.65" y="729.60" text-anchor="middle">1</text>
<text class="tk" x="198.90" y="729.60" text-anchor="middle">2</text>
<text class="tk" x="260.15" y="729.60" text-anchor="middle">3</text>
<text class="tk" x="321.40" y="729.60" text-anchor="middle">4</text>
<text class="tk" x="382.65" y="729.60" text-anchor="middle">5</text>
<text class="tk" x="443.90" y="729.60" text-anchor="middle">6</text>
<text class="tk" x="505.15" y="729.60" text-anchor="middle">7</text>
<text class="xl" x="222.50" y="761.50">time</text>
<text class="mi" font-size="37" x="293.50" y="761.50">t</text>
<text class="mi" font-size="37" x="307.50" y="761.50">J</text>
<text class="mr" font-size="22" x="324.50" y="765.10">0</text>
<text class="pl" x="-1.70" y="391.00" text-anchor="start">c</text>
<text x="0" y="0" font-size="41" style="font-family:'Liberation Mono',monospace;font-style:italic;stroke:#fff;stroke-width:0.6px;paint-order:fill stroke" transform="translate(4.00 572.00) scale(1.27 0.985) skewX(6)">I</text>
<path class="c" d="M687.2 431.1L700.0 423.0L712.8 443.7L725.6 480.0L738.4 516.0L751.1 532.5L763.9 561.2L776.7 583.8L789.5 606.5L802.3 630.4L815.0 643.8L827.8 661.9L840.6 651.9L853.4 656.9L866.2 661.2L879.0 654.4L891.7 660.4L904.5 639.6L917.3 637.8L930.1 625.0L942.9 624.4L955.6 610.6L968.4 603.8L981.2 591.0L994.0 575.0L1006.8 559.4L1019.5 552.5L1032.3 545.6L1045.1 544.4L1057.9 542.5" stroke="#c8f7c8" stroke-width="3.2" opacity="0.5"/>
<path class="c" d="M687.2 431.1L700.0 423.0L712.8 443.7L725.6 480.0L738.4 516.0L751.1 532.5L763.9 561.2L776.7 583.8L789.5 606.5L802.3 630.4L815.0 643.8L827.8 661.9L840.6 651.9L853.4 656.9L866.2 661.2L879.0 654.4L891.7 660.4L904.5 639.6L917.3 637.8L930.1 625.0L942.9 624.4L955.6 610.6L968.4 603.8L981.2 591.0L994.0 575.0L1006.8 559.4L1019.5 552.5L1032.3 545.6L1045.1 544.4L1057.9 542.5" stroke="#2cc82c" stroke-width="2.3"/>
<path class="c" d="M687.2 431.1L700.0 423.0L712.8 443.7L725.6 480.0L738.4 516.0L751.1 532.5L763.9 561.2L776.7 583.8L789.5 606.5L802.3 630.4L815.0 643.8L827.8 661.9L840.6 651.9L853.4 656.9L866.2 661.2L879.0 654.4L891.7 660.4L904.5 639.6L917.3 637.8L930.1 625.0L942.9 624.4L955.6 610.6L968.4 603.8L981.2 591.0L994.0 575.0L1006.8 559.4L1019.5 552.5L1032.3 545.6L1045.1 544.4L1057.9 542.5" stroke="#86ee86" stroke-width="0.9"/>
<path class="c" d="M687.2 431.1L700.0 429.4L712.8 449.0L725.6 460.9L738.4 491.5L751.1 501.2L763.9 524.4L776.7 535.6L789.5 551.5L802.3 576.0L815.0 583.8L827.8 610.1L840.6 595.6L853.4 593.6L866.2 613.8L879.0 597.2L891.7 639.0L904.5 591.6L917.3 614.4L930.1 601.2L942.9 610.6L955.6 582.4L968.4 573.0L981.2 569.8L994.0 554.4L1006.8 543.7L1019.5 541.8L1032.3 540.2L1045.1 529.5L1057.9 531.4" stroke="#1c5a1c" stroke-width="1.8"/>
<rect class="ax" x="679.50" y="398.20" width="392.60" height="309.05" style="stroke:#a6a6a6;stroke-width:1.3"/>
<path class="ax" d="M679.50 398.20V707.25H1072.10" style="stroke:#868686;stroke-width:1.1"/>
<line class="ax" x1="679.50" y1="676.35" x2="683.50" y2="676.35" style="stroke:#6a6a6a;stroke-width:1"/>
<line class="ax" x1="1072.10" y1="676.35" x2="1068.10" y2="676.35" style="stroke:#6a6a6a;stroke-width:1"/>
<line class="ax" x1="679.50" y1="645.45" x2="683.90" y2="645.45" style="stroke:#6a6a6a;stroke-width:1"/>
<line class="ax" x1="1072.10" y1="645.45" x2="1067.70" y2="645.45" style="stroke:#6a6a6a;stroke-width:1"/>
<line class="ax" x1="679.50" y1="614.55" x2="683.50" y2="614.55" style="stroke:#6a6a6a;stroke-width:1"/>
<line class="ax" x1="1072.10" y1="614.55" x2="1068.10" y2="614.55" style="stroke:#6a6a6a;stroke-width:1"/>
<line class="ax" x1="679.50" y1="583.65" x2="683.90" y2="583.65" style="stroke:#6a6a6a;stroke-width:1"/>
<line class="ax" x1="1072.10" y1="583.65" x2="1067.70" y2="583.65" style="stroke:#6a6a6a;stroke-width:1"/>
<line class="ax" x1="679.50" y1="552.75" x2="683.50" y2="552.75" style="stroke:#6a6a6a;stroke-width:1"/>
<line class="ax" x1="1072.10" y1="552.75" x2="1068.10" y2="552.75" style="stroke:#6a6a6a;stroke-width:1"/>
<line class="ax" x1="679.50" y1="521.85" x2="683.90" y2="521.85" style="stroke:#6a6a6a;stroke-width:1"/>
<line class="ax" x1="1072.10" y1="521.85" x2="1067.70" y2="521.85" style="stroke:#6a6a6a;stroke-width:1"/>
<line class="ax" x1="679.50" y1="490.95" x2="683.50" y2="490.95" style="stroke:#6a6a6a;stroke-width:1"/>
<line class="ax" x1="1072.10" y1="490.95" x2="1068.10" y2="490.95" style="stroke:#6a6a6a;stroke-width:1"/>
<line class="ax" x1="679.50" y1="460.05" x2="683.90" y2="460.05" style="stroke:#6a6a6a;stroke-width:1"/>
<line class="ax" x1="1072.10" y1="460.05" x2="1067.70" y2="460.05" style="stroke:#6a6a6a;stroke-width:1"/>
<line class="ax" x1="679.50" y1="429.15" x2="683.50" y2="429.15" style="stroke:#6a6a6a;stroke-width:1"/>
<line class="ax" x1="1072.10" y1="429.15" x2="1068.10" y2="429.15" style="stroke:#6a6a6a;stroke-width:1"/>
<line class="ax" x1="686.60" y1="707.25" x2="686.60" y2="702.85" style="stroke:#6a6a6a;stroke-width:1"/>
<line class="ax" x1="686.60" y1="398.20" x2="686.60" y2="402.60" style="stroke:#6a6a6a;stroke-width:1"/>
<line class="ax" x1="721.64" y1="707.25" x2="721.64" y2="703.25" style="stroke:#6a6a6a;stroke-width:1"/>
<line class="ax" x1="721.64" y1="398.20" x2="721.64" y2="402.20" style="stroke:#6a6a6a;stroke-width:1"/>
<line class="ax" x1="756.68" y1="707.25" x2="756.68" y2="702.85" style="stroke:#6a6a6a;stroke-width:1"/>
<line class="ax" x1="756.68" y1="398.20" x2="756.68" y2="402.60" style="stroke:#6a6a6a;stroke-width:1"/>
<line class="ax" x1="791.72" y1="707.25" x2="791.72" y2="703.25" style="stroke:#6a6a6a;stroke-width:1"/>
<line class="ax" x1="791.72" y1="398.20" x2="791.72" y2="402.20" style="stroke:#6a6a6a;stroke-width:1"/>
<line class="ax" x1="826.76" y1="707.25" x2="826.76" y2="702.85" style="stroke:#6a6a6a;stroke-width:1"/>
<line class="ax" x1="826.76" y1="398.20" x2="826.76" y2="402.60" style="stroke:#6a6a6a;stroke-width:1"/>
<line class="ax" x1="861.80" y1="707.25" x2="861.80" y2="703.25" style="stroke:#6a6a6a;stroke-width:1"/>
<line class="ax" x1="861.80" y1="398.20" x2="861.80" y2="402.20" style="stroke:#6a6a6a;stroke-width:1"/>
<line class="ax" x1="896.84" y1="707.25" x2="896.84" y2="702.85" style="stroke:#6a6a6a;stroke-width:1"/>
<line class="ax" x1="896.84" y1="398.20" x2="896.84" y2="402.60" style="stroke:#6a6a6a;stroke-width:1"/>
<line class="ax" x1="931.88" y1="707.25" x2="931.88" y2="703.25" style="stroke:#6a6a6a;stroke-width:1"/>
<line class="ax" x1="931.88" y1="398.20" x2="931.88" y2="402.20" style="stroke:#6a6a6a;stroke-width:1"/>
<line class="ax" x1="966.92" y1="707.25" x2="966.92" y2="702.85" style="stroke:#6a6a6a;stroke-width:1"/>
<line class="ax" x1="966.92" y1="398.20" x2="966.92" y2="402.60" style="stroke:#6a6a6a;stroke-width:1"/>
<line class="ax" x1="1001.96" y1="707.25" x2="1001.96" y2="703.25" style="stroke:#6a6a6a;stroke-width:1"/>
<line class="ax" x1="1001.96" y1="398.20" x2="1001.96" y2="402.20" style="stroke:#6a6a6a;stroke-width:1"/>
<line class="ax" x1="1037.00" y1="707.25" x2="1037.00" y2="702.85" style="stroke:#6a6a6a;stroke-width:1"/>
<line class="ax" x1="1037.00" y1="398.20" x2="1037.00" y2="402.60" style="stroke:#6a6a6a;stroke-width:1"/>
<text class="tk" x="678.00" y="402.90" text-anchor="end">1</text>
<text class="tk" x="676.50" y="465.25" text-anchor="end">0.8</text>
<text class="tk" x="676.50" y="527.05" text-anchor="end">0.6</text>
<text class="tk" x="676.50" y="588.85" text-anchor="end">0.4</text>
<text class="tk" x="676.50" y="650.65" text-anchor="end">0.2</text>
<text class="tk" x="676.50" y="712.45" text-anchor="end">0</text>
<text class="tk" x="686.90" y="729.05" text-anchor="middle">0</text>
<text class="tk" x="756.98" y="729.05" text-anchor="middle">1</text>
<text class="tk" x="827.06" y="729.05" text-anchor="middle">2</text>
<text class="tk" x="897.14" y="729.05" text-anchor="middle">3</text>
<text class="tk" x="967.22" y="729.05" text-anchor="middle">4</text>
<text class="tk" x="1037.30" y="729.05" text-anchor="middle">5</text>
<text class="xl" x="812.00" y="761.50">time</text>
<text class="mi" font-size="37" x="883.00" y="761.50">t</text>
<text class="mi" font-size="37" x="897.00" y="761.50">J</text>
<text class="mr" font-size="22" x="914.00" y="765.10">0</text>
<text class="pl" x="549.60" y="391.00" text-anchor="start" style="font-size:33.5px">d</text>
<text class="xl" x="559.40" y="530.90" text-anchor="start" style="font-size:30px">probe</text>
<text class="xl" x="559.40" y="566.80" text-anchor="start" style="font-size:30px">signal</text>
<text class="mr" x="558.5" y="611" font-size="37">−</text>
<text x="584.3" y="611.5" font-size="33" style="font-family:'DejaVu Sans',sans-serif;stroke:#fff;stroke-width:0.7px;paint-order:fill stroke">⟨</text>
<text class="mi" x="595" y="609" font-size="34">σ</text>
<text class="mi" x="615.5" y="593.3" font-size="21">z</text>
<text class="mr" x="614.3" y="616" font-size="19.5">1</text>
<text x="625.3" y="611.5" font-size="33" style="font-family:'DejaVu Sans',sans-serif;stroke:#fff;stroke-width:0.7px;paint-order:fill stroke">⟩</text>
</svg>
</body></html>
